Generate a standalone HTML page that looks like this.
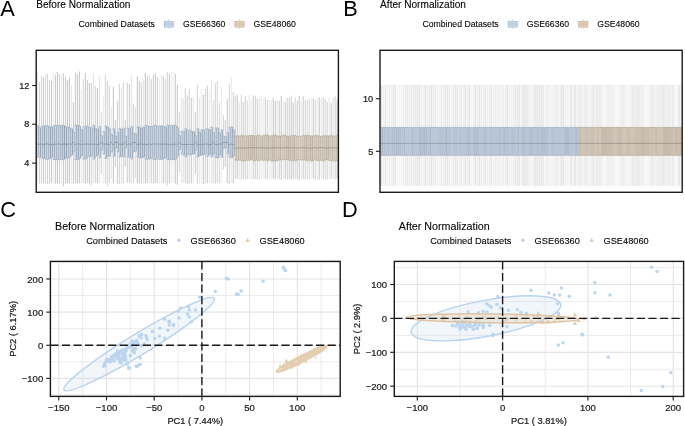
<!DOCTYPE html>
<html><head><meta charset="utf-8"><style>
html,body{margin:0;padding:0;background:#fff;}
svg{display:block;}
text{font-family:"Liberation Sans", sans-serif;}
</style></head><body>
<svg width="685" height="426" viewBox="0 0 685 426">
<rect width="685" height="426" fill="#fff"/>
<g opacity="0.999">
<text x="0.30" y="16.00" font-size="21.8" text-anchor="start" fill="#000" >A</text>
<text x="343.20" y="16.00" font-size="21.8" text-anchor="start" fill="#000" >B</text>
<text x="0.20" y="216.70" font-size="21.8" text-anchor="start" fill="#000" >C</text>
<text x="341.90" y="216.70" font-size="21.8" text-anchor="start" fill="#000" >D</text>
<text x="36.20" y="7.90" font-size="10.1" text-anchor="start" fill="#000" stroke="#000" stroke-width="0.1" >Before Normalization</text>
<text x="78.60" y="26.90" font-size="8.7" text-anchor="start" fill="#000" stroke="#000" stroke-width="0.1" >Combined Datasets</text>
<line x1="168.9" y1="18.8" x2="168.9" y2="29" stroke="#cfcfcf" stroke-width="0.8"/>
<rect x="164.3" y="21.2" width="9.3" height="5.9" fill="#c6d8ec" stroke="#9aa6b4" stroke-width="0.5"/>
<line x1="164.3" y1="24.15" x2="173.6" y2="24.15" stroke="#9aa6b4" stroke-width="0.4"/>
<line x1="239.4" y1="18.8" x2="239.4" y2="29" stroke="#cfcfcf" stroke-width="0.8"/>
<rect x="234.8" y="21.2" width="9.3" height="5.9" fill="#e2cfb3" stroke="#b0a592" stroke-width="0.5"/>
<line x1="234.8" y1="24.15" x2="244.1" y2="24.15" stroke="#b0a592" stroke-width="0.4"/>
<text x="182.90" y="26.90" font-size="8.7" text-anchor="start" fill="#000" stroke="#000" stroke-width="0.1" >GSE66360</text>
<text x="253.40" y="26.90" font-size="8.7" text-anchor="start" fill="#000" stroke="#000" stroke-width="0.1" >GSE48060</text>
<line x1="37.40" y1="71.20" x2="37.40" y2="183.58" stroke="rgb(234,234,234)" stroke-width="0.9"/>
<line x1="39.40" y1="82.10" x2="39.40" y2="183.51" stroke="rgb(204,204,204)" stroke-width="0.9"/>
<line x1="41.40" y1="76.20" x2="41.40" y2="183.52" stroke="rgb(206,206,206)" stroke-width="0.9"/>
<line x1="43.40" y1="77.30" x2="43.40" y2="182.93" stroke="rgb(195,195,195)" stroke-width="0.9"/>
<line x1="45.39" y1="75.10" x2="45.39" y2="183.93" stroke="rgb(208,208,208)" stroke-width="0.9"/>
<line x1="47.39" y1="74.00" x2="47.39" y2="184.18" stroke="rgb(200,200,200)" stroke-width="0.9"/>
<line x1="49.39" y1="80.10" x2="49.39" y2="183.71" stroke="rgb(205,205,205)" stroke-width="0.9"/>
<line x1="51.39" y1="81.00" x2="51.39" y2="182.89" stroke="rgb(187,187,187)" stroke-width="0.9"/>
<line x1="53.39" y1="73.20" x2="53.39" y2="183.64" stroke="rgb(232,232,232)" stroke-width="0.9"/>
<line x1="55.39" y1="75.10" x2="55.39" y2="183.63" stroke="rgb(192,192,192)" stroke-width="0.9"/>
<line x1="57.39" y1="71.90" x2="57.39" y2="183.21" stroke="rgb(186,186,186)" stroke-width="0.9"/>
<line x1="59.38" y1="74.00" x2="59.38" y2="183.72" stroke="rgb(199,199,199)" stroke-width="0.9"/>
<line x1="61.38" y1="74.40" x2="61.38" y2="183.98" stroke="rgb(231,231,231)" stroke-width="0.9"/>
<line x1="63.38" y1="73.00" x2="63.38" y2="186.30" stroke="rgb(195,195,195)" stroke-width="0.9"/>
<line x1="65.38" y1="76.60" x2="65.38" y2="183.87" stroke="rgb(198,198,198)" stroke-width="0.9"/>
<line x1="67.38" y1="80.20" x2="67.38" y2="183.34" stroke="rgb(186,186,186)" stroke-width="0.9"/>
<line x1="69.38" y1="78.10" x2="69.38" y2="183.09" stroke="rgb(187,187,187)" stroke-width="0.9"/>
<line x1="71.38" y1="84.90" x2="71.38" y2="183.79" stroke="rgb(226,226,226)" stroke-width="0.9"/>
<line x1="73.38" y1="102.10" x2="73.38" y2="183.59" stroke="rgb(192,192,192)" stroke-width="0.9"/>
<line x1="75.37" y1="72.50" x2="75.37" y2="183.27" stroke="rgb(195,195,195)" stroke-width="0.9"/>
<line x1="77.37" y1="74.00" x2="77.37" y2="183.37" stroke="rgb(189,189,189)" stroke-width="0.9"/>
<line x1="79.37" y1="71.50" x2="79.37" y2="182.94" stroke="rgb(187,187,187)" stroke-width="0.9"/>
<line x1="81.37" y1="89.00" x2="81.37" y2="183.05" stroke="rgb(228,228,228)" stroke-width="0.9"/>
<line x1="83.37" y1="79.10" x2="83.37" y2="183.07" stroke="rgb(209,209,209)" stroke-width="0.9"/>
<line x1="85.37" y1="73.00" x2="85.37" y2="183.70" stroke="rgb(189,189,189)" stroke-width="0.9"/>
<line x1="87.37" y1="80.20" x2="87.37" y2="183.10" stroke="rgb(194,194,194)" stroke-width="0.9"/>
<line x1="89.36" y1="82.90" x2="89.36" y2="184.20" stroke="rgb(186,186,186)" stroke-width="0.9"/>
<line x1="91.36" y1="83.20" x2="91.36" y2="185.50" stroke="rgb(205,205,205)" stroke-width="0.9"/>
<line x1="93.36" y1="73.20" x2="93.36" y2="182.86" stroke="rgb(222,222,222)" stroke-width="0.9"/>
<line x1="95.36" y1="85.80" x2="95.36" y2="182.81" stroke="rgb(205,205,205)" stroke-width="0.9"/>
<line x1="97.36" y1="88.00" x2="97.36" y2="183.34" stroke="rgb(188,188,188)" stroke-width="0.9"/>
<line x1="99.36" y1="76.60" x2="99.36" y2="183.69" stroke="rgb(220,220,220)" stroke-width="0.9"/>
<line x1="101.36" y1="112.40" x2="101.36" y2="173.90" stroke="rgb(205,205,205)" stroke-width="0.9"/>
<line x1="103.36" y1="96.30" x2="103.36" y2="183.62" stroke="rgb(233,233,233)" stroke-width="0.9"/>
<line x1="105.35" y1="75.10" x2="105.35" y2="183.34" stroke="rgb(206,206,206)" stroke-width="0.9"/>
<line x1="107.35" y1="81.00" x2="107.35" y2="186.30" stroke="rgb(205,205,205)" stroke-width="0.9"/>
<line x1="109.35" y1="85.80" x2="109.35" y2="183.02" stroke="rgb(206,206,206)" stroke-width="0.9"/>
<line x1="111.35" y1="107.00" x2="111.35" y2="179.00" stroke="rgb(226,226,226)" stroke-width="0.9"/>
<line x1="113.35" y1="86.80" x2="113.35" y2="183.39" stroke="rgb(189,189,189)" stroke-width="0.9"/>
<line x1="115.35" y1="120.00" x2="115.35" y2="166.60" stroke="rgb(194,194,194)" stroke-width="0.9"/>
<line x1="117.35" y1="100.70" x2="117.35" y2="183.84" stroke="rgb(198,198,198)" stroke-width="0.9"/>
<line x1="119.34" y1="83.90" x2="119.34" y2="184.07" stroke="rgb(201,201,201)" stroke-width="0.9"/>
<line x1="121.34" y1="88.30" x2="121.34" y2="184.10" stroke="rgb(221,221,221)" stroke-width="0.9"/>
<line x1="123.34" y1="82.90" x2="123.34" y2="183.58" stroke="rgb(205,205,205)" stroke-width="0.9"/>
<line x1="125.34" y1="120.00" x2="125.34" y2="166.60" stroke="rgb(192,192,192)" stroke-width="0.9"/>
<line x1="127.34" y1="82.90" x2="127.34" y2="182.90" stroke="rgb(199,199,199)" stroke-width="0.9"/>
<line x1="129.34" y1="83.90" x2="129.34" y2="182.87" stroke="rgb(195,195,195)" stroke-width="0.9"/>
<line x1="131.34" y1="75.60" x2="131.34" y2="184.80" stroke="rgb(221,221,221)" stroke-width="0.9"/>
<line x1="133.34" y1="103.60" x2="133.34" y2="182.99" stroke="rgb(200,200,200)" stroke-width="0.9"/>
<line x1="135.33" y1="107.40" x2="135.33" y2="178.20" stroke="rgb(208,208,208)" stroke-width="0.9"/>
<line x1="137.33" y1="77.00" x2="137.33" y2="183.00" stroke="rgb(187,187,187)" stroke-width="0.9"/>
<line x1="139.33" y1="80.70" x2="139.33" y2="183.30" stroke="rgb(195,195,195)" stroke-width="0.9"/>
<line x1="141.33" y1="82.40" x2="141.33" y2="183.69" stroke="rgb(201,201,201)" stroke-width="0.9"/>
<line x1="143.33" y1="78.80" x2="143.33" y2="183.25" stroke="rgb(221,221,221)" stroke-width="0.9"/>
<line x1="145.33" y1="72.90" x2="145.33" y2="183.31" stroke="rgb(187,187,187)" stroke-width="0.9"/>
<line x1="147.33" y1="76.20" x2="147.33" y2="182.98" stroke="rgb(196,196,196)" stroke-width="0.9"/>
<line x1="149.33" y1="74.80" x2="149.33" y2="183.46" stroke="rgb(221,221,221)" stroke-width="0.9"/>
<line x1="151.32" y1="79.10" x2="151.32" y2="182.84" stroke="rgb(201,201,201)" stroke-width="0.9"/>
<line x1="153.32" y1="75.10" x2="153.32" y2="183.73" stroke="rgb(198,198,198)" stroke-width="0.9"/>
<line x1="155.32" y1="73.40" x2="155.32" y2="182.90" stroke="rgb(188,188,188)" stroke-width="0.9"/>
<line x1="157.32" y1="76.90" x2="157.32" y2="183.16" stroke="rgb(199,199,199)" stroke-width="0.9"/>
<line x1="159.32" y1="79.10" x2="159.32" y2="184.11" stroke="rgb(231,231,231)" stroke-width="0.9"/>
<line x1="161.32" y1="74.80" x2="161.32" y2="183.45" stroke="rgb(228,228,228)" stroke-width="0.9"/>
<line x1="163.32" y1="76.20" x2="163.32" y2="183.52" stroke="rgb(195,195,195)" stroke-width="0.9"/>
<line x1="165.31" y1="78.80" x2="165.31" y2="182.83" stroke="rgb(208,208,208)" stroke-width="0.9"/>
<line x1="167.31" y1="71.90" x2="167.31" y2="185.50" stroke="rgb(201,201,201)" stroke-width="0.9"/>
<line x1="169.31" y1="74.00" x2="169.31" y2="183.32" stroke="rgb(190,190,190)" stroke-width="0.9"/>
<line x1="171.31" y1="71.90" x2="171.31" y2="183.53" stroke="rgb(232,232,232)" stroke-width="0.9"/>
<line x1="173.31" y1="71.90" x2="173.31" y2="183.42" stroke="rgb(234,234,234)" stroke-width="0.9"/>
<line x1="175.31" y1="73.70" x2="175.31" y2="183.73" stroke="rgb(192,192,192)" stroke-width="0.9"/>
<line x1="177.31" y1="84.60" x2="177.31" y2="184.80" stroke="rgb(192,192,192)" stroke-width="0.9"/>
<line x1="179.31" y1="112.40" x2="179.31" y2="172.40" stroke="rgb(204,204,204)" stroke-width="0.9"/>
<line x1="181.30" y1="97.00" x2="181.30" y2="182.99" stroke="rgb(225,225,225)" stroke-width="0.9"/>
<line x1="183.30" y1="98.20" x2="183.30" y2="182.86" stroke="rgb(221,221,221)" stroke-width="0.9"/>
<line x1="185.30" y1="88.60" x2="185.30" y2="182.96" stroke="rgb(201,201,201)" stroke-width="0.9"/>
<line x1="187.30" y1="95.30" x2="187.30" y2="183.96" stroke="rgb(198,198,198)" stroke-width="0.9"/>
<line x1="189.30" y1="89.00" x2="189.30" y2="183.74" stroke="rgb(208,208,208)" stroke-width="0.9"/>
<line x1="191.30" y1="97.80" x2="191.30" y2="183.67" stroke="rgb(196,196,196)" stroke-width="0.9"/>
<line x1="193.30" y1="97.00" x2="193.30" y2="183.19" stroke="rgb(229,229,229)" stroke-width="0.9"/>
<line x1="195.29" y1="111.90" x2="195.29" y2="173.90" stroke="rgb(194,194,194)" stroke-width="0.9"/>
<line x1="197.29" y1="84.90" x2="197.29" y2="183.71" stroke="rgb(204,204,204)" stroke-width="0.9"/>
<line x1="199.29" y1="98.50" x2="199.29" y2="183.37" stroke="rgb(223,223,223)" stroke-width="0.9"/>
<line x1="201.29" y1="89.00" x2="201.29" y2="183.17" stroke="rgb(232,232,232)" stroke-width="0.9"/>
<line x1="203.29" y1="94.80" x2="203.29" y2="184.18" stroke="rgb(189,189,189)" stroke-width="0.9"/>
<line x1="205.29" y1="89.00" x2="205.29" y2="183.55" stroke="rgb(206,206,206)" stroke-width="0.9"/>
<line x1="207.29" y1="85.80" x2="207.29" y2="182.91" stroke="rgb(192,192,192)" stroke-width="0.9"/>
<line x1="209.29" y1="91.90" x2="209.29" y2="183.16" stroke="rgb(231,231,231)" stroke-width="0.9"/>
<line x1="211.28" y1="80.20" x2="211.28" y2="183.55" stroke="rgb(220,220,220)" stroke-width="0.9"/>
<line x1="213.28" y1="100.00" x2="213.28" y2="183.12" stroke="rgb(210,210,210)" stroke-width="0.9"/>
<line x1="215.28" y1="83.20" x2="215.28" y2="184.13" stroke="rgb(202,202,202)" stroke-width="0.9"/>
<line x1="217.28" y1="81.00" x2="217.28" y2="183.02" stroke="rgb(208,208,208)" stroke-width="0.9"/>
<line x1="219.28" y1="103.20" x2="219.28" y2="184.11" stroke="rgb(209,209,209)" stroke-width="0.9"/>
<line x1="221.28" y1="87.50" x2="221.28" y2="183.43" stroke="rgb(230,230,230)" stroke-width="0.9"/>
<line x1="223.28" y1="115.30" x2="223.28" y2="169.50" stroke="rgb(204,204,204)" stroke-width="0.9"/>
<line x1="225.27" y1="120.00" x2="225.27" y2="166.60" stroke="rgb(196,196,196)" stroke-width="0.9"/>
<line x1="227.27" y1="99.20" x2="227.27" y2="183.26" stroke="rgb(192,192,192)" stroke-width="0.9"/>
<line x1="229.27" y1="83.90" x2="229.27" y2="183.95" stroke="rgb(206,206,206)" stroke-width="0.9"/>
<line x1="231.27" y1="76.90" x2="231.27" y2="183.14" stroke="rgb(226,226,226)" stroke-width="0.9"/>
<line x1="233.27" y1="91.90" x2="233.27" y2="183.55" stroke="rgb(196,196,196)" stroke-width="0.9"/>
<line x1="235.27" y1="96.00" x2="235.27" y2="178.61" stroke="rgb(200,200,200)" stroke-width="0.9"/>
<line x1="237.27" y1="94.70" x2="237.27" y2="178.54" stroke="rgb(188,188,188)" stroke-width="0.9"/>
<line x1="239.27" y1="102.80" x2="239.27" y2="179.52" stroke="rgb(222,222,222)" stroke-width="0.9"/>
<line x1="241.26" y1="95.00" x2="241.26" y2="179.59" stroke="rgb(208,208,208)" stroke-width="0.9"/>
<line x1="243.26" y1="101.90" x2="243.26" y2="178.61" stroke="rgb(193,193,193)" stroke-width="0.9"/>
<line x1="245.26" y1="96.00" x2="245.26" y2="179.33" stroke="rgb(202,202,202)" stroke-width="0.9"/>
<line x1="247.26" y1="100.70" x2="247.26" y2="179.00" stroke="rgb(205,205,205)" stroke-width="0.9"/>
<line x1="249.26" y1="94.30" x2="249.26" y2="178.85" stroke="rgb(227,227,227)" stroke-width="0.9"/>
<line x1="251.26" y1="99.80" x2="251.26" y2="178.99" stroke="rgb(228,228,228)" stroke-width="0.9"/>
<line x1="253.26" y1="95.60" x2="253.26" y2="179.23" stroke="rgb(201,201,201)" stroke-width="0.9"/>
<line x1="255.26" y1="95.80" x2="255.26" y2="179.04" stroke="rgb(198,198,198)" stroke-width="0.9"/>
<line x1="257.25" y1="99.00" x2="257.25" y2="179.67" stroke="rgb(201,201,201)" stroke-width="0.9"/>
<line x1="259.25" y1="98.10" x2="259.25" y2="179.70" stroke="rgb(222,222,222)" stroke-width="0.9"/>
<line x1="261.25" y1="95.60" x2="261.25" y2="178.80" stroke="rgb(230,230,230)" stroke-width="0.9"/>
<line x1="263.25" y1="99.00" x2="263.25" y2="178.64" stroke="rgb(231,231,231)" stroke-width="0.9"/>
<line x1="265.25" y1="97.10" x2="265.25" y2="178.76" stroke="rgb(202,202,202)" stroke-width="0.9"/>
<line x1="267.25" y1="99.80" x2="267.25" y2="179.30" stroke="rgb(203,203,203)" stroke-width="0.9"/>
<line x1="269.25" y1="99.80" x2="269.25" y2="178.78" stroke="rgb(228,228,228)" stroke-width="0.9"/>
<line x1="271.24" y1="99.80" x2="271.24" y2="179.32" stroke="rgb(225,225,225)" stroke-width="0.9"/>
<line x1="273.24" y1="97.90" x2="273.24" y2="178.78" stroke="rgb(192,192,192)" stroke-width="0.9"/>
<line x1="275.24" y1="100.80" x2="275.24" y2="178.84" stroke="rgb(189,189,189)" stroke-width="0.9"/>
<line x1="277.24" y1="99.80" x2="277.24" y2="178.66" stroke="rgb(226,226,226)" stroke-width="0.9"/>
<line x1="279.24" y1="100.80" x2="279.24" y2="179.39" stroke="rgb(197,197,197)" stroke-width="0.9"/>
<line x1="281.24" y1="96.00" x2="281.24" y2="179.80" stroke="rgb(192,192,192)" stroke-width="0.9"/>
<line x1="283.24" y1="100.20" x2="283.24" y2="179.22" stroke="rgb(228,228,228)" stroke-width="0.9"/>
<line x1="285.24" y1="101.90" x2="285.24" y2="178.72" stroke="rgb(191,191,191)" stroke-width="0.9"/>
<line x1="287.23" y1="98.10" x2="287.23" y2="179.74" stroke="rgb(200,200,200)" stroke-width="0.9"/>
<line x1="289.23" y1="98.10" x2="289.23" y2="179.17" stroke="rgb(199,199,199)" stroke-width="0.9"/>
<line x1="291.23" y1="95.60" x2="291.23" y2="179.60" stroke="rgb(191,191,191)" stroke-width="0.9"/>
<line x1="293.23" y1="102.80" x2="293.23" y2="178.75" stroke="rgb(191,191,191)" stroke-width="0.9"/>
<line x1="295.23" y1="97.50" x2="295.23" y2="179.54" stroke="rgb(208,208,208)" stroke-width="0.9"/>
<line x1="297.23" y1="100.70" x2="297.23" y2="179.26" stroke="rgb(196,196,196)" stroke-width="0.9"/>
<line x1="299.23" y1="96.00" x2="299.23" y2="179.47" stroke="rgb(191,191,191)" stroke-width="0.9"/>
<line x1="301.22" y1="101.10" x2="301.22" y2="179.20" stroke="rgb(225,225,225)" stroke-width="0.9"/>
<line x1="303.22" y1="96.30" x2="303.22" y2="178.74" stroke="rgb(196,196,196)" stroke-width="0.9"/>
<line x1="305.22" y1="99.80" x2="305.22" y2="179.33" stroke="rgb(205,205,205)" stroke-width="0.9"/>
<line x1="307.22" y1="100.20" x2="307.22" y2="178.94" stroke="rgb(207,207,207)" stroke-width="0.9"/>
<line x1="309.22" y1="99.00" x2="309.22" y2="179.80" stroke="rgb(206,206,206)" stroke-width="0.9"/>
<line x1="311.22" y1="98.10" x2="311.22" y2="178.53" stroke="rgb(229,229,229)" stroke-width="0.9"/>
<line x1="313.22" y1="98.10" x2="313.22" y2="178.57" stroke="rgb(192,192,192)" stroke-width="0.9"/>
<line x1="315.22" y1="99.80" x2="315.22" y2="179.68" stroke="rgb(203,203,203)" stroke-width="0.9"/>
<line x1="317.21" y1="99.00" x2="317.21" y2="179.79" stroke="rgb(230,230,230)" stroke-width="0.9"/>
<line x1="319.21" y1="97.10" x2="319.21" y2="179.49" stroke="rgb(187,187,187)" stroke-width="0.9"/>
<line x1="321.21" y1="98.50" x2="321.21" y2="178.72" stroke="rgb(227,227,227)" stroke-width="0.9"/>
<line x1="323.21" y1="96.90" x2="323.21" y2="179.05" stroke="rgb(202,202,202)" stroke-width="0.9"/>
<line x1="325.21" y1="99.00" x2="325.21" y2="179.35" stroke="rgb(203,203,203)" stroke-width="0.9"/>
<line x1="327.21" y1="101.90" x2="327.21" y2="179.50" stroke="rgb(204,204,204)" stroke-width="0.9"/>
<line x1="329.21" y1="98.10" x2="329.21" y2="178.57" stroke="rgb(225,225,225)" stroke-width="0.9"/>
<line x1="331.20" y1="103.00" x2="331.20" y2="178.92" stroke="rgb(193,193,193)" stroke-width="0.9"/>
<line x1="333.20" y1="97.30" x2="333.20" y2="178.56" stroke="rgb(221,221,221)" stroke-width="0.9"/>
<line x1="335.20" y1="96.40" x2="335.20" y2="179.56" stroke="rgb(205,205,205)" stroke-width="0.9"/>
<line x1="337.20" y1="99.40" x2="337.20" y2="178.76" stroke="rgb(187,187,187)" stroke-width="0.9"/>
<rect x="36.50" y="125.30" width="1.80" height="31.60" fill="rgb(203,219,236)"/>
<rect x="38.50" y="127.60" width="1.80" height="29.80" fill="rgb(203,219,236)"/>
<rect x="40.50" y="126.50" width="1.80" height="31.50" fill="rgb(203,219,236)"/>
<rect x="42.50" y="125.90" width="1.80" height="32.70" fill="rgb(203,219,236)"/>
<rect x="44.49" y="125.70" width="1.80" height="33.40" fill="rgb(203,219,236)"/>
<rect x="46.49" y="125.70" width="1.80" height="33.80" fill="rgb(203,219,236)"/>
<rect x="48.49" y="126.80" width="1.80" height="31.80" fill="rgb(203,219,236)"/>
<rect x="50.49" y="127.00" width="1.80" height="30.40" fill="rgb(203,219,236)"/>
<rect x="52.49" y="125.70" width="1.80" height="33.80" fill="rgb(203,219,236)"/>
<rect x="54.49" y="125.30" width="1.80" height="34.20" fill="rgb(203,219,236)"/>
<rect x="56.49" y="125.30" width="1.80" height="34.40" fill="rgb(203,219,236)"/>
<rect x="58.49" y="125.70" width="1.80" height="34.00" fill="rgb(203,219,236)"/>
<rect x="60.48" y="125.30" width="1.80" height="34.20" fill="rgb(203,219,236)"/>
<rect x="62.48" y="125.30" width="1.80" height="34.20" fill="rgb(203,219,236)"/>
<rect x="64.48" y="126.80" width="1.80" height="31.20" fill="rgb(203,219,236)"/>
<rect x="66.48" y="127.00" width="1.80" height="31.30" fill="rgb(203,219,236)"/>
<rect x="68.48" y="127.60" width="1.80" height="29.80" fill="rgb(203,219,236)"/>
<rect x="70.48" y="128.70" width="1.80" height="26.50" fill="rgb(203,219,236)"/>
<rect x="72.48" y="132.10" width="1.80" height="19.70" fill="rgb(203,219,236)"/>
<rect x="74.47" y="125.30" width="1.80" height="34.20" fill="rgb(203,219,236)"/>
<rect x="76.47" y="125.30" width="1.80" height="34.20" fill="rgb(203,219,236)"/>
<rect x="78.47" y="125.90" width="1.80" height="32.70" fill="rgb(203,219,236)"/>
<rect x="80.47" y="129.30" width="1.80" height="26.40" fill="rgb(203,219,236)"/>
<rect x="82.47" y="127.00" width="1.80" height="32.10" fill="rgb(203,219,236)"/>
<rect x="84.47" y="125.90" width="1.80" height="33.20" fill="rgb(203,219,236)"/>
<rect x="86.47" y="126.50" width="1.80" height="29.80" fill="rgb(203,219,236)"/>
<rect x="88.47" y="127.60" width="1.80" height="29.30" fill="rgb(203,219,236)"/>
<rect x="90.46" y="127.60" width="1.80" height="28.70" fill="rgb(203,219,236)"/>
<rect x="92.46" y="125.30" width="1.80" height="33.80" fill="rgb(203,219,236)"/>
<rect x="94.46" y="128.70" width="1.80" height="27.60" fill="rgb(203,219,236)"/>
<rect x="96.46" y="128.70" width="1.80" height="26.50" fill="rgb(203,219,236)"/>
<rect x="98.46" y="126.50" width="1.80" height="31.50" fill="rgb(203,219,236)"/>
<rect x="100.46" y="135.50" width="1.80" height="14.60" fill="rgb(203,219,236)"/>
<rect x="102.46" y="131.50" width="1.80" height="22.60" fill="rgb(203,219,236)"/>
<rect x="104.45" y="125.90" width="1.80" height="32.70" fill="rgb(203,219,236)"/>
<rect x="106.45" y="127.00" width="1.80" height="29.30" fill="rgb(203,219,236)"/>
<rect x="108.45" y="128.70" width="1.80" height="27.60" fill="rgb(203,219,236)"/>
<rect x="110.45" y="134.30" width="1.80" height="17.50" fill="rgb(203,219,236)"/>
<rect x="112.45" y="128.70" width="1.80" height="27.60" fill="rgb(203,219,236)"/>
<rect x="114.45" y="136.00" width="1.80" height="12.20" fill="rgb(203,219,236)"/>
<rect x="116.45" y="132.10" width="1.80" height="19.70" fill="rgb(203,219,236)"/>
<rect x="118.45" y="128.70" width="1.80" height="28.20" fill="rgb(203,219,236)"/>
<rect x="120.44" y="129.30" width="1.80" height="27.00" fill="rgb(203,219,236)"/>
<rect x="122.44" y="128.10" width="1.80" height="28.80" fill="rgb(203,219,236)"/>
<rect x="124.44" y="136.00" width="1.80" height="12.20" fill="rgb(203,219,236)"/>
<rect x="126.44" y="128.10" width="1.80" height="28.80" fill="rgb(203,219,236)"/>
<rect x="128.44" y="128.10" width="1.80" height="29.30" fill="rgb(203,219,236)"/>
<rect x="130.44" y="126.50" width="1.80" height="32.60" fill="rgb(203,219,236)"/>
<rect x="132.44" y="133.20" width="1.80" height="18.60" fill="rgb(203,219,236)"/>
<rect x="134.43" y="133.80" width="1.80" height="17.40" fill="rgb(203,219,236)"/>
<rect x="136.43" y="126.80" width="1.80" height="30.10" fill="rgb(203,219,236)"/>
<rect x="138.43" y="127.60" width="1.80" height="30.40" fill="rgb(203,219,236)"/>
<rect x="140.43" y="128.10" width="1.80" height="29.90" fill="rgb(203,219,236)"/>
<rect x="142.43" y="127.00" width="1.80" height="29.90" fill="rgb(203,219,236)"/>
<rect x="144.43" y="125.30" width="1.80" height="33.80" fill="rgb(203,219,236)"/>
<rect x="146.43" y="126.10" width="1.80" height="33.00" fill="rgb(203,219,236)"/>
<rect x="148.43" y="126.10" width="1.80" height="33.00" fill="rgb(203,219,236)"/>
<rect x="150.42" y="126.80" width="1.80" height="31.20" fill="rgb(203,219,236)"/>
<rect x="152.42" y="125.70" width="1.80" height="33.80" fill="rgb(203,219,236)"/>
<rect x="154.42" y="125.30" width="1.80" height="34.20" fill="rgb(203,219,236)"/>
<rect x="156.42" y="126.50" width="1.80" height="32.10" fill="rgb(203,219,236)"/>
<rect x="158.42" y="125.90" width="1.80" height="33.60" fill="rgb(203,219,236)"/>
<rect x="160.42" y="125.70" width="1.80" height="33.80" fill="rgb(203,219,236)"/>
<rect x="162.42" y="126.50" width="1.80" height="32.10" fill="rgb(203,219,236)"/>
<rect x="164.42" y="127.00" width="1.80" height="31.00" fill="rgb(203,219,236)"/>
<rect x="166.41" y="125.30" width="1.80" height="34.20" fill="rgb(203,219,236)"/>
<rect x="168.41" y="125.90" width="1.80" height="33.60" fill="rgb(203,219,236)"/>
<rect x="170.41" y="125.30" width="1.80" height="34.40" fill="rgb(203,219,236)"/>
<rect x="172.41" y="125.30" width="1.80" height="34.40" fill="rgb(203,219,236)"/>
<rect x="174.41" y="125.30" width="1.80" height="33.80" fill="rgb(203,219,236)"/>
<rect x="176.41" y="127.60" width="1.80" height="28.70" fill="rgb(203,219,236)"/>
<rect x="178.41" y="135.50" width="1.80" height="14.00" fill="rgb(203,219,236)"/>
<rect x="180.40" y="131.50" width="1.80" height="22.60" fill="rgb(203,219,236)"/>
<rect x="182.40" y="131.00" width="1.80" height="24.20" fill="rgb(203,219,236)"/>
<rect x="184.40" y="128.70" width="1.80" height="28.20" fill="rgb(203,219,236)"/>
<rect x="186.40" y="131.00" width="1.80" height="23.10" fill="rgb(203,219,236)"/>
<rect x="188.40" y="129.80" width="1.80" height="25.40" fill="rgb(203,219,236)"/>
<rect x="190.40" y="131.50" width="1.80" height="22.60" fill="rgb(203,219,236)"/>
<rect x="192.40" y="131.50" width="1.80" height="22.60" fill="rgb(203,219,236)"/>
<rect x="194.40" y="135.50" width="1.80" height="14.60" fill="rgb(203,219,236)"/>
<rect x="196.39" y="128.70" width="1.80" height="28.20" fill="rgb(203,219,236)"/>
<rect x="198.39" y="132.10" width="1.80" height="23.60" fill="rgb(203,219,236)"/>
<rect x="200.39" y="129.80" width="1.80" height="25.40" fill="rgb(203,219,236)"/>
<rect x="202.39" y="130.40" width="1.80" height="23.70" fill="rgb(203,219,236)"/>
<rect x="204.39" y="129.30" width="1.80" height="25.30" fill="rgb(203,219,236)"/>
<rect x="206.39" y="128.70" width="1.80" height="27.60" fill="rgb(203,219,236)"/>
<rect x="208.39" y="129.80" width="1.80" height="24.80" fill="rgb(203,219,236)"/>
<rect x="210.38" y="127.00" width="1.80" height="29.90" fill="rgb(203,219,236)"/>
<rect x="212.38" y="132.60" width="1.80" height="21.50" fill="rgb(203,219,236)"/>
<rect x="214.38" y="127.90" width="1.80" height="29.50" fill="rgb(203,219,236)"/>
<rect x="216.38" y="127.90" width="1.80" height="30.10" fill="rgb(203,219,236)"/>
<rect x="218.38" y="132.60" width="1.80" height="22.60" fill="rgb(203,219,236)"/>
<rect x="220.38" y="129.80" width="1.80" height="27.60" fill="rgb(203,219,236)"/>
<rect x="222.38" y="136.00" width="1.80" height="12.40" fill="rgb(203,219,236)"/>
<rect x="224.38" y="136.60" width="1.80" height="11.30" fill="rgb(203,219,236)"/>
<rect x="226.37" y="132.60" width="1.80" height="20.90" fill="rgb(203,219,236)"/>
<rect x="228.37" y="127.60" width="1.80" height="29.30" fill="rgb(203,219,236)"/>
<rect x="230.37" y="126.80" width="1.80" height="31.20" fill="rgb(203,219,236)"/>
<rect x="232.37" y="129.80" width="1.80" height="25.90" fill="rgb(203,219,236)"/>
<rect x="234.37" y="136.26" width="1.80" height="23.81" fill="rgb(228,212,188)"/>
<rect x="236.37" y="135.68" width="1.80" height="24.65" fill="rgb(228,212,188)"/>
<rect x="238.37" y="136.08" width="1.80" height="23.96" fill="rgb(228,212,188)"/>
<rect x="240.36" y="135.04" width="1.80" height="25.74" fill="rgb(228,212,188)"/>
<rect x="242.36" y="136.31" width="1.80" height="24.89" fill="rgb(228,212,188)"/>
<rect x="244.36" y="135.64" width="1.80" height="25.14" fill="rgb(228,212,188)"/>
<rect x="246.36" y="136.15" width="1.80" height="23.84" fill="rgb(228,212,188)"/>
<rect x="248.36" y="135.29" width="1.80" height="25.15" fill="rgb(228,212,188)"/>
<rect x="250.36" y="135.46" width="1.80" height="23.95" fill="rgb(228,212,188)"/>
<rect x="252.36" y="135.63" width="1.80" height="25.30" fill="rgb(228,212,188)"/>
<rect x="254.36" y="135.91" width="1.80" height="24.52" fill="rgb(228,212,188)"/>
<rect x="256.35" y="135.19" width="1.80" height="24.85" fill="rgb(228,212,188)"/>
<rect x="258.35" y="135.31" width="1.80" height="25.27" fill="rgb(228,212,188)"/>
<rect x="260.35" y="136.05" width="1.80" height="23.72" fill="rgb(228,212,188)"/>
<rect x="262.35" y="135.32" width="1.80" height="25.26" fill="rgb(228,212,188)"/>
<rect x="264.35" y="135.00" width="1.80" height="24.88" fill="rgb(228,212,188)"/>
<rect x="266.35" y="134.84" width="1.80" height="26.13" fill="rgb(228,212,188)"/>
<rect x="268.35" y="136.18" width="1.80" height="23.63" fill="rgb(228,212,188)"/>
<rect x="270.35" y="135.74" width="1.80" height="25.40" fill="rgb(228,212,188)"/>
<rect x="272.34" y="135.31" width="1.80" height="25.85" fill="rgb(228,212,188)"/>
<rect x="274.34" y="135.01" width="1.80" height="25.77" fill="rgb(228,212,188)"/>
<rect x="276.34" y="136.13" width="1.80" height="24.77" fill="rgb(228,212,188)"/>
<rect x="278.34" y="135.90" width="1.80" height="23.89" fill="rgb(228,212,188)"/>
<rect x="280.34" y="135.93" width="1.80" height="24.13" fill="rgb(228,212,188)"/>
<rect x="282.34" y="134.91" width="1.80" height="24.56" fill="rgb(228,212,188)"/>
<rect x="284.34" y="135.57" width="1.80" height="24.05" fill="rgb(228,212,188)"/>
<rect x="286.33" y="136.28" width="1.80" height="23.23" fill="rgb(228,212,188)"/>
<rect x="288.33" y="136.02" width="1.80" height="24.26" fill="rgb(228,212,188)"/>
<rect x="290.33" y="135.76" width="1.80" height="24.97" fill="rgb(228,212,188)"/>
<rect x="292.33" y="135.53" width="1.80" height="24.64" fill="rgb(228,212,188)"/>
<rect x="294.33" y="135.62" width="1.80" height="25.48" fill="rgb(228,212,188)"/>
<rect x="296.33" y="136.30" width="1.80" height="23.46" fill="rgb(228,212,188)"/>
<rect x="298.33" y="136.02" width="1.80" height="23.60" fill="rgb(228,212,188)"/>
<rect x="300.33" y="136.29" width="1.80" height="23.73" fill="rgb(228,212,188)"/>
<rect x="302.32" y="135.49" width="1.80" height="24.30" fill="rgb(228,212,188)"/>
<rect x="304.32" y="135.55" width="1.80" height="24.53" fill="rgb(228,212,188)"/>
<rect x="306.32" y="135.17" width="1.80" height="25.49" fill="rgb(228,212,188)"/>
<rect x="308.32" y="135.71" width="1.80" height="24.43" fill="rgb(228,212,188)"/>
<rect x="310.32" y="135.92" width="1.80" height="25.34" fill="rgb(228,212,188)"/>
<rect x="312.32" y="135.98" width="1.80" height="24.18" fill="rgb(228,212,188)"/>
<rect x="314.32" y="135.40" width="1.80" height="24.48" fill="rgb(228,212,188)"/>
<rect x="316.31" y="135.61" width="1.80" height="24.87" fill="rgb(228,212,188)"/>
<rect x="318.31" y="136.10" width="1.80" height="24.44" fill="rgb(228,212,188)"/>
<rect x="320.31" y="136.29" width="1.80" height="24.01" fill="rgb(228,212,188)"/>
<rect x="322.31" y="135.78" width="1.80" height="25.42" fill="rgb(228,212,188)"/>
<rect x="324.31" y="135.76" width="1.80" height="24.19" fill="rgb(228,212,188)"/>
<rect x="326.31" y="135.86" width="1.80" height="23.59" fill="rgb(228,212,188)"/>
<rect x="328.31" y="135.81" width="1.80" height="24.89" fill="rgb(228,212,188)"/>
<rect x="330.31" y="135.44" width="1.80" height="25.34" fill="rgb(228,212,188)"/>
<rect x="332.30" y="135.95" width="1.80" height="24.88" fill="rgb(228,212,188)"/>
<rect x="334.30" y="135.96" width="1.80" height="25.30" fill="rgb(228,212,188)"/>
<rect x="336.30" y="134.98" width="1.80" height="25.28" fill="rgb(228,212,188)"/>
<path d="M36.50 125.30H38.30M36.50 156.90H38.30" stroke="rgb(150,164,180)" stroke-width="0.6" fill="none"/>
<path d="M36.50 144.22H38.30" stroke="rgb(120,132,146)" stroke-width="0.75" fill="none"/>
<line x1="38.40" y1="125.30" x2="38.40" y2="156.90" stroke="rgb(170,183,198)" stroke-width="1.0"/>
<path d="M38.50 127.60H40.30M38.50 157.40H40.30" stroke="rgb(150,164,180)" stroke-width="0.6" fill="none"/>
<path d="M38.50 144.23H40.30" stroke="rgb(120,132,146)" stroke-width="0.75" fill="none"/>
<line x1="40.40" y1="127.60" x2="40.40" y2="157.40" stroke="rgb(152,165,180)" stroke-width="1.0"/>
<path d="M40.50 126.50H42.30M40.50 158.00H42.30" stroke="rgb(150,164,180)" stroke-width="0.6" fill="none"/>
<path d="M40.50 144.03H42.30" stroke="rgb(120,132,146)" stroke-width="0.75" fill="none"/>
<line x1="42.40" y1="126.50" x2="42.40" y2="158.00" stroke="rgb(165,178,193)" stroke-width="1.0"/>
<path d="M42.50 125.90H44.29M42.50 158.60H44.29" stroke="rgb(150,164,180)" stroke-width="0.6" fill="none"/>
<path d="M42.50 144.46H44.29" stroke="rgb(120,132,146)" stroke-width="0.75" fill="none"/>
<line x1="44.40" y1="125.90" x2="44.40" y2="158.60" stroke="rgb(150,163,178)" stroke-width="1.0"/>
<path d="M44.49 125.70H46.29M44.49 159.10H46.29" stroke="rgb(150,164,180)" stroke-width="0.6" fill="none"/>
<path d="M44.49 143.96H46.29" stroke="rgb(120,132,146)" stroke-width="0.75" fill="none"/>
<line x1="46.39" y1="125.70" x2="46.39" y2="159.10" stroke="rgb(166,179,194)" stroke-width="1.0"/>
<path d="M46.49 125.70H48.29M46.49 159.50H48.29" stroke="rgb(150,164,180)" stroke-width="0.6" fill="none"/>
<path d="M46.49 143.93H48.29" stroke="rgb(120,132,146)" stroke-width="0.75" fill="none"/>
<line x1="48.39" y1="125.70" x2="48.39" y2="159.50" stroke="rgb(166,179,194)" stroke-width="1.0"/>
<path d="M48.49 126.80H50.29M48.49 158.60H50.29" stroke="rgb(150,164,180)" stroke-width="0.6" fill="none"/>
<path d="M48.49 144.42H50.29" stroke="rgb(120,132,146)" stroke-width="0.75" fill="none"/>
<line x1="50.39" y1="126.80" x2="50.39" y2="158.60" stroke="rgb(146,159,174)" stroke-width="1.0"/>
<path d="M50.49 127.00H52.29M50.49 157.40H52.29" stroke="rgb(150,164,180)" stroke-width="0.6" fill="none"/>
<path d="M50.49 144.48H52.29" stroke="rgb(120,132,146)" stroke-width="0.75" fill="none"/>
<line x1="52.39" y1="127.00" x2="52.39" y2="157.40" stroke="rgb(152,165,180)" stroke-width="1.0"/>
<path d="M52.49 125.70H54.29M52.49 159.50H54.29" stroke="rgb(150,164,180)" stroke-width="0.6" fill="none"/>
<path d="M52.49 144.52H54.29" stroke="rgb(120,132,146)" stroke-width="0.75" fill="none"/>
<line x1="54.39" y1="125.70" x2="54.39" y2="159.50" stroke="rgb(160,173,188)" stroke-width="1.0"/>
<path d="M54.49 125.30H56.29M54.49 159.50H56.29" stroke="rgb(150,164,180)" stroke-width="0.6" fill="none"/>
<path d="M54.49 144.13H56.29" stroke="rgb(120,132,146)" stroke-width="0.75" fill="none"/>
<line x1="56.39" y1="125.30" x2="56.39" y2="159.50" stroke="rgb(162,175,190)" stroke-width="1.0"/>
<path d="M56.49 125.30H58.29M56.49 159.70H58.29" stroke="rgb(150,164,180)" stroke-width="0.6" fill="none"/>
<path d="M56.49 144.06H58.29" stroke="rgb(120,132,146)" stroke-width="0.75" fill="none"/>
<line x1="58.39" y1="125.30" x2="58.39" y2="159.70" stroke="rgb(167,180,195)" stroke-width="1.0"/>
<path d="M58.49 125.70H60.28M58.49 159.70H60.28" stroke="rgb(150,164,180)" stroke-width="0.6" fill="none"/>
<path d="M58.49 143.96H60.28" stroke="rgb(120,132,146)" stroke-width="0.75" fill="none"/>
<line x1="60.38" y1="125.70" x2="60.38" y2="159.70" stroke="rgb(163,176,191)" stroke-width="1.0"/>
<path d="M60.48 125.30H62.28M60.48 159.50H62.28" stroke="rgb(150,164,180)" stroke-width="0.6" fill="none"/>
<path d="M60.48 144.60H62.28" stroke="rgb(120,132,146)" stroke-width="0.75" fill="none"/>
<line x1="62.38" y1="125.30" x2="62.38" y2="159.50" stroke="rgb(154,167,182)" stroke-width="1.0"/>
<path d="M62.48 125.30H64.28M62.48 159.50H64.28" stroke="rgb(150,164,180)" stroke-width="0.6" fill="none"/>
<path d="M62.48 144.12H64.28" stroke="rgb(120,132,146)" stroke-width="0.75" fill="none"/>
<line x1="64.38" y1="125.30" x2="64.38" y2="159.50" stroke="rgb(146,159,174)" stroke-width="1.0"/>
<path d="M64.48 126.80H66.28M64.48 158.00H66.28" stroke="rgb(150,164,180)" stroke-width="0.6" fill="none"/>
<path d="M64.48 143.95H66.28" stroke="rgb(120,132,146)" stroke-width="0.75" fill="none"/>
<line x1="66.38" y1="126.80" x2="66.38" y2="158.00" stroke="rgb(149,162,177)" stroke-width="1.0"/>
<path d="M66.48 127.00H68.28M66.48 158.30H68.28" stroke="rgb(150,164,180)" stroke-width="0.6" fill="none"/>
<path d="M66.48 144.49H68.28" stroke="rgb(120,132,146)" stroke-width="0.75" fill="none"/>
<line x1="68.38" y1="127.00" x2="68.38" y2="158.30" stroke="rgb(167,180,195)" stroke-width="1.0"/>
<path d="M68.48 127.60H70.28M68.48 157.40H70.28" stroke="rgb(150,164,180)" stroke-width="0.6" fill="none"/>
<path d="M68.48 143.90H70.28" stroke="rgb(120,132,146)" stroke-width="0.75" fill="none"/>
<line x1="70.38" y1="127.60" x2="70.38" y2="157.40" stroke="rgb(161,174,189)" stroke-width="1.0"/>
<path d="M70.48 128.70H72.28M70.48 155.20H72.28" stroke="rgb(150,164,180)" stroke-width="0.6" fill="none"/>
<path d="M70.48 144.16H72.28" stroke="rgb(120,132,146)" stroke-width="0.75" fill="none"/>
<line x1="72.38" y1="128.70" x2="72.38" y2="155.20" stroke="rgb(148,161,176)" stroke-width="1.0"/>
<path d="M72.48 132.10H74.27M72.48 151.80H74.27" stroke="rgb(150,164,180)" stroke-width="0.6" fill="none"/>
<path d="M72.48 142.60H74.27" stroke="rgb(120,132,146)" stroke-width="0.75" fill="none"/>
<line x1="74.38" y1="132.10" x2="74.38" y2="151.80" stroke="rgb(170,183,198)" stroke-width="1.0"/>
<path d="M74.47 125.30H76.27M74.47 159.50H76.27" stroke="rgb(150,164,180)" stroke-width="0.6" fill="none"/>
<path d="M74.47 144.37H76.27" stroke="rgb(120,132,146)" stroke-width="0.75" fill="none"/>
<line x1="76.37" y1="125.30" x2="76.37" y2="159.50" stroke="rgb(156,169,184)" stroke-width="1.0"/>
<path d="M76.47 125.30H78.27M76.47 159.50H78.27" stroke="rgb(150,164,180)" stroke-width="0.6" fill="none"/>
<path d="M76.47 143.91H78.27" stroke="rgb(120,132,146)" stroke-width="0.75" fill="none"/>
<line x1="78.37" y1="125.30" x2="78.37" y2="159.50" stroke="rgb(150,163,178)" stroke-width="1.0"/>
<path d="M78.47 125.90H80.27M78.47 158.60H80.27" stroke="rgb(150,164,180)" stroke-width="0.6" fill="none"/>
<path d="M78.47 144.07H80.27" stroke="rgb(120,132,146)" stroke-width="0.75" fill="none"/>
<line x1="80.37" y1="125.90" x2="80.37" y2="158.60" stroke="rgb(160,173,188)" stroke-width="1.0"/>
<path d="M80.47 129.30H82.27M80.47 155.70H82.27" stroke="rgb(150,164,180)" stroke-width="0.6" fill="none"/>
<path d="M80.47 144.46H82.27" stroke="rgb(120,132,146)" stroke-width="0.75" fill="none"/>
<line x1="82.37" y1="129.30" x2="82.37" y2="155.70" stroke="rgb(152,165,180)" stroke-width="1.0"/>
<path d="M82.47 127.00H84.27M82.47 159.10H84.27" stroke="rgb(150,164,180)" stroke-width="0.6" fill="none"/>
<path d="M82.47 144.21H84.27" stroke="rgb(120,132,146)" stroke-width="0.75" fill="none"/>
<line x1="84.37" y1="127.00" x2="84.37" y2="159.10" stroke="rgb(170,183,198)" stroke-width="1.0"/>
<path d="M84.47 125.90H86.27M84.47 159.10H86.27" stroke="rgb(150,164,180)" stroke-width="0.6" fill="none"/>
<path d="M84.47 143.99H86.27" stroke="rgb(120,132,146)" stroke-width="0.75" fill="none"/>
<line x1="86.37" y1="125.90" x2="86.37" y2="159.10" stroke="rgb(158,171,186)" stroke-width="1.0"/>
<path d="M86.47 126.50H88.27M86.47 156.30H88.27" stroke="rgb(150,164,180)" stroke-width="0.6" fill="none"/>
<path d="M86.47 144.19H88.27" stroke="rgb(120,132,146)" stroke-width="0.75" fill="none"/>
<line x1="88.37" y1="126.50" x2="88.37" y2="156.30" stroke="rgb(171,184,199)" stroke-width="1.0"/>
<path d="M88.47 127.60H90.26M88.47 156.90H90.26" stroke="rgb(150,164,180)" stroke-width="0.6" fill="none"/>
<path d="M88.47 144.31H90.26" stroke="rgb(120,132,146)" stroke-width="0.75" fill="none"/>
<line x1="90.36" y1="127.60" x2="90.36" y2="156.90" stroke="rgb(152,165,180)" stroke-width="1.0"/>
<path d="M90.46 127.60H92.26M90.46 156.30H92.26" stroke="rgb(150,164,180)" stroke-width="0.6" fill="none"/>
<path d="M90.46 144.03H92.26" stroke="rgb(120,132,146)" stroke-width="0.75" fill="none"/>
<line x1="92.36" y1="127.60" x2="92.36" y2="156.30" stroke="rgb(166,179,194)" stroke-width="1.0"/>
<path d="M92.46 125.30H94.26M92.46 159.10H94.26" stroke="rgb(150,164,180)" stroke-width="0.6" fill="none"/>
<path d="M92.46 144.30H94.26" stroke="rgb(120,132,146)" stroke-width="0.75" fill="none"/>
<line x1="94.36" y1="125.30" x2="94.36" y2="159.10" stroke="rgb(152,165,180)" stroke-width="1.0"/>
<path d="M94.46 128.70H96.26M94.46 156.30H96.26" stroke="rgb(150,164,180)" stroke-width="0.6" fill="none"/>
<path d="M94.46 144.21H96.26" stroke="rgb(120,132,146)" stroke-width="0.75" fill="none"/>
<line x1="96.36" y1="128.70" x2="96.36" y2="156.30" stroke="rgb(156,169,184)" stroke-width="1.0"/>
<path d="M96.46 128.70H98.26M96.46 155.20H98.26" stroke="rgb(150,164,180)" stroke-width="0.6" fill="none"/>
<path d="M96.46 144.48H98.26" stroke="rgb(120,132,146)" stroke-width="0.75" fill="none"/>
<line x1="98.36" y1="128.70" x2="98.36" y2="155.20" stroke="rgb(148,161,176)" stroke-width="1.0"/>
<path d="M98.46 126.50H100.26M98.46 158.00H100.26" stroke="rgb(150,164,180)" stroke-width="0.6" fill="none"/>
<path d="M98.46 144.05H100.26" stroke="rgb(120,132,146)" stroke-width="0.75" fill="none"/>
<line x1="100.36" y1="126.50" x2="100.36" y2="158.00" stroke="rgb(165,178,193)" stroke-width="1.0"/>
<path d="M100.46 135.50H102.26M100.46 150.10H102.26" stroke="rgb(150,164,180)" stroke-width="0.6" fill="none"/>
<path d="M100.46 142.60H102.26" stroke="rgb(120,132,146)" stroke-width="0.75" fill="none"/>
<line x1="102.36" y1="135.50" x2="102.36" y2="150.10" stroke="rgb(160,173,188)" stroke-width="1.0"/>
<path d="M102.46 131.50H104.25M102.46 154.10H104.25" stroke="rgb(150,164,180)" stroke-width="0.6" fill="none"/>
<path d="M102.46 143.99H104.25" stroke="rgb(120,132,146)" stroke-width="0.75" fill="none"/>
<line x1="104.36" y1="131.50" x2="104.36" y2="154.10" stroke="rgb(164,177,192)" stroke-width="1.0"/>
<path d="M104.45 125.90H106.25M104.45 158.60H106.25" stroke="rgb(150,164,180)" stroke-width="0.6" fill="none"/>
<path d="M104.45 144.00H106.25" stroke="rgb(120,132,146)" stroke-width="0.75" fill="none"/>
<line x1="106.35" y1="125.90" x2="106.35" y2="158.60" stroke="rgb(150,163,178)" stroke-width="1.0"/>
<path d="M106.45 127.00H108.25M106.45 156.30H108.25" stroke="rgb(150,164,180)" stroke-width="0.6" fill="none"/>
<path d="M106.45 144.12H108.25" stroke="rgb(120,132,146)" stroke-width="0.75" fill="none"/>
<line x1="108.35" y1="127.00" x2="108.35" y2="156.30" stroke="rgb(153,166,181)" stroke-width="1.0"/>
<path d="M108.45 128.70H110.25M108.45 156.30H110.25" stroke="rgb(150,164,180)" stroke-width="0.6" fill="none"/>
<path d="M108.45 144.41H110.25" stroke="rgb(120,132,146)" stroke-width="0.75" fill="none"/>
<line x1="110.35" y1="128.70" x2="110.35" y2="156.30" stroke="rgb(163,176,191)" stroke-width="1.0"/>
<path d="M110.45 134.30H112.25M110.45 151.80H112.25" stroke="rgb(150,164,180)" stroke-width="0.6" fill="none"/>
<path d="M110.45 142.60H112.25" stroke="rgb(120,132,146)" stroke-width="0.75" fill="none"/>
<line x1="112.35" y1="134.30" x2="112.35" y2="151.80" stroke="rgb(161,174,189)" stroke-width="1.0"/>
<path d="M112.45 128.70H114.25M112.45 156.30H114.25" stroke="rgb(150,164,180)" stroke-width="0.6" fill="none"/>
<path d="M112.45 144.32H114.25" stroke="rgb(120,132,146)" stroke-width="0.75" fill="none"/>
<line x1="114.35" y1="128.70" x2="114.35" y2="156.30" stroke="rgb(149,162,177)" stroke-width="1.0"/>
<path d="M114.45 136.00H116.25M114.45 148.20H116.25" stroke="rgb(150,164,180)" stroke-width="0.6" fill="none"/>
<path d="M114.45 142.60H116.25" stroke="rgb(120,132,146)" stroke-width="0.75" fill="none"/>
<line x1="116.35" y1="136.00" x2="116.35" y2="148.20" stroke="rgb(153,166,181)" stroke-width="1.0"/>
<path d="M116.45 132.10H118.25M116.45 151.80H118.25" stroke="rgb(150,164,180)" stroke-width="0.6" fill="none"/>
<path d="M116.45 142.60H118.25" stroke="rgb(120,132,146)" stroke-width="0.75" fill="none"/>
<line x1="118.35" y1="132.10" x2="118.35" y2="151.80" stroke="rgb(154,167,182)" stroke-width="1.0"/>
<path d="M118.45 128.70H120.24M118.45 156.90H120.24" stroke="rgb(150,164,180)" stroke-width="0.6" fill="none"/>
<path d="M118.45 144.19H120.24" stroke="rgb(120,132,146)" stroke-width="0.75" fill="none"/>
<line x1="120.34" y1="128.70" x2="120.34" y2="156.90" stroke="rgb(155,168,183)" stroke-width="1.0"/>
<path d="M120.44 129.30H122.24M120.44 156.30H122.24" stroke="rgb(150,164,180)" stroke-width="0.6" fill="none"/>
<path d="M120.44 144.26H122.24" stroke="rgb(120,132,146)" stroke-width="0.75" fill="none"/>
<line x1="122.34" y1="129.30" x2="122.34" y2="156.30" stroke="rgb(150,163,178)" stroke-width="1.0"/>
<path d="M122.44 128.10H124.24M122.44 156.90H124.24" stroke="rgb(150,164,180)" stroke-width="0.6" fill="none"/>
<path d="M122.44 144.06H124.24" stroke="rgb(120,132,146)" stroke-width="0.75" fill="none"/>
<line x1="124.34" y1="128.10" x2="124.34" y2="156.90" stroke="rgb(165,178,193)" stroke-width="1.0"/>
<path d="M124.44 136.00H126.24M124.44 148.20H126.24" stroke="rgb(150,164,180)" stroke-width="0.6" fill="none"/>
<path d="M124.44 142.60H126.24" stroke="rgb(120,132,146)" stroke-width="0.75" fill="none"/>
<line x1="126.34" y1="136.00" x2="126.34" y2="148.20" stroke="rgb(152,165,180)" stroke-width="1.0"/>
<path d="M126.44 128.10H128.24M126.44 156.90H128.24" stroke="rgb(150,164,180)" stroke-width="0.6" fill="none"/>
<path d="M126.44 144.42H128.24" stroke="rgb(120,132,146)" stroke-width="0.75" fill="none"/>
<line x1="128.34" y1="128.10" x2="128.34" y2="156.90" stroke="rgb(160,173,188)" stroke-width="1.0"/>
<path d="M128.44 128.10H130.24M128.44 157.40H130.24" stroke="rgb(150,164,180)" stroke-width="0.6" fill="none"/>
<path d="M128.44 144.07H130.24" stroke="rgb(120,132,146)" stroke-width="0.75" fill="none"/>
<line x1="130.34" y1="128.10" x2="130.34" y2="157.40" stroke="rgb(157,170,185)" stroke-width="1.0"/>
<path d="M130.44 126.50H132.24M130.44 159.10H132.24" stroke="rgb(150,164,180)" stroke-width="0.6" fill="none"/>
<path d="M130.44 144.27H132.24" stroke="rgb(120,132,146)" stroke-width="0.75" fill="none"/>
<line x1="132.34" y1="126.50" x2="132.34" y2="159.10" stroke="rgb(157,170,185)" stroke-width="1.0"/>
<path d="M132.44 133.20H134.24M132.44 151.80H134.24" stroke="rgb(150,164,180)" stroke-width="0.6" fill="none"/>
<path d="M132.44 142.60H134.24" stroke="rgb(120,132,146)" stroke-width="0.75" fill="none"/>
<line x1="134.34" y1="133.20" x2="134.34" y2="151.80" stroke="rgb(156,169,184)" stroke-width="1.0"/>
<path d="M134.43 133.80H136.23M134.43 151.20H136.23" stroke="rgb(150,164,180)" stroke-width="0.6" fill="none"/>
<path d="M134.43 142.60H136.23" stroke="rgb(120,132,146)" stroke-width="0.75" fill="none"/>
<line x1="136.33" y1="133.80" x2="136.33" y2="151.20" stroke="rgb(162,175,190)" stroke-width="1.0"/>
<path d="M136.43 126.80H138.23M136.43 156.90H138.23" stroke="rgb(150,164,180)" stroke-width="0.6" fill="none"/>
<path d="M136.43 144.31H138.23" stroke="rgb(120,132,146)" stroke-width="0.75" fill="none"/>
<line x1="138.33" y1="126.80" x2="138.33" y2="156.90" stroke="rgb(146,159,174)" stroke-width="1.0"/>
<path d="M138.43 127.60H140.23M138.43 158.00H140.23" stroke="rgb(150,164,180)" stroke-width="0.6" fill="none"/>
<path d="M138.43 144.23H140.23" stroke="rgb(120,132,146)" stroke-width="0.75" fill="none"/>
<line x1="140.33" y1="127.60" x2="140.33" y2="158.00" stroke="rgb(147,160,175)" stroke-width="1.0"/>
<path d="M140.43 128.10H142.23M140.43 158.00H142.23" stroke="rgb(150,164,180)" stroke-width="0.6" fill="none"/>
<path d="M140.43 143.91H142.23" stroke="rgb(120,132,146)" stroke-width="0.75" fill="none"/>
<line x1="142.33" y1="128.10" x2="142.33" y2="158.00" stroke="rgb(148,161,176)" stroke-width="1.0"/>
<path d="M142.43 127.00H144.23M142.43 156.90H144.23" stroke="rgb(150,164,180)" stroke-width="0.6" fill="none"/>
<path d="M142.43 144.41H144.23" stroke="rgb(120,132,146)" stroke-width="0.75" fill="none"/>
<line x1="144.33" y1="127.00" x2="144.33" y2="156.90" stroke="rgb(148,161,176)" stroke-width="1.0"/>
<path d="M144.43 125.30H146.23M144.43 159.10H146.23" stroke="rgb(150,164,180)" stroke-width="0.6" fill="none"/>
<path d="M144.43 144.22H146.23" stroke="rgb(120,132,146)" stroke-width="0.75" fill="none"/>
<line x1="146.33" y1="125.30" x2="146.33" y2="159.10" stroke="rgb(169,182,197)" stroke-width="1.0"/>
<path d="M146.43 126.10H148.23M146.43 159.10H148.23" stroke="rgb(150,164,180)" stroke-width="0.6" fill="none"/>
<path d="M146.43 144.42H148.23" stroke="rgb(120,132,146)" stroke-width="0.75" fill="none"/>
<line x1="148.33" y1="126.10" x2="148.33" y2="159.10" stroke="rgb(157,170,185)" stroke-width="1.0"/>
<path d="M148.43 126.10H150.22M148.43 159.10H150.22" stroke="rgb(150,164,180)" stroke-width="0.6" fill="none"/>
<path d="M148.43 143.96H150.22" stroke="rgb(120,132,146)" stroke-width="0.75" fill="none"/>
<line x1="150.33" y1="126.10" x2="150.33" y2="159.10" stroke="rgb(159,172,187)" stroke-width="1.0"/>
<path d="M150.42 126.80H152.22M150.42 158.00H152.22" stroke="rgb(150,164,180)" stroke-width="0.6" fill="none"/>
<path d="M150.42 144.56H152.22" stroke="rgb(120,132,146)" stroke-width="0.75" fill="none"/>
<line x1="152.32" y1="126.80" x2="152.32" y2="158.00" stroke="rgb(164,177,192)" stroke-width="1.0"/>
<path d="M152.42 125.70H154.22M152.42 159.50H154.22" stroke="rgb(150,164,180)" stroke-width="0.6" fill="none"/>
<path d="M152.42 143.91H154.22" stroke="rgb(120,132,146)" stroke-width="0.75" fill="none"/>
<line x1="154.32" y1="125.70" x2="154.32" y2="159.50" stroke="rgb(164,177,192)" stroke-width="1.0"/>
<path d="M154.42 125.30H156.22M154.42 159.50H156.22" stroke="rgb(150,164,180)" stroke-width="0.6" fill="none"/>
<path d="M154.42 143.91H156.22" stroke="rgb(120,132,146)" stroke-width="0.75" fill="none"/>
<line x1="156.32" y1="125.30" x2="156.32" y2="159.50" stroke="rgb(166,179,194)" stroke-width="1.0"/>
<path d="M156.42 126.50H158.22M156.42 158.60H158.22" stroke="rgb(150,164,180)" stroke-width="0.6" fill="none"/>
<path d="M156.42 143.98H158.22" stroke="rgb(120,132,146)" stroke-width="0.75" fill="none"/>
<line x1="158.32" y1="126.50" x2="158.32" y2="158.60" stroke="rgb(169,182,197)" stroke-width="1.0"/>
<path d="M158.42 125.90H160.22M158.42 159.50H160.22" stroke="rgb(150,164,180)" stroke-width="0.6" fill="none"/>
<path d="M158.42 144.13H160.22" stroke="rgb(120,132,146)" stroke-width="0.75" fill="none"/>
<line x1="160.32" y1="125.90" x2="160.32" y2="159.50" stroke="rgb(164,177,192)" stroke-width="1.0"/>
<path d="M160.42 125.70H162.22M160.42 159.50H162.22" stroke="rgb(150,164,180)" stroke-width="0.6" fill="none"/>
<path d="M160.42 144.22H162.22" stroke="rgb(120,132,146)" stroke-width="0.75" fill="none"/>
<line x1="162.32" y1="125.70" x2="162.32" y2="159.50" stroke="rgb(148,161,176)" stroke-width="1.0"/>
<path d="M162.42 126.50H164.22M162.42 158.60H164.22" stroke="rgb(150,164,180)" stroke-width="0.6" fill="none"/>
<path d="M162.42 144.26H164.22" stroke="rgb(120,132,146)" stroke-width="0.75" fill="none"/>
<line x1="164.32" y1="126.50" x2="164.32" y2="158.60" stroke="rgb(165,178,193)" stroke-width="1.0"/>
<path d="M164.42 127.00H166.21M164.42 158.00H166.21" stroke="rgb(150,164,180)" stroke-width="0.6" fill="none"/>
<path d="M164.42 143.96H166.21" stroke="rgb(120,132,146)" stroke-width="0.75" fill="none"/>
<line x1="166.31" y1="127.00" x2="166.31" y2="158.00" stroke="rgb(149,162,177)" stroke-width="1.0"/>
<path d="M166.41 125.30H168.21M166.41 159.50H168.21" stroke="rgb(150,164,180)" stroke-width="0.6" fill="none"/>
<path d="M166.41 144.25H168.21" stroke="rgb(120,132,146)" stroke-width="0.75" fill="none"/>
<line x1="168.31" y1="125.30" x2="168.31" y2="159.50" stroke="rgb(154,167,182)" stroke-width="1.0"/>
<path d="M168.41 125.90H170.21M168.41 159.50H170.21" stroke="rgb(150,164,180)" stroke-width="0.6" fill="none"/>
<path d="M168.41 144.53H170.21" stroke="rgb(120,132,146)" stroke-width="0.75" fill="none"/>
<line x1="170.31" y1="125.90" x2="170.31" y2="159.50" stroke="rgb(167,180,195)" stroke-width="1.0"/>
<path d="M170.41 125.30H172.21M170.41 159.70H172.21" stroke="rgb(150,164,180)" stroke-width="0.6" fill="none"/>
<path d="M170.41 144.33H172.21" stroke="rgb(120,132,146)" stroke-width="0.75" fill="none"/>
<line x1="172.31" y1="125.30" x2="172.31" y2="159.70" stroke="rgb(156,169,184)" stroke-width="1.0"/>
<path d="M172.41 125.30H174.21M172.41 159.70H174.21" stroke="rgb(150,164,180)" stroke-width="0.6" fill="none"/>
<path d="M172.41 144.36H174.21" stroke="rgb(120,132,146)" stroke-width="0.75" fill="none"/>
<line x1="174.31" y1="125.30" x2="174.31" y2="159.70" stroke="rgb(153,166,181)" stroke-width="1.0"/>
<path d="M174.41 125.30H176.21M174.41 159.10H176.21" stroke="rgb(150,164,180)" stroke-width="0.6" fill="none"/>
<path d="M174.41 144.13H176.21" stroke="rgb(120,132,146)" stroke-width="0.75" fill="none"/>
<line x1="176.31" y1="125.30" x2="176.31" y2="159.10" stroke="rgb(166,179,194)" stroke-width="1.0"/>
<path d="M176.41 127.60H178.21M176.41 156.30H178.21" stroke="rgb(150,164,180)" stroke-width="0.6" fill="none"/>
<path d="M176.41 144.20H178.21" stroke="rgb(120,132,146)" stroke-width="0.75" fill="none"/>
<line x1="178.31" y1="127.60" x2="178.31" y2="156.30" stroke="rgb(152,165,180)" stroke-width="1.0"/>
<path d="M178.41 135.50H180.20M178.41 149.50H180.20" stroke="rgb(150,164,180)" stroke-width="0.6" fill="none"/>
<path d="M178.41 142.60H180.20" stroke="rgb(120,132,146)" stroke-width="0.75" fill="none"/>
<line x1="180.31" y1="135.50" x2="180.31" y2="149.50" stroke="rgb(156,169,184)" stroke-width="1.0"/>
<path d="M180.40 131.50H182.20M180.40 154.10H182.20" stroke="rgb(150,164,180)" stroke-width="0.6" fill="none"/>
<path d="M180.40 144.05H182.20" stroke="rgb(120,132,146)" stroke-width="0.75" fill="none"/>
<line x1="182.30" y1="131.50" x2="182.30" y2="154.10" stroke="rgb(172,185,200)" stroke-width="1.0"/>
<path d="M182.40 131.00H184.20M182.40 155.20H184.20" stroke="rgb(150,164,180)" stroke-width="0.6" fill="none"/>
<path d="M182.40 144.53H184.20" stroke="rgb(120,132,146)" stroke-width="0.75" fill="none"/>
<line x1="184.30" y1="131.00" x2="184.30" y2="155.20" stroke="rgb(154,167,182)" stroke-width="1.0"/>
<path d="M184.40 128.70H186.20M184.40 156.90H186.20" stroke="rgb(150,164,180)" stroke-width="0.6" fill="none"/>
<path d="M184.40 144.48H186.20" stroke="rgb(120,132,146)" stroke-width="0.75" fill="none"/>
<line x1="186.30" y1="128.70" x2="186.30" y2="156.90" stroke="rgb(154,167,182)" stroke-width="1.0"/>
<path d="M186.40 131.00H188.20M186.40 154.10H188.20" stroke="rgb(150,164,180)" stroke-width="0.6" fill="none"/>
<path d="M186.40 144.55H188.20" stroke="rgb(120,132,146)" stroke-width="0.75" fill="none"/>
<line x1="188.30" y1="131.00" x2="188.30" y2="154.10" stroke="rgb(166,179,194)" stroke-width="1.0"/>
<path d="M188.40 129.80H190.20M188.40 155.20H190.20" stroke="rgb(150,164,180)" stroke-width="0.6" fill="none"/>
<path d="M188.40 144.26H190.20" stroke="rgb(120,132,146)" stroke-width="0.75" fill="none"/>
<line x1="190.30" y1="129.80" x2="190.30" y2="155.20" stroke="rgb(172,185,200)" stroke-width="1.0"/>
<path d="M190.40 131.50H192.20M190.40 154.10H192.20" stroke="rgb(150,164,180)" stroke-width="0.6" fill="none"/>
<path d="M190.40 144.49H192.20" stroke="rgb(120,132,146)" stroke-width="0.75" fill="none"/>
<line x1="192.30" y1="131.50" x2="192.30" y2="154.10" stroke="rgb(148,161,176)" stroke-width="1.0"/>
<path d="M192.40 131.50H194.20M192.40 154.10H194.20" stroke="rgb(150,164,180)" stroke-width="0.6" fill="none"/>
<path d="M192.40 144.48H194.20" stroke="rgb(120,132,146)" stroke-width="0.75" fill="none"/>
<line x1="194.30" y1="131.50" x2="194.30" y2="154.10" stroke="rgb(147,160,175)" stroke-width="1.0"/>
<path d="M194.40 135.50H196.19M194.40 150.10H196.19" stroke="rgb(150,164,180)" stroke-width="0.6" fill="none"/>
<path d="M194.40 142.60H196.19" stroke="rgb(120,132,146)" stroke-width="0.75" fill="none"/>
<line x1="196.29" y1="135.50" x2="196.29" y2="150.10" stroke="rgb(164,177,192)" stroke-width="1.0"/>
<path d="M196.39 128.70H198.19M196.39 156.90H198.19" stroke="rgb(150,164,180)" stroke-width="0.6" fill="none"/>
<path d="M196.39 144.15H198.19" stroke="rgb(120,132,146)" stroke-width="0.75" fill="none"/>
<line x1="198.29" y1="128.70" x2="198.29" y2="156.90" stroke="rgb(146,159,174)" stroke-width="1.0"/>
<path d="M198.39 132.10H200.19M198.39 155.70H200.19" stroke="rgb(150,164,180)" stroke-width="0.6" fill="none"/>
<path d="M198.39 144.35H200.19" stroke="rgb(120,132,146)" stroke-width="0.75" fill="none"/>
<line x1="200.29" y1="132.10" x2="200.29" y2="155.70" stroke="rgb(146,159,174)" stroke-width="1.0"/>
<path d="M200.39 129.80H202.19M200.39 155.20H202.19" stroke="rgb(150,164,180)" stroke-width="0.6" fill="none"/>
<path d="M200.39 144.44H202.19" stroke="rgb(120,132,146)" stroke-width="0.75" fill="none"/>
<line x1="202.29" y1="129.80" x2="202.29" y2="155.20" stroke="rgb(150,163,178)" stroke-width="1.0"/>
<path d="M202.39 130.40H204.19M202.39 154.10H204.19" stroke="rgb(150,164,180)" stroke-width="0.6" fill="none"/>
<path d="M202.39 144.46H204.19" stroke="rgb(120,132,146)" stroke-width="0.75" fill="none"/>
<line x1="204.29" y1="130.40" x2="204.29" y2="154.10" stroke="rgb(160,173,188)" stroke-width="1.0"/>
<path d="M204.39 129.30H206.19M204.39 154.60H206.19" stroke="rgb(150,164,180)" stroke-width="0.6" fill="none"/>
<path d="M204.39 143.98H206.19" stroke="rgb(120,132,146)" stroke-width="0.75" fill="none"/>
<line x1="206.29" y1="129.30" x2="206.29" y2="154.60" stroke="rgb(171,184,199)" stroke-width="1.0"/>
<path d="M206.39 128.70H208.19M206.39 156.30H208.19" stroke="rgb(150,164,180)" stroke-width="0.6" fill="none"/>
<path d="M206.39 144.16H208.19" stroke="rgb(120,132,146)" stroke-width="0.75" fill="none"/>
<line x1="208.29" y1="128.70" x2="208.29" y2="156.30" stroke="rgb(152,165,180)" stroke-width="1.0"/>
<path d="M208.39 129.80H210.18M208.39 154.60H210.18" stroke="rgb(150,164,180)" stroke-width="0.6" fill="none"/>
<path d="M208.39 144.48H210.18" stroke="rgb(120,132,146)" stroke-width="0.75" fill="none"/>
<line x1="210.29" y1="129.80" x2="210.29" y2="154.60" stroke="rgb(146,159,174)" stroke-width="1.0"/>
<path d="M210.38 127.00H212.18M210.38 156.90H212.18" stroke="rgb(150,164,180)" stroke-width="0.6" fill="none"/>
<path d="M210.38 144.43H212.18" stroke="rgb(120,132,146)" stroke-width="0.75" fill="none"/>
<line x1="212.28" y1="127.00" x2="212.28" y2="156.90" stroke="rgb(151,164,179)" stroke-width="1.0"/>
<path d="M212.38 132.60H214.18M212.38 154.10H214.18" stroke="rgb(150,164,180)" stroke-width="0.6" fill="none"/>
<path d="M212.38 142.60H214.18" stroke="rgb(120,132,146)" stroke-width="0.75" fill="none"/>
<line x1="214.28" y1="132.60" x2="214.28" y2="154.10" stroke="rgb(157,170,185)" stroke-width="1.0"/>
<path d="M214.38 127.90H216.18M214.38 157.40H216.18" stroke="rgb(150,164,180)" stroke-width="0.6" fill="none"/>
<path d="M214.38 144.28H216.18" stroke="rgb(120,132,146)" stroke-width="0.75" fill="none"/>
<line x1="216.28" y1="127.90" x2="216.28" y2="157.40" stroke="rgb(165,178,193)" stroke-width="1.0"/>
<path d="M216.38 127.90H218.18M216.38 158.00H218.18" stroke="rgb(150,164,180)" stroke-width="0.6" fill="none"/>
<path d="M216.38 144.60H218.18" stroke="rgb(120,132,146)" stroke-width="0.75" fill="none"/>
<line x1="218.28" y1="127.90" x2="218.28" y2="158.00" stroke="rgb(153,166,181)" stroke-width="1.0"/>
<path d="M218.38 132.60H220.18M218.38 155.20H220.18" stroke="rgb(150,164,180)" stroke-width="0.6" fill="none"/>
<path d="M218.38 143.96H220.18" stroke="rgb(120,132,146)" stroke-width="0.75" fill="none"/>
<line x1="220.28" y1="132.60" x2="220.28" y2="155.20" stroke="rgb(158,171,186)" stroke-width="1.0"/>
<path d="M220.38 129.80H222.18M220.38 157.40H222.18" stroke="rgb(150,164,180)" stroke-width="0.6" fill="none"/>
<path d="M220.38 143.99H222.18" stroke="rgb(120,132,146)" stroke-width="0.75" fill="none"/>
<line x1="222.28" y1="129.80" x2="222.28" y2="157.40" stroke="rgb(146,159,174)" stroke-width="1.0"/>
<path d="M222.38 136.00H224.18M222.38 148.40H224.18" stroke="rgb(150,164,180)" stroke-width="0.6" fill="none"/>
<path d="M222.38 142.60H224.18" stroke="rgb(120,132,146)" stroke-width="0.75" fill="none"/>
<line x1="224.28" y1="136.00" x2="224.28" y2="148.40" stroke="rgb(166,179,194)" stroke-width="1.0"/>
<path d="M224.38 136.60H226.17M224.38 147.90H226.17" stroke="rgb(150,164,180)" stroke-width="0.6" fill="none"/>
<path d="M224.38 142.60H226.17" stroke="rgb(120,132,146)" stroke-width="0.75" fill="none"/>
<line x1="226.27" y1="136.60" x2="226.27" y2="147.90" stroke="rgb(160,173,188)" stroke-width="1.0"/>
<path d="M226.37 132.60H228.17M226.37 153.50H228.17" stroke="rgb(150,164,180)" stroke-width="0.6" fill="none"/>
<path d="M226.37 142.60H228.17" stroke="rgb(120,132,146)" stroke-width="0.75" fill="none"/>
<line x1="228.27" y1="132.60" x2="228.27" y2="153.50" stroke="rgb(149,162,177)" stroke-width="1.0"/>
<path d="M228.37 127.60H230.17M228.37 156.90H230.17" stroke="rgb(150,164,180)" stroke-width="0.6" fill="none"/>
<path d="M228.37 144.41H230.17" stroke="rgb(120,132,146)" stroke-width="0.75" fill="none"/>
<line x1="230.27" y1="127.60" x2="230.27" y2="156.90" stroke="rgb(168,181,196)" stroke-width="1.0"/>
<path d="M230.37 126.80H232.17M230.37 158.00H232.17" stroke="rgb(150,164,180)" stroke-width="0.6" fill="none"/>
<path d="M230.37 143.99H232.17" stroke="rgb(120,132,146)" stroke-width="0.75" fill="none"/>
<line x1="232.27" y1="126.80" x2="232.27" y2="158.00" stroke="rgb(148,161,176)" stroke-width="1.0"/>
<path d="M232.37 129.80H234.17M232.37 155.70H234.17" stroke="rgb(150,164,180)" stroke-width="0.6" fill="none"/>
<path d="M232.37 144.58H234.17" stroke="rgb(120,132,146)" stroke-width="0.75" fill="none"/>
<line x1="234.27" y1="129.80" x2="234.27" y2="155.70" stroke="rgb(154,167,182)" stroke-width="1.0"/>
<path d="M234.37 136.26H236.17M234.37 160.06H236.17" stroke="rgb(170,158,142)" stroke-width="0.6" fill="none"/>
<path d="M234.37 148.20H236.17" stroke="rgb(140,130,118)" stroke-width="0.75" fill="none"/>
<line x1="236.27" y1="136.26" x2="236.27" y2="160.06" stroke="rgb(183,175,163)" stroke-width="1.0"/>
<path d="M236.37 135.68H238.17M236.37 160.33H238.17" stroke="rgb(170,158,142)" stroke-width="0.6" fill="none"/>
<path d="M236.37 148.14H238.17" stroke="rgb(140,130,118)" stroke-width="0.75" fill="none"/>
<line x1="238.27" y1="135.68" x2="238.27" y2="160.33" stroke="rgb(186,178,166)" stroke-width="1.0"/>
<path d="M238.37 136.08H240.17M238.37 160.04H240.17" stroke="rgb(170,158,142)" stroke-width="0.6" fill="none"/>
<path d="M238.37 147.72H240.17" stroke="rgb(140,130,118)" stroke-width="0.75" fill="none"/>
<line x1="240.27" y1="136.08" x2="240.27" y2="160.04" stroke="rgb(188,180,168)" stroke-width="1.0"/>
<path d="M240.36 135.04H242.16M240.36 160.77H242.16" stroke="rgb(170,158,142)" stroke-width="0.6" fill="none"/>
<path d="M240.36 147.96H242.16" stroke="rgb(140,130,118)" stroke-width="0.75" fill="none"/>
<line x1="242.26" y1="135.04" x2="242.26" y2="160.77" stroke="rgb(187,179,167)" stroke-width="1.0"/>
<path d="M242.36 136.31H244.16M242.36 161.20H244.16" stroke="rgb(170,158,142)" stroke-width="0.6" fill="none"/>
<path d="M242.36 147.94H244.16" stroke="rgb(140,130,118)" stroke-width="0.75" fill="none"/>
<line x1="244.26" y1="136.31" x2="244.26" y2="161.20" stroke="rgb(187,179,167)" stroke-width="1.0"/>
<path d="M244.36 135.64H246.16M244.36 160.78H246.16" stroke="rgb(170,158,142)" stroke-width="0.6" fill="none"/>
<path d="M244.36 147.80H246.16" stroke="rgb(140,130,118)" stroke-width="0.75" fill="none"/>
<line x1="246.26" y1="135.64" x2="246.26" y2="160.78" stroke="rgb(189,181,169)" stroke-width="1.0"/>
<path d="M246.36 136.15H248.16M246.36 159.99H248.16" stroke="rgb(170,158,142)" stroke-width="0.6" fill="none"/>
<path d="M246.36 147.99H248.16" stroke="rgb(140,130,118)" stroke-width="0.75" fill="none"/>
<line x1="248.26" y1="136.15" x2="248.26" y2="159.99" stroke="rgb(179,171,159)" stroke-width="1.0"/>
<path d="M248.36 135.29H250.16M248.36 160.43H250.16" stroke="rgb(170,158,142)" stroke-width="0.6" fill="none"/>
<path d="M248.36 147.70H250.16" stroke="rgb(140,130,118)" stroke-width="0.75" fill="none"/>
<line x1="250.26" y1="135.29" x2="250.26" y2="160.43" stroke="rgb(179,171,159)" stroke-width="1.0"/>
<path d="M250.36 135.46H252.16M250.36 159.41H252.16" stroke="rgb(170,158,142)" stroke-width="0.6" fill="none"/>
<path d="M250.36 147.68H252.16" stroke="rgb(140,130,118)" stroke-width="0.75" fill="none"/>
<line x1="252.26" y1="135.46" x2="252.26" y2="159.41" stroke="rgb(174,166,154)" stroke-width="1.0"/>
<path d="M252.36 135.63H254.16M252.36 160.92H254.16" stroke="rgb(170,158,142)" stroke-width="0.6" fill="none"/>
<path d="M252.36 147.88H254.16" stroke="rgb(140,130,118)" stroke-width="0.75" fill="none"/>
<line x1="254.26" y1="135.63" x2="254.26" y2="160.92" stroke="rgb(175,167,155)" stroke-width="1.0"/>
<path d="M254.36 135.91H256.15M254.36 160.42H256.15" stroke="rgb(170,158,142)" stroke-width="0.6" fill="none"/>
<path d="M254.36 147.65H256.15" stroke="rgb(140,130,118)" stroke-width="0.75" fill="none"/>
<line x1="256.26" y1="135.91" x2="256.26" y2="160.42" stroke="rgb(181,173,161)" stroke-width="1.0"/>
<path d="M256.35 135.19H258.15M256.35 160.05H258.15" stroke="rgb(170,158,142)" stroke-width="0.6" fill="none"/>
<path d="M256.35 147.95H258.15" stroke="rgb(140,130,118)" stroke-width="0.75" fill="none"/>
<line x1="258.25" y1="135.19" x2="258.25" y2="160.05" stroke="rgb(189,181,169)" stroke-width="1.0"/>
<path d="M258.35 135.31H260.15M258.35 160.57H260.15" stroke="rgb(170,158,142)" stroke-width="0.6" fill="none"/>
<path d="M258.35 147.73H260.15" stroke="rgb(140,130,118)" stroke-width="0.75" fill="none"/>
<line x1="260.25" y1="135.31" x2="260.25" y2="160.57" stroke="rgb(195,187,175)" stroke-width="1.0"/>
<path d="M260.35 136.05H262.15M260.35 159.77H262.15" stroke="rgb(170,158,142)" stroke-width="0.6" fill="none"/>
<path d="M260.35 147.62H262.15" stroke="rgb(140,130,118)" stroke-width="0.75" fill="none"/>
<line x1="262.25" y1="136.05" x2="262.25" y2="159.77" stroke="rgb(182,174,162)" stroke-width="1.0"/>
<path d="M262.35 135.32H264.15M262.35 160.58H264.15" stroke="rgb(170,158,142)" stroke-width="0.6" fill="none"/>
<path d="M262.35 147.85H264.15" stroke="rgb(140,130,118)" stroke-width="0.75" fill="none"/>
<line x1="264.25" y1="135.32" x2="264.25" y2="160.58" stroke="rgb(191,183,171)" stroke-width="1.0"/>
<path d="M264.35 135.00H266.15M264.35 159.88H266.15" stroke="rgb(170,158,142)" stroke-width="0.6" fill="none"/>
<path d="M264.35 147.96H266.15" stroke="rgb(140,130,118)" stroke-width="0.75" fill="none"/>
<line x1="266.25" y1="135.00" x2="266.25" y2="159.88" stroke="rgb(186,178,166)" stroke-width="1.0"/>
<path d="M266.35 134.84H268.15M266.35 160.97H268.15" stroke="rgb(170,158,142)" stroke-width="0.6" fill="none"/>
<path d="M266.35 148.04H268.15" stroke="rgb(140,130,118)" stroke-width="0.75" fill="none"/>
<line x1="268.25" y1="134.84" x2="268.25" y2="160.97" stroke="rgb(179,171,159)" stroke-width="1.0"/>
<path d="M268.35 136.18H270.15M268.35 159.81H270.15" stroke="rgb(170,158,142)" stroke-width="0.6" fill="none"/>
<path d="M268.35 147.97H270.15" stroke="rgb(140,130,118)" stroke-width="0.75" fill="none"/>
<line x1="270.25" y1="136.18" x2="270.25" y2="159.81" stroke="rgb(192,184,172)" stroke-width="1.0"/>
<path d="M270.35 135.74H272.14M270.35 161.14H272.14" stroke="rgb(170,158,142)" stroke-width="0.6" fill="none"/>
<path d="M270.35 147.70H272.14" stroke="rgb(140,130,118)" stroke-width="0.75" fill="none"/>
<line x1="272.24" y1="135.74" x2="272.24" y2="161.14" stroke="rgb(178,170,158)" stroke-width="1.0"/>
<path d="M272.34 135.31H274.14M272.34 161.15H274.14" stroke="rgb(170,158,142)" stroke-width="0.6" fill="none"/>
<path d="M272.34 147.82H274.14" stroke="rgb(140,130,118)" stroke-width="0.75" fill="none"/>
<line x1="274.24" y1="135.31" x2="274.24" y2="161.15" stroke="rgb(176,168,156)" stroke-width="1.0"/>
<path d="M274.34 135.01H276.14M274.34 160.78H276.14" stroke="rgb(170,158,142)" stroke-width="0.6" fill="none"/>
<path d="M274.34 147.77H276.14" stroke="rgb(140,130,118)" stroke-width="0.75" fill="none"/>
<line x1="276.24" y1="135.01" x2="276.24" y2="160.78" stroke="rgb(186,178,166)" stroke-width="1.0"/>
<path d="M276.34 136.13H278.14M276.34 160.90H278.14" stroke="rgb(170,158,142)" stroke-width="0.6" fill="none"/>
<path d="M276.34 147.90H278.14" stroke="rgb(140,130,118)" stroke-width="0.75" fill="none"/>
<line x1="278.24" y1="136.13" x2="278.24" y2="160.90" stroke="rgb(193,185,173)" stroke-width="1.0"/>
<path d="M278.34 135.90H280.14M278.34 159.78H280.14" stroke="rgb(170,158,142)" stroke-width="0.6" fill="none"/>
<path d="M278.34 147.61H280.14" stroke="rgb(140,130,118)" stroke-width="0.75" fill="none"/>
<line x1="280.24" y1="135.90" x2="280.24" y2="159.78" stroke="rgb(176,168,156)" stroke-width="1.0"/>
<path d="M280.34 135.93H282.14M280.34 160.05H282.14" stroke="rgb(170,158,142)" stroke-width="0.6" fill="none"/>
<path d="M280.34 148.04H282.14" stroke="rgb(140,130,118)" stroke-width="0.75" fill="none"/>
<line x1="282.24" y1="135.93" x2="282.24" y2="160.05" stroke="rgb(198,190,178)" stroke-width="1.0"/>
<path d="M282.34 134.91H284.14M282.34 159.47H284.14" stroke="rgb(170,158,142)" stroke-width="0.6" fill="none"/>
<path d="M282.34 147.67H284.14" stroke="rgb(140,130,118)" stroke-width="0.75" fill="none"/>
<line x1="284.24" y1="134.91" x2="284.24" y2="159.47" stroke="rgb(191,183,171)" stroke-width="1.0"/>
<path d="M284.34 135.57H286.13M284.34 159.62H286.13" stroke="rgb(170,158,142)" stroke-width="0.6" fill="none"/>
<path d="M284.34 147.73H286.13" stroke="rgb(140,130,118)" stroke-width="0.75" fill="none"/>
<line x1="286.24" y1="135.57" x2="286.24" y2="159.62" stroke="rgb(182,174,162)" stroke-width="1.0"/>
<path d="M286.33 136.28H288.13M286.33 159.52H288.13" stroke="rgb(170,158,142)" stroke-width="0.6" fill="none"/>
<path d="M286.33 147.67H288.13" stroke="rgb(140,130,118)" stroke-width="0.75" fill="none"/>
<line x1="288.23" y1="136.28" x2="288.23" y2="159.52" stroke="rgb(175,167,155)" stroke-width="1.0"/>
<path d="M288.33 136.02H290.13M288.33 160.29H290.13" stroke="rgb(170,158,142)" stroke-width="0.6" fill="none"/>
<path d="M288.33 147.83H290.13" stroke="rgb(140,130,118)" stroke-width="0.75" fill="none"/>
<line x1="290.23" y1="136.02" x2="290.23" y2="160.29" stroke="rgb(179,171,159)" stroke-width="1.0"/>
<path d="M290.33 135.76H292.13M290.33 160.73H292.13" stroke="rgb(170,158,142)" stroke-width="0.6" fill="none"/>
<path d="M290.33 147.61H292.13" stroke="rgb(140,130,118)" stroke-width="0.75" fill="none"/>
<line x1="292.23" y1="135.76" x2="292.23" y2="160.73" stroke="rgb(186,178,166)" stroke-width="1.0"/>
<path d="M292.33 135.53H294.13M292.33 160.17H294.13" stroke="rgb(170,158,142)" stroke-width="0.6" fill="none"/>
<path d="M292.33 148.12H294.13" stroke="rgb(140,130,118)" stroke-width="0.75" fill="none"/>
<line x1="294.23" y1="135.53" x2="294.23" y2="160.17" stroke="rgb(176,168,156)" stroke-width="1.0"/>
<path d="M294.33 135.62H296.13M294.33 161.10H296.13" stroke="rgb(170,158,142)" stroke-width="0.6" fill="none"/>
<path d="M294.33 147.61H296.13" stroke="rgb(140,130,118)" stroke-width="0.75" fill="none"/>
<line x1="296.23" y1="135.62" x2="296.23" y2="161.10" stroke="rgb(193,185,173)" stroke-width="1.0"/>
<path d="M296.33 136.30H298.13M296.33 159.76H298.13" stroke="rgb(170,158,142)" stroke-width="0.6" fill="none"/>
<path d="M296.33 148.00H298.13" stroke="rgb(140,130,118)" stroke-width="0.75" fill="none"/>
<line x1="298.23" y1="136.30" x2="298.23" y2="159.76" stroke="rgb(198,190,178)" stroke-width="1.0"/>
<path d="M298.33 136.02H300.13M298.33 159.62H300.13" stroke="rgb(170,158,142)" stroke-width="0.6" fill="none"/>
<path d="M298.33 147.80H300.13" stroke="rgb(140,130,118)" stroke-width="0.75" fill="none"/>
<line x1="300.23" y1="136.02" x2="300.23" y2="159.62" stroke="rgb(199,191,179)" stroke-width="1.0"/>
<path d="M300.33 136.29H302.12M300.33 160.03H302.12" stroke="rgb(170,158,142)" stroke-width="0.6" fill="none"/>
<path d="M300.33 147.69H302.12" stroke="rgb(140,130,118)" stroke-width="0.75" fill="none"/>
<line x1="302.22" y1="136.29" x2="302.22" y2="160.03" stroke="rgb(197,189,177)" stroke-width="1.0"/>
<path d="M302.32 135.49H304.12M302.32 159.79H304.12" stroke="rgb(170,158,142)" stroke-width="0.6" fill="none"/>
<path d="M302.32 147.73H304.12" stroke="rgb(140,130,118)" stroke-width="0.75" fill="none"/>
<line x1="304.22" y1="135.49" x2="304.22" y2="159.79" stroke="rgb(182,174,162)" stroke-width="1.0"/>
<path d="M304.32 135.55H306.12M304.32 160.08H306.12" stroke="rgb(170,158,142)" stroke-width="0.6" fill="none"/>
<path d="M304.32 147.61H306.12" stroke="rgb(140,130,118)" stroke-width="0.75" fill="none"/>
<line x1="306.22" y1="135.55" x2="306.22" y2="160.08" stroke="rgb(174,166,154)" stroke-width="1.0"/>
<path d="M306.32 135.17H308.12M306.32 160.67H308.12" stroke="rgb(170,158,142)" stroke-width="0.6" fill="none"/>
<path d="M306.32 148.26H308.12" stroke="rgb(140,130,118)" stroke-width="0.75" fill="none"/>
<line x1="308.22" y1="135.17" x2="308.22" y2="160.67" stroke="rgb(185,177,165)" stroke-width="1.0"/>
<path d="M308.32 135.71H310.12M308.32 160.14H310.12" stroke="rgb(170,158,142)" stroke-width="0.6" fill="none"/>
<path d="M308.32 147.97H310.12" stroke="rgb(140,130,118)" stroke-width="0.75" fill="none"/>
<line x1="310.22" y1="135.71" x2="310.22" y2="160.14" stroke="rgb(179,171,159)" stroke-width="1.0"/>
<path d="M310.32 135.92H312.12M310.32 161.26H312.12" stroke="rgb(170,158,142)" stroke-width="0.6" fill="none"/>
<path d="M310.32 148.13H312.12" stroke="rgb(140,130,118)" stroke-width="0.75" fill="none"/>
<line x1="312.22" y1="135.92" x2="312.22" y2="161.26" stroke="rgb(176,168,156)" stroke-width="1.0"/>
<path d="M312.32 135.98H314.12M312.32 160.16H314.12" stroke="rgb(170,158,142)" stroke-width="0.6" fill="none"/>
<path d="M312.32 147.78H314.12" stroke="rgb(140,130,118)" stroke-width="0.75" fill="none"/>
<line x1="314.22" y1="135.98" x2="314.22" y2="160.16" stroke="rgb(193,185,173)" stroke-width="1.0"/>
<path d="M314.32 135.40H316.11M314.32 159.88H316.11" stroke="rgb(170,158,142)" stroke-width="0.6" fill="none"/>
<path d="M314.32 147.67H316.11" stroke="rgb(140,130,118)" stroke-width="0.75" fill="none"/>
<line x1="316.22" y1="135.40" x2="316.22" y2="159.88" stroke="rgb(190,182,170)" stroke-width="1.0"/>
<path d="M316.31 135.61H318.11M316.31 160.48H318.11" stroke="rgb(170,158,142)" stroke-width="0.6" fill="none"/>
<path d="M316.31 148.28H318.11" stroke="rgb(140,130,118)" stroke-width="0.75" fill="none"/>
<line x1="318.21" y1="135.61" x2="318.21" y2="160.48" stroke="rgb(187,179,167)" stroke-width="1.0"/>
<path d="M318.31 136.10H320.11M318.31 160.54H320.11" stroke="rgb(170,158,142)" stroke-width="0.6" fill="none"/>
<path d="M318.31 147.65H320.11" stroke="rgb(140,130,118)" stroke-width="0.75" fill="none"/>
<line x1="320.21" y1="136.10" x2="320.21" y2="160.54" stroke="rgb(185,177,165)" stroke-width="1.0"/>
<path d="M320.31 136.29H322.11M320.31 160.30H322.11" stroke="rgb(170,158,142)" stroke-width="0.6" fill="none"/>
<path d="M320.31 147.71H322.11" stroke="rgb(140,130,118)" stroke-width="0.75" fill="none"/>
<line x1="322.21" y1="136.29" x2="322.21" y2="160.30" stroke="rgb(190,182,170)" stroke-width="1.0"/>
<path d="M322.31 135.78H324.11M322.31 161.20H324.11" stroke="rgb(170,158,142)" stroke-width="0.6" fill="none"/>
<path d="M322.31 147.64H324.11" stroke="rgb(140,130,118)" stroke-width="0.75" fill="none"/>
<line x1="324.21" y1="135.78" x2="324.21" y2="161.20" stroke="rgb(185,177,165)" stroke-width="1.0"/>
<path d="M324.31 135.76H326.11M324.31 159.94H326.11" stroke="rgb(170,158,142)" stroke-width="0.6" fill="none"/>
<path d="M324.31 147.86H326.11" stroke="rgb(140,130,118)" stroke-width="0.75" fill="none"/>
<line x1="326.21" y1="135.76" x2="326.21" y2="159.94" stroke="rgb(182,174,162)" stroke-width="1.0"/>
<path d="M326.31 135.86H328.11M326.31 159.45H328.11" stroke="rgb(170,158,142)" stroke-width="0.6" fill="none"/>
<path d="M326.31 148.12H328.11" stroke="rgb(140,130,118)" stroke-width="0.75" fill="none"/>
<line x1="328.21" y1="135.86" x2="328.21" y2="159.45" stroke="rgb(174,166,154)" stroke-width="1.0"/>
<path d="M328.31 135.81H330.11M328.31 160.70H330.11" stroke="rgb(170,158,142)" stroke-width="0.6" fill="none"/>
<path d="M328.31 147.89H330.11" stroke="rgb(140,130,118)" stroke-width="0.75" fill="none"/>
<line x1="330.21" y1="135.81" x2="330.21" y2="160.70" stroke="rgb(196,188,176)" stroke-width="1.0"/>
<path d="M330.31 135.44H332.10M330.31 160.77H332.10" stroke="rgb(170,158,142)" stroke-width="0.6" fill="none"/>
<path d="M330.31 148.01H332.10" stroke="rgb(140,130,118)" stroke-width="0.75" fill="none"/>
<line x1="332.20" y1="135.44" x2="332.20" y2="160.77" stroke="rgb(186,178,166)" stroke-width="1.0"/>
<path d="M332.30 135.95H334.10M332.30 160.84H334.10" stroke="rgb(170,158,142)" stroke-width="0.6" fill="none"/>
<path d="M332.30 147.78H334.10" stroke="rgb(140,130,118)" stroke-width="0.75" fill="none"/>
<line x1="334.20" y1="135.95" x2="334.20" y2="160.84" stroke="rgb(198,190,178)" stroke-width="1.0"/>
<path d="M334.30 135.96H336.10M334.30 161.26H336.10" stroke="rgb(170,158,142)" stroke-width="0.6" fill="none"/>
<path d="M334.30 147.93H336.10" stroke="rgb(140,130,118)" stroke-width="0.75" fill="none"/>
<line x1="336.20" y1="135.96" x2="336.20" y2="161.26" stroke="rgb(195,187,175)" stroke-width="1.0"/>
<path d="M336.30 134.98H338.10M336.30 160.27H338.10" stroke="rgb(170,158,142)" stroke-width="0.6" fill="none"/>
<path d="M336.30 148.04H338.10" stroke="rgb(140,130,118)" stroke-width="0.75" fill="none"/>
<line x1="338.20" y1="134.98" x2="338.20" y2="160.27" stroke="rgb(184,176,164)" stroke-width="1.0"/>
<rect x="36.20" y="50.30" width="302.20" height="142.00" fill="none" stroke="#1a1a1a" stroke-width="1.4"/>
<line x1="32.10" y1="85.50" x2="36.20" y2="85.50" stroke="#1a1a1a" stroke-width="1.1"/>
<text x="29.40" y="88.70" font-size="9.1" text-anchor="end" fill="#1a1a1a" stroke="#1a1a1a" stroke-width="0.22" >12</text>
<line x1="32.10" y1="124.20" x2="36.20" y2="124.20" stroke="#1a1a1a" stroke-width="1.1"/>
<text x="29.40" y="127.40" font-size="9.1" text-anchor="end" fill="#1a1a1a" stroke="#1a1a1a" stroke-width="0.22" >8</text>
<line x1="32.10" y1="163.10" x2="36.20" y2="163.10" stroke="#1a1a1a" stroke-width="1.1"/>
<text x="29.40" y="166.30" font-size="9.1" text-anchor="end" fill="#1a1a1a" stroke="#1a1a1a" stroke-width="0.22" >4</text>
<text x="380.10" y="7.90" font-size="10.1" text-anchor="start" fill="#000" stroke="#000" stroke-width="0.1" >After Normalization</text>
<text x="422.40" y="26.90" font-size="8.7" text-anchor="start" fill="#000" stroke="#000" stroke-width="0.1" >Combined Datasets</text>
<line x1="512.7" y1="18.8" x2="512.7" y2="29" stroke="#cfcfcf" stroke-width="0.8"/>
<rect x="508.1" y="21.2" width="9.3" height="5.9" fill="#c6d8ec" stroke="#9aa6b4" stroke-width="0.5"/>
<line x1="508.1" y1="24.15" x2="517.4" y2="24.15" stroke="#9aa6b4" stroke-width="0.4"/>
<line x1="583.2" y1="18.8" x2="583.2" y2="29" stroke="#cfcfcf" stroke-width="0.8"/>
<rect x="578.6" y="21.2" width="9.3" height="5.9" fill="#e2cfb3" stroke="#b0a592" stroke-width="0.5"/>
<line x1="578.6" y1="24.15" x2="587.9" y2="24.15" stroke="#b0a592" stroke-width="0.4"/>
<text x="526.70" y="26.90" font-size="8.7" text-anchor="start" fill="#000" stroke="#000" stroke-width="0.1" >GSE66360</text>
<text x="597.20" y="26.90" font-size="8.7" text-anchor="start" fill="#000" stroke="#000" stroke-width="0.1" >GSE48060</text>
<line x1="381.20" y1="84.80" x2="381.20" y2="185.80" stroke="rgb(215,215,215)" stroke-width="0.9"/>
<line x1="383.20" y1="84.80" x2="383.20" y2="185.80" stroke="rgb(229,229,229)" stroke-width="0.9"/>
<line x1="385.20" y1="84.80" x2="385.20" y2="185.80" stroke="rgb(214,214,214)" stroke-width="0.9"/>
<line x1="387.20" y1="84.80" x2="387.20" y2="185.80" stroke="rgb(232,232,232)" stroke-width="0.9"/>
<line x1="389.19" y1="84.80" x2="389.19" y2="185.80" stroke="rgb(222,222,222)" stroke-width="0.9"/>
<line x1="391.19" y1="84.80" x2="391.19" y2="185.80" stroke="rgb(232,232,232)" stroke-width="0.9"/>
<line x1="393.19" y1="84.80" x2="393.19" y2="185.80" stroke="rgb(214,214,214)" stroke-width="0.9"/>
<line x1="395.19" y1="84.80" x2="395.19" y2="185.80" stroke="rgb(214,214,214)" stroke-width="0.9"/>
<line x1="397.19" y1="84.80" x2="397.19" y2="185.80" stroke="rgb(236,236,236)" stroke-width="0.9"/>
<line x1="399.19" y1="84.80" x2="399.19" y2="185.80" stroke="rgb(238,238,238)" stroke-width="0.9"/>
<line x1="401.19" y1="84.80" x2="401.19" y2="185.80" stroke="rgb(238,238,238)" stroke-width="0.9"/>
<line x1="403.18" y1="84.80" x2="403.18" y2="185.80" stroke="rgb(228,228,228)" stroke-width="0.9"/>
<line x1="405.18" y1="84.80" x2="405.18" y2="185.80" stroke="rgb(223,223,223)" stroke-width="0.9"/>
<line x1="407.18" y1="84.80" x2="407.18" y2="185.80" stroke="rgb(218,218,218)" stroke-width="0.9"/>
<line x1="409.18" y1="84.80" x2="409.18" y2="185.80" stroke="rgb(223,223,223)" stroke-width="0.9"/>
<line x1="411.18" y1="84.80" x2="411.18" y2="185.80" stroke="rgb(221,221,221)" stroke-width="0.9"/>
<line x1="413.18" y1="84.80" x2="413.18" y2="185.80" stroke="rgb(221,221,221)" stroke-width="0.9"/>
<line x1="415.18" y1="84.80" x2="415.18" y2="185.80" stroke="rgb(218,218,218)" stroke-width="0.9"/>
<line x1="417.18" y1="84.80" x2="417.18" y2="185.80" stroke="rgb(208,208,208)" stroke-width="0.9"/>
<line x1="419.17" y1="84.80" x2="419.17" y2="185.80" stroke="rgb(209,209,209)" stroke-width="0.9"/>
<line x1="421.17" y1="84.80" x2="421.17" y2="185.80" stroke="rgb(223,223,223)" stroke-width="0.9"/>
<line x1="423.17" y1="84.80" x2="423.17" y2="185.80" stroke="rgb(233,233,233)" stroke-width="0.9"/>
<line x1="425.17" y1="84.80" x2="425.17" y2="185.80" stroke="rgb(208,208,208)" stroke-width="0.9"/>
<line x1="427.17" y1="84.80" x2="427.17" y2="185.80" stroke="rgb(220,220,220)" stroke-width="0.9"/>
<line x1="429.17" y1="84.80" x2="429.17" y2="185.80" stroke="rgb(223,223,223)" stroke-width="0.9"/>
<line x1="431.17" y1="84.80" x2="431.17" y2="185.80" stroke="rgb(211,211,211)" stroke-width="0.9"/>
<line x1="433.16" y1="84.80" x2="433.16" y2="185.80" stroke="rgb(216,216,216)" stroke-width="0.9"/>
<line x1="435.16" y1="84.80" x2="435.16" y2="185.80" stroke="rgb(221,221,221)" stroke-width="0.9"/>
<line x1="437.16" y1="84.80" x2="437.16" y2="185.80" stroke="rgb(229,229,229)" stroke-width="0.9"/>
<line x1="439.16" y1="84.80" x2="439.16" y2="185.80" stroke="rgb(236,236,236)" stroke-width="0.9"/>
<line x1="441.16" y1="84.80" x2="441.16" y2="185.80" stroke="rgb(219,219,219)" stroke-width="0.9"/>
<line x1="443.16" y1="84.80" x2="443.16" y2="185.80" stroke="rgb(227,227,227)" stroke-width="0.9"/>
<line x1="445.16" y1="84.80" x2="445.16" y2="185.80" stroke="rgb(214,214,214)" stroke-width="0.9"/>
<line x1="447.16" y1="84.80" x2="447.16" y2="185.80" stroke="rgb(213,213,213)" stroke-width="0.9"/>
<line x1="449.15" y1="84.80" x2="449.15" y2="185.80" stroke="rgb(219,219,219)" stroke-width="0.9"/>
<line x1="451.15" y1="84.80" x2="451.15" y2="185.80" stroke="rgb(233,233,233)" stroke-width="0.9"/>
<line x1="453.15" y1="84.80" x2="453.15" y2="185.80" stroke="rgb(222,222,222)" stroke-width="0.9"/>
<line x1="455.15" y1="84.80" x2="455.15" y2="185.80" stroke="rgb(215,215,215)" stroke-width="0.9"/>
<line x1="457.15" y1="84.80" x2="457.15" y2="185.80" stroke="rgb(215,215,215)" stroke-width="0.9"/>
<line x1="459.15" y1="84.80" x2="459.15" y2="185.80" stroke="rgb(226,226,226)" stroke-width="0.9"/>
<line x1="461.15" y1="84.80" x2="461.15" y2="185.80" stroke="rgb(217,217,217)" stroke-width="0.9"/>
<line x1="463.14" y1="84.80" x2="463.14" y2="185.80" stroke="rgb(229,229,229)" stroke-width="0.9"/>
<line x1="465.14" y1="84.80" x2="465.14" y2="185.80" stroke="rgb(212,212,212)" stroke-width="0.9"/>
<line x1="467.14" y1="84.80" x2="467.14" y2="185.80" stroke="rgb(226,226,226)" stroke-width="0.9"/>
<line x1="469.14" y1="84.80" x2="469.14" y2="185.80" stroke="rgb(211,211,211)" stroke-width="0.9"/>
<line x1="471.14" y1="84.80" x2="471.14" y2="185.80" stroke="rgb(237,237,237)" stroke-width="0.9"/>
<line x1="473.14" y1="84.80" x2="473.14" y2="185.80" stroke="rgb(235,235,235)" stroke-width="0.9"/>
<line x1="475.14" y1="84.80" x2="475.14" y2="185.80" stroke="rgb(206,206,206)" stroke-width="0.9"/>
<line x1="477.14" y1="84.80" x2="477.14" y2="185.80" stroke="rgb(225,225,225)" stroke-width="0.9"/>
<line x1="479.13" y1="84.80" x2="479.13" y2="185.80" stroke="rgb(211,211,211)" stroke-width="0.9"/>
<line x1="481.13" y1="84.80" x2="481.13" y2="185.80" stroke="rgb(225,225,225)" stroke-width="0.9"/>
<line x1="483.13" y1="84.80" x2="483.13" y2="185.80" stroke="rgb(226,226,226)" stroke-width="0.9"/>
<line x1="485.13" y1="84.80" x2="485.13" y2="185.80" stroke="rgb(215,215,215)" stroke-width="0.9"/>
<line x1="487.13" y1="84.80" x2="487.13" y2="185.80" stroke="rgb(228,228,228)" stroke-width="0.9"/>
<line x1="489.13" y1="84.80" x2="489.13" y2="185.80" stroke="rgb(226,226,226)" stroke-width="0.9"/>
<line x1="491.13" y1="84.80" x2="491.13" y2="185.80" stroke="rgb(213,213,213)" stroke-width="0.9"/>
<line x1="493.13" y1="84.80" x2="493.13" y2="185.80" stroke="rgb(234,234,234)" stroke-width="0.9"/>
<line x1="495.12" y1="84.80" x2="495.12" y2="185.80" stroke="rgb(223,223,223)" stroke-width="0.9"/>
<line x1="497.12" y1="84.80" x2="497.12" y2="185.80" stroke="rgb(225,225,225)" stroke-width="0.9"/>
<line x1="499.12" y1="84.80" x2="499.12" y2="185.80" stroke="rgb(226,226,226)" stroke-width="0.9"/>
<line x1="501.12" y1="84.80" x2="501.12" y2="185.80" stroke="rgb(231,231,231)" stroke-width="0.9"/>
<line x1="503.12" y1="84.80" x2="503.12" y2="185.80" stroke="rgb(221,221,221)" stroke-width="0.9"/>
<line x1="505.12" y1="84.80" x2="505.12" y2="185.80" stroke="rgb(229,229,229)" stroke-width="0.9"/>
<line x1="507.12" y1="84.80" x2="507.12" y2="185.80" stroke="rgb(207,207,207)" stroke-width="0.9"/>
<line x1="509.11" y1="84.80" x2="509.11" y2="185.80" stroke="rgb(231,231,231)" stroke-width="0.9"/>
<line x1="511.11" y1="84.80" x2="511.11" y2="185.80" stroke="rgb(230,230,230)" stroke-width="0.9"/>
<line x1="513.11" y1="84.80" x2="513.11" y2="185.80" stroke="rgb(229,229,229)" stroke-width="0.9"/>
<line x1="515.11" y1="84.80" x2="515.11" y2="185.80" stroke="rgb(215,215,215)" stroke-width="0.9"/>
<line x1="517.11" y1="84.80" x2="517.11" y2="185.80" stroke="rgb(217,217,217)" stroke-width="0.9"/>
<line x1="519.11" y1="84.80" x2="519.11" y2="185.80" stroke="rgb(211,211,211)" stroke-width="0.9"/>
<line x1="521.11" y1="84.80" x2="521.11" y2="185.80" stroke="rgb(235,235,235)" stroke-width="0.9"/>
<line x1="523.11" y1="84.80" x2="523.11" y2="185.80" stroke="rgb(207,207,207)" stroke-width="0.9"/>
<line x1="525.10" y1="84.80" x2="525.10" y2="185.80" stroke="rgb(209,209,209)" stroke-width="0.9"/>
<line x1="527.10" y1="84.80" x2="527.10" y2="185.80" stroke="rgb(216,216,216)" stroke-width="0.9"/>
<line x1="529.10" y1="84.80" x2="529.10" y2="185.80" stroke="rgb(224,224,224)" stroke-width="0.9"/>
<line x1="531.10" y1="84.80" x2="531.10" y2="185.80" stroke="rgb(233,233,233)" stroke-width="0.9"/>
<line x1="533.10" y1="84.80" x2="533.10" y2="185.80" stroke="rgb(225,225,225)" stroke-width="0.9"/>
<line x1="535.10" y1="84.80" x2="535.10" y2="185.80" stroke="rgb(211,211,211)" stroke-width="0.9"/>
<line x1="537.10" y1="84.80" x2="537.10" y2="185.80" stroke="rgb(211,211,211)" stroke-width="0.9"/>
<line x1="539.09" y1="84.80" x2="539.09" y2="185.80" stroke="rgb(212,212,212)" stroke-width="0.9"/>
<line x1="541.09" y1="84.80" x2="541.09" y2="185.80" stroke="rgb(211,211,211)" stroke-width="0.9"/>
<line x1="543.09" y1="84.80" x2="543.09" y2="185.80" stroke="rgb(215,215,215)" stroke-width="0.9"/>
<line x1="545.09" y1="84.80" x2="545.09" y2="185.80" stroke="rgb(233,233,233)" stroke-width="0.9"/>
<line x1="547.09" y1="84.80" x2="547.09" y2="185.80" stroke="rgb(220,220,220)" stroke-width="0.9"/>
<line x1="549.09" y1="84.80" x2="549.09" y2="185.80" stroke="rgb(227,227,227)" stroke-width="0.9"/>
<line x1="551.09" y1="84.80" x2="551.09" y2="185.80" stroke="rgb(235,235,235)" stroke-width="0.9"/>
<line x1="553.09" y1="84.80" x2="553.09" y2="185.80" stroke="rgb(228,228,228)" stroke-width="0.9"/>
<line x1="555.08" y1="84.80" x2="555.08" y2="185.80" stroke="rgb(227,227,227)" stroke-width="0.9"/>
<line x1="557.08" y1="84.80" x2="557.08" y2="185.80" stroke="rgb(214,214,214)" stroke-width="0.9"/>
<line x1="559.08" y1="84.80" x2="559.08" y2="185.80" stroke="rgb(237,237,237)" stroke-width="0.9"/>
<line x1="561.08" y1="84.80" x2="561.08" y2="185.80" stroke="rgb(210,210,210)" stroke-width="0.9"/>
<line x1="563.08" y1="84.80" x2="563.08" y2="185.80" stroke="rgb(208,208,208)" stroke-width="0.9"/>
<line x1="565.08" y1="84.80" x2="565.08" y2="185.80" stroke="rgb(228,228,228)" stroke-width="0.9"/>
<line x1="567.08" y1="84.80" x2="567.08" y2="185.80" stroke="rgb(230,230,230)" stroke-width="0.9"/>
<line x1="569.07" y1="84.80" x2="569.07" y2="185.80" stroke="rgb(235,235,235)" stroke-width="0.9"/>
<line x1="571.07" y1="84.80" x2="571.07" y2="185.80" stroke="rgb(207,207,207)" stroke-width="0.9"/>
<line x1="573.07" y1="84.80" x2="573.07" y2="185.80" stroke="rgb(229,229,229)" stroke-width="0.9"/>
<line x1="575.07" y1="84.80" x2="575.07" y2="185.80" stroke="rgb(206,206,206)" stroke-width="0.9"/>
<line x1="577.07" y1="84.80" x2="577.07" y2="185.80" stroke="rgb(232,232,232)" stroke-width="0.9"/>
<line x1="579.07" y1="84.80" x2="579.07" y2="185.80" stroke="rgb(215,215,215)" stroke-width="0.9"/>
<line x1="581.07" y1="84.80" x2="581.07" y2="185.80" stroke="rgb(216,216,216)" stroke-width="0.9"/>
<line x1="583.07" y1="84.80" x2="583.07" y2="185.80" stroke="rgb(230,230,230)" stroke-width="0.9"/>
<line x1="585.06" y1="84.80" x2="585.06" y2="185.80" stroke="rgb(216,216,216)" stroke-width="0.9"/>
<line x1="587.06" y1="84.80" x2="587.06" y2="185.80" stroke="rgb(219,219,219)" stroke-width="0.9"/>
<line x1="589.06" y1="84.80" x2="589.06" y2="185.80" stroke="rgb(233,233,233)" stroke-width="0.9"/>
<line x1="591.06" y1="84.80" x2="591.06" y2="185.80" stroke="rgb(224,224,224)" stroke-width="0.9"/>
<line x1="593.06" y1="84.80" x2="593.06" y2="185.80" stroke="rgb(209,209,209)" stroke-width="0.9"/>
<line x1="595.06" y1="84.80" x2="595.06" y2="185.80" stroke="rgb(225,225,225)" stroke-width="0.9"/>
<line x1="597.06" y1="84.80" x2="597.06" y2="185.80" stroke="rgb(213,213,213)" stroke-width="0.9"/>
<line x1="599.06" y1="84.80" x2="599.06" y2="185.80" stroke="rgb(215,215,215)" stroke-width="0.9"/>
<line x1="601.05" y1="84.80" x2="601.05" y2="185.80" stroke="rgb(217,217,217)" stroke-width="0.9"/>
<line x1="603.05" y1="84.80" x2="603.05" y2="185.80" stroke="rgb(235,235,235)" stroke-width="0.9"/>
<line x1="605.05" y1="84.80" x2="605.05" y2="185.80" stroke="rgb(236,236,236)" stroke-width="0.9"/>
<line x1="607.05" y1="84.80" x2="607.05" y2="185.80" stroke="rgb(226,226,226)" stroke-width="0.9"/>
<line x1="609.05" y1="84.80" x2="609.05" y2="185.80" stroke="rgb(218,218,218)" stroke-width="0.9"/>
<line x1="611.05" y1="84.80" x2="611.05" y2="185.80" stroke="rgb(228,228,228)" stroke-width="0.9"/>
<line x1="613.05" y1="84.80" x2="613.05" y2="185.80" stroke="rgb(221,221,221)" stroke-width="0.9"/>
<line x1="615.04" y1="84.80" x2="615.04" y2="185.80" stroke="rgb(236,236,236)" stroke-width="0.9"/>
<line x1="617.04" y1="84.80" x2="617.04" y2="185.80" stroke="rgb(238,238,238)" stroke-width="0.9"/>
<line x1="619.04" y1="84.80" x2="619.04" y2="185.80" stroke="rgb(234,234,234)" stroke-width="0.9"/>
<line x1="621.04" y1="84.80" x2="621.04" y2="185.80" stroke="rgb(223,223,223)" stroke-width="0.9"/>
<line x1="623.04" y1="84.80" x2="623.04" y2="185.80" stroke="rgb(217,217,217)" stroke-width="0.9"/>
<line x1="625.04" y1="84.80" x2="625.04" y2="185.80" stroke="rgb(225,225,225)" stroke-width="0.9"/>
<line x1="627.04" y1="84.80" x2="627.04" y2="185.80" stroke="rgb(236,236,236)" stroke-width="0.9"/>
<line x1="629.04" y1="84.80" x2="629.04" y2="185.80" stroke="rgb(237,237,237)" stroke-width="0.9"/>
<line x1="631.03" y1="84.80" x2="631.03" y2="185.80" stroke="rgb(227,227,227)" stroke-width="0.9"/>
<line x1="633.03" y1="84.80" x2="633.03" y2="185.80" stroke="rgb(211,211,211)" stroke-width="0.9"/>
<line x1="635.03" y1="84.80" x2="635.03" y2="185.80" stroke="rgb(220,220,220)" stroke-width="0.9"/>
<line x1="637.03" y1="84.80" x2="637.03" y2="185.80" stroke="rgb(209,209,209)" stroke-width="0.9"/>
<line x1="639.03" y1="84.80" x2="639.03" y2="185.80" stroke="rgb(214,214,214)" stroke-width="0.9"/>
<line x1="641.03" y1="84.80" x2="641.03" y2="185.80" stroke="rgb(223,223,223)" stroke-width="0.9"/>
<line x1="643.03" y1="84.80" x2="643.03" y2="185.80" stroke="rgb(221,221,221)" stroke-width="0.9"/>
<line x1="645.02" y1="84.80" x2="645.02" y2="185.80" stroke="rgb(236,236,236)" stroke-width="0.9"/>
<line x1="647.02" y1="84.80" x2="647.02" y2="185.80" stroke="rgb(234,234,234)" stroke-width="0.9"/>
<line x1="649.02" y1="84.80" x2="649.02" y2="185.80" stroke="rgb(232,232,232)" stroke-width="0.9"/>
<line x1="651.02" y1="84.80" x2="651.02" y2="185.80" stroke="rgb(216,216,216)" stroke-width="0.9"/>
<line x1="653.02" y1="84.80" x2="653.02" y2="185.80" stroke="rgb(216,216,216)" stroke-width="0.9"/>
<line x1="655.02" y1="84.80" x2="655.02" y2="185.80" stroke="rgb(226,226,226)" stroke-width="0.9"/>
<line x1="657.02" y1="84.80" x2="657.02" y2="185.80" stroke="rgb(222,222,222)" stroke-width="0.9"/>
<line x1="659.02" y1="84.80" x2="659.02" y2="185.80" stroke="rgb(214,214,214)" stroke-width="0.9"/>
<line x1="661.01" y1="84.80" x2="661.01" y2="185.80" stroke="rgb(223,223,223)" stroke-width="0.9"/>
<line x1="663.01" y1="84.80" x2="663.01" y2="185.80" stroke="rgb(209,209,209)" stroke-width="0.9"/>
<line x1="665.01" y1="84.80" x2="665.01" y2="185.80" stroke="rgb(217,217,217)" stroke-width="0.9"/>
<line x1="667.01" y1="84.80" x2="667.01" y2="185.80" stroke="rgb(219,219,219)" stroke-width="0.9"/>
<line x1="669.01" y1="84.80" x2="669.01" y2="185.80" stroke="rgb(214,214,214)" stroke-width="0.9"/>
<line x1="671.01" y1="84.80" x2="671.01" y2="185.80" stroke="rgb(228,228,228)" stroke-width="0.9"/>
<line x1="673.01" y1="84.80" x2="673.01" y2="185.80" stroke="rgb(212,212,212)" stroke-width="0.9"/>
<line x1="675.00" y1="84.80" x2="675.00" y2="185.80" stroke="rgb(235,235,235)" stroke-width="0.9"/>
<line x1="677.00" y1="84.80" x2="677.00" y2="185.80" stroke="rgb(238,238,238)" stroke-width="0.9"/>
<line x1="679.00" y1="84.80" x2="679.00" y2="185.80" stroke="rgb(207,207,207)" stroke-width="0.9"/>
<line x1="681.00" y1="84.80" x2="681.00" y2="185.80" stroke="rgb(232,232,232)" stroke-width="0.9"/>
<rect x="380.30" y="127.40" width="1.80" height="27.90" fill="rgb(193,209,228)"/>
<rect x="382.30" y="127.40" width="1.80" height="27.90" fill="rgb(193,209,228)"/>
<rect x="384.30" y="127.40" width="1.80" height="27.90" fill="rgb(193,209,228)"/>
<rect x="386.30" y="127.40" width="1.80" height="27.90" fill="rgb(193,209,228)"/>
<rect x="388.29" y="127.40" width="1.80" height="27.90" fill="rgb(193,209,228)"/>
<rect x="390.29" y="127.40" width="1.80" height="27.90" fill="rgb(193,209,228)"/>
<rect x="392.29" y="127.40" width="1.80" height="27.90" fill="rgb(193,209,228)"/>
<rect x="394.29" y="127.40" width="1.80" height="27.90" fill="rgb(193,209,228)"/>
<rect x="396.29" y="127.40" width="1.80" height="27.90" fill="rgb(193,209,228)"/>
<rect x="398.29" y="127.40" width="1.80" height="27.90" fill="rgb(193,209,228)"/>
<rect x="400.29" y="127.40" width="1.80" height="27.90" fill="rgb(193,209,228)"/>
<rect x="402.29" y="127.40" width="1.80" height="27.90" fill="rgb(193,209,228)"/>
<rect x="404.28" y="127.40" width="1.80" height="27.90" fill="rgb(193,209,228)"/>
<rect x="406.28" y="127.40" width="1.80" height="27.90" fill="rgb(193,209,228)"/>
<rect x="408.28" y="127.40" width="1.80" height="27.90" fill="rgb(193,209,228)"/>
<rect x="410.28" y="127.40" width="1.80" height="27.90" fill="rgb(193,209,228)"/>
<rect x="412.28" y="127.40" width="1.80" height="27.90" fill="rgb(193,209,228)"/>
<rect x="414.28" y="127.40" width="1.80" height="27.90" fill="rgb(193,209,228)"/>
<rect x="416.28" y="127.40" width="1.80" height="27.90" fill="rgb(193,209,228)"/>
<rect x="418.27" y="127.40" width="1.80" height="27.90" fill="rgb(193,209,228)"/>
<rect x="420.27" y="127.40" width="1.80" height="27.90" fill="rgb(193,209,228)"/>
<rect x="422.27" y="127.40" width="1.80" height="27.90" fill="rgb(193,209,228)"/>
<rect x="424.27" y="127.40" width="1.80" height="27.90" fill="rgb(193,209,228)"/>
<rect x="426.27" y="127.40" width="1.80" height="27.90" fill="rgb(193,209,228)"/>
<rect x="428.27" y="127.40" width="1.80" height="27.90" fill="rgb(193,209,228)"/>
<rect x="430.27" y="127.40" width="1.80" height="27.90" fill="rgb(193,209,228)"/>
<rect x="432.27" y="127.40" width="1.80" height="27.90" fill="rgb(193,209,228)"/>
<rect x="434.26" y="127.40" width="1.80" height="27.90" fill="rgb(193,209,228)"/>
<rect x="436.26" y="127.40" width="1.80" height="27.90" fill="rgb(193,209,228)"/>
<rect x="438.26" y="127.40" width="1.80" height="27.90" fill="rgb(193,209,228)"/>
<rect x="440.26" y="127.40" width="1.80" height="27.90" fill="rgb(193,209,228)"/>
<rect x="442.26" y="127.40" width="1.80" height="27.90" fill="rgb(193,209,228)"/>
<rect x="444.26" y="127.40" width="1.80" height="27.90" fill="rgb(193,209,228)"/>
<rect x="446.26" y="127.40" width="1.80" height="27.90" fill="rgb(193,209,228)"/>
<rect x="448.25" y="127.40" width="1.80" height="27.90" fill="rgb(193,209,228)"/>
<rect x="450.25" y="127.40" width="1.80" height="27.90" fill="rgb(193,209,228)"/>
<rect x="452.25" y="127.40" width="1.80" height="27.90" fill="rgb(193,209,228)"/>
<rect x="454.25" y="127.40" width="1.80" height="27.90" fill="rgb(193,209,228)"/>
<rect x="456.25" y="127.40" width="1.80" height="27.90" fill="rgb(193,209,228)"/>
<rect x="458.25" y="127.40" width="1.80" height="27.90" fill="rgb(193,209,228)"/>
<rect x="460.25" y="127.40" width="1.80" height="27.90" fill="rgb(193,209,228)"/>
<rect x="462.25" y="127.40" width="1.80" height="27.90" fill="rgb(193,209,228)"/>
<rect x="464.24" y="127.40" width="1.80" height="27.90" fill="rgb(193,209,228)"/>
<rect x="466.24" y="127.40" width="1.80" height="27.90" fill="rgb(193,209,228)"/>
<rect x="468.24" y="127.40" width="1.80" height="27.90" fill="rgb(193,209,228)"/>
<rect x="470.24" y="127.40" width="1.80" height="27.90" fill="rgb(193,209,228)"/>
<rect x="472.24" y="127.40" width="1.80" height="27.90" fill="rgb(193,209,228)"/>
<rect x="474.24" y="127.40" width="1.80" height="27.90" fill="rgb(193,209,228)"/>
<rect x="476.24" y="127.40" width="1.80" height="27.90" fill="rgb(193,209,228)"/>
<rect x="478.23" y="127.40" width="1.80" height="27.90" fill="rgb(193,209,228)"/>
<rect x="480.23" y="127.40" width="1.80" height="27.90" fill="rgb(193,209,228)"/>
<rect x="482.23" y="127.40" width="1.80" height="27.90" fill="rgb(193,209,228)"/>
<rect x="484.23" y="127.40" width="1.80" height="27.90" fill="rgb(193,209,228)"/>
<rect x="486.23" y="127.40" width="1.80" height="27.90" fill="rgb(193,209,228)"/>
<rect x="488.23" y="127.40" width="1.80" height="27.90" fill="rgb(193,209,228)"/>
<rect x="490.23" y="127.40" width="1.80" height="27.90" fill="rgb(193,209,228)"/>
<rect x="492.23" y="127.40" width="1.80" height="27.90" fill="rgb(193,209,228)"/>
<rect x="494.22" y="127.40" width="1.80" height="27.90" fill="rgb(193,209,228)"/>
<rect x="496.22" y="127.40" width="1.80" height="27.90" fill="rgb(193,209,228)"/>
<rect x="498.22" y="127.40" width="1.80" height="27.90" fill="rgb(193,209,228)"/>
<rect x="500.22" y="127.40" width="1.80" height="27.90" fill="rgb(193,209,228)"/>
<rect x="502.22" y="127.40" width="1.80" height="27.90" fill="rgb(193,209,228)"/>
<rect x="504.22" y="127.40" width="1.80" height="27.90" fill="rgb(193,209,228)"/>
<rect x="506.22" y="127.40" width="1.80" height="27.90" fill="rgb(193,209,228)"/>
<rect x="508.22" y="127.40" width="1.80" height="27.90" fill="rgb(193,209,228)"/>
<rect x="510.21" y="127.40" width="1.80" height="27.90" fill="rgb(193,209,228)"/>
<rect x="512.21" y="127.40" width="1.80" height="27.90" fill="rgb(193,209,228)"/>
<rect x="514.21" y="127.40" width="1.80" height="27.90" fill="rgb(193,209,228)"/>
<rect x="516.21" y="127.40" width="1.80" height="27.90" fill="rgb(193,209,228)"/>
<rect x="518.21" y="127.40" width="1.80" height="27.90" fill="rgb(193,209,228)"/>
<rect x="520.21" y="127.40" width="1.80" height="27.90" fill="rgb(193,209,228)"/>
<rect x="522.21" y="127.40" width="1.80" height="27.90" fill="rgb(193,209,228)"/>
<rect x="524.20" y="127.40" width="1.80" height="27.90" fill="rgb(193,209,228)"/>
<rect x="526.20" y="127.40" width="1.80" height="27.90" fill="rgb(193,209,228)"/>
<rect x="528.20" y="127.40" width="1.80" height="27.90" fill="rgb(193,209,228)"/>
<rect x="530.20" y="127.40" width="1.80" height="27.90" fill="rgb(193,209,228)"/>
<rect x="532.20" y="127.40" width="1.80" height="27.90" fill="rgb(193,209,228)"/>
<rect x="534.20" y="127.40" width="1.80" height="27.90" fill="rgb(193,209,228)"/>
<rect x="536.20" y="127.40" width="1.80" height="27.90" fill="rgb(193,209,228)"/>
<rect x="538.20" y="127.40" width="1.80" height="27.90" fill="rgb(193,209,228)"/>
<rect x="540.19" y="127.40" width="1.80" height="27.90" fill="rgb(193,209,228)"/>
<rect x="542.19" y="127.40" width="1.80" height="27.90" fill="rgb(193,209,228)"/>
<rect x="544.19" y="127.40" width="1.80" height="27.90" fill="rgb(193,209,228)"/>
<rect x="546.19" y="127.40" width="1.80" height="27.90" fill="rgb(193,209,228)"/>
<rect x="548.19" y="127.40" width="1.80" height="27.90" fill="rgb(193,209,228)"/>
<rect x="550.19" y="127.40" width="1.80" height="27.90" fill="rgb(193,209,228)"/>
<rect x="552.19" y="127.40" width="1.80" height="27.90" fill="rgb(193,209,228)"/>
<rect x="554.18" y="127.40" width="1.80" height="27.90" fill="rgb(193,209,228)"/>
<rect x="556.18" y="127.40" width="1.80" height="27.90" fill="rgb(193,209,228)"/>
<rect x="558.18" y="127.40" width="1.80" height="27.90" fill="rgb(193,209,228)"/>
<rect x="560.18" y="127.40" width="1.80" height="27.90" fill="rgb(193,209,228)"/>
<rect x="562.18" y="127.40" width="1.80" height="27.90" fill="rgb(193,209,228)"/>
<rect x="564.18" y="127.40" width="1.80" height="27.90" fill="rgb(193,209,228)"/>
<rect x="566.18" y="127.40" width="1.80" height="27.90" fill="rgb(193,209,228)"/>
<rect x="568.18" y="127.40" width="1.80" height="27.90" fill="rgb(193,209,228)"/>
<rect x="570.17" y="127.40" width="1.80" height="27.90" fill="rgb(193,209,228)"/>
<rect x="572.17" y="127.40" width="1.80" height="27.90" fill="rgb(193,209,228)"/>
<rect x="574.17" y="127.40" width="1.80" height="27.90" fill="rgb(193,209,228)"/>
<rect x="576.17" y="127.40" width="1.80" height="27.90" fill="rgb(193,209,228)"/>
<rect x="578.17" y="127.40" width="1.80" height="27.90" fill="rgb(220,205,185)"/>
<rect x="580.17" y="127.40" width="1.80" height="27.90" fill="rgb(220,205,185)"/>
<rect x="582.17" y="127.40" width="1.80" height="27.90" fill="rgb(220,205,185)"/>
<rect x="584.16" y="127.40" width="1.80" height="27.90" fill="rgb(220,205,185)"/>
<rect x="586.16" y="127.40" width="1.80" height="27.90" fill="rgb(220,205,185)"/>
<rect x="588.16" y="127.40" width="1.80" height="27.90" fill="rgb(220,205,185)"/>
<rect x="590.16" y="127.40" width="1.80" height="27.90" fill="rgb(220,205,185)"/>
<rect x="592.16" y="127.40" width="1.80" height="27.90" fill="rgb(220,205,185)"/>
<rect x="594.16" y="127.40" width="1.80" height="27.90" fill="rgb(220,205,185)"/>
<rect x="596.16" y="127.40" width="1.80" height="27.90" fill="rgb(220,205,185)"/>
<rect x="598.16" y="127.40" width="1.80" height="27.90" fill="rgb(220,205,185)"/>
<rect x="600.15" y="127.40" width="1.80" height="27.90" fill="rgb(220,205,185)"/>
<rect x="602.15" y="127.40" width="1.80" height="27.90" fill="rgb(220,205,185)"/>
<rect x="604.15" y="127.40" width="1.80" height="27.90" fill="rgb(220,205,185)"/>
<rect x="606.15" y="127.40" width="1.80" height="27.90" fill="rgb(220,205,185)"/>
<rect x="608.15" y="127.40" width="1.80" height="27.90" fill="rgb(220,205,185)"/>
<rect x="610.15" y="127.40" width="1.80" height="27.90" fill="rgb(220,205,185)"/>
<rect x="612.15" y="127.40" width="1.80" height="27.90" fill="rgb(220,205,185)"/>
<rect x="614.15" y="127.40" width="1.80" height="27.90" fill="rgb(220,205,185)"/>
<rect x="616.14" y="127.40" width="1.80" height="27.90" fill="rgb(220,205,185)"/>
<rect x="618.14" y="127.40" width="1.80" height="27.90" fill="rgb(220,205,185)"/>
<rect x="620.14" y="127.40" width="1.80" height="27.90" fill="rgb(220,205,185)"/>
<rect x="622.14" y="127.40" width="1.80" height="27.90" fill="rgb(220,205,185)"/>
<rect x="624.14" y="127.40" width="1.80" height="27.90" fill="rgb(220,205,185)"/>
<rect x="626.14" y="127.40" width="1.80" height="27.90" fill="rgb(220,205,185)"/>
<rect x="628.14" y="127.40" width="1.80" height="27.90" fill="rgb(220,205,185)"/>
<rect x="630.13" y="127.40" width="1.80" height="27.90" fill="rgb(220,205,185)"/>
<rect x="632.13" y="127.40" width="1.80" height="27.90" fill="rgb(220,205,185)"/>
<rect x="634.13" y="127.40" width="1.80" height="27.90" fill="rgb(220,205,185)"/>
<rect x="636.13" y="127.40" width="1.80" height="27.90" fill="rgb(220,205,185)"/>
<rect x="638.13" y="127.40" width="1.80" height="27.90" fill="rgb(220,205,185)"/>
<rect x="640.13" y="127.40" width="1.80" height="27.90" fill="rgb(220,205,185)"/>
<rect x="642.13" y="127.40" width="1.80" height="27.90" fill="rgb(220,205,185)"/>
<rect x="644.13" y="127.40" width="1.80" height="27.90" fill="rgb(220,205,185)"/>
<rect x="646.12" y="127.40" width="1.80" height="27.90" fill="rgb(220,205,185)"/>
<rect x="648.12" y="127.40" width="1.80" height="27.90" fill="rgb(220,205,185)"/>
<rect x="650.12" y="127.40" width="1.80" height="27.90" fill="rgb(220,205,185)"/>
<rect x="652.12" y="127.40" width="1.80" height="27.90" fill="rgb(220,205,185)"/>
<rect x="654.12" y="127.40" width="1.80" height="27.90" fill="rgb(220,205,185)"/>
<rect x="656.12" y="127.40" width="1.80" height="27.90" fill="rgb(220,205,185)"/>
<rect x="658.12" y="127.40" width="1.80" height="27.90" fill="rgb(220,205,185)"/>
<rect x="660.11" y="127.40" width="1.80" height="27.90" fill="rgb(220,205,185)"/>
<rect x="662.11" y="127.40" width="1.80" height="27.90" fill="rgb(220,205,185)"/>
<rect x="664.11" y="127.40" width="1.80" height="27.90" fill="rgb(220,205,185)"/>
<rect x="666.11" y="127.40" width="1.80" height="27.90" fill="rgb(220,205,185)"/>
<rect x="668.11" y="127.40" width="1.80" height="27.90" fill="rgb(220,205,185)"/>
<rect x="670.11" y="127.40" width="1.80" height="27.90" fill="rgb(220,205,185)"/>
<rect x="672.11" y="127.40" width="1.80" height="27.90" fill="rgb(220,205,185)"/>
<rect x="674.11" y="127.40" width="1.80" height="27.90" fill="rgb(220,205,185)"/>
<rect x="676.10" y="127.40" width="1.80" height="27.90" fill="rgb(220,205,185)"/>
<rect x="678.10" y="127.40" width="1.80" height="27.90" fill="rgb(220,205,185)"/>
<rect x="680.10" y="127.40" width="1.80" height="27.90" fill="rgb(220,205,185)"/>
<path d="M380.30 127.40H382.10M380.30 155.30H382.10" stroke="rgb(150,164,180)" stroke-width="0.6" fill="none"/>
<path d="M380.30 143.40H382.10" stroke="rgb(140,152,168)" stroke-width="1.0" fill="none"/>
<line x1="382.20" y1="127.40" x2="382.20" y2="155.30" stroke="rgb(157,172,190)" stroke-width="1.0"/>
<path d="M382.30 127.40H384.10M382.30 155.30H384.10" stroke="rgb(150,164,180)" stroke-width="0.6" fill="none"/>
<path d="M382.30 143.40H384.10" stroke="rgb(140,152,168)" stroke-width="1.0" fill="none"/>
<line x1="384.20" y1="127.40" x2="384.20" y2="155.30" stroke="rgb(168,183,201)" stroke-width="1.0"/>
<path d="M384.30 127.40H386.10M384.30 155.30H386.10" stroke="rgb(150,164,180)" stroke-width="0.6" fill="none"/>
<path d="M384.30 143.40H386.10" stroke="rgb(140,152,168)" stroke-width="1.0" fill="none"/>
<line x1="386.20" y1="127.40" x2="386.20" y2="155.30" stroke="rgb(175,190,208)" stroke-width="1.0"/>
<path d="M386.30 127.40H388.09M386.30 155.30H388.09" stroke="rgb(150,164,180)" stroke-width="0.6" fill="none"/>
<path d="M386.30 143.40H388.09" stroke="rgb(140,152,168)" stroke-width="1.0" fill="none"/>
<line x1="388.20" y1="127.40" x2="388.20" y2="155.30" stroke="rgb(168,183,201)" stroke-width="1.0"/>
<path d="M388.29 127.40H390.09M388.29 155.30H390.09" stroke="rgb(150,164,180)" stroke-width="0.6" fill="none"/>
<path d="M388.29 143.40H390.09" stroke="rgb(140,152,168)" stroke-width="1.0" fill="none"/>
<line x1="390.19" y1="127.40" x2="390.19" y2="155.30" stroke="rgb(174,189,207)" stroke-width="1.0"/>
<path d="M390.29 127.40H392.09M390.29 155.30H392.09" stroke="rgb(150,164,180)" stroke-width="0.6" fill="none"/>
<path d="M390.29 143.40H392.09" stroke="rgb(140,152,168)" stroke-width="1.0" fill="none"/>
<line x1="392.19" y1="127.40" x2="392.19" y2="155.30" stroke="rgb(165,180,198)" stroke-width="1.0"/>
<path d="M392.29 127.40H394.09M392.29 155.30H394.09" stroke="rgb(150,164,180)" stroke-width="0.6" fill="none"/>
<path d="M392.29 143.40H394.09" stroke="rgb(140,152,168)" stroke-width="1.0" fill="none"/>
<line x1="394.19" y1="127.40" x2="394.19" y2="155.30" stroke="rgb(163,178,196)" stroke-width="1.0"/>
<path d="M394.29 127.40H396.09M394.29 155.30H396.09" stroke="rgb(150,164,180)" stroke-width="0.6" fill="none"/>
<path d="M394.29 143.40H396.09" stroke="rgb(140,152,168)" stroke-width="1.0" fill="none"/>
<line x1="396.19" y1="127.40" x2="396.19" y2="155.30" stroke="rgb(161,176,194)" stroke-width="1.0"/>
<path d="M396.29 127.40H398.09M396.29 155.30H398.09" stroke="rgb(150,164,180)" stroke-width="0.6" fill="none"/>
<path d="M396.29 143.40H398.09" stroke="rgb(140,152,168)" stroke-width="1.0" fill="none"/>
<line x1="398.19" y1="127.40" x2="398.19" y2="155.30" stroke="rgb(157,172,190)" stroke-width="1.0"/>
<path d="M398.29 127.40H400.09M398.29 155.30H400.09" stroke="rgb(150,164,180)" stroke-width="0.6" fill="none"/>
<path d="M398.29 143.40H400.09" stroke="rgb(140,152,168)" stroke-width="1.0" fill="none"/>
<line x1="400.19" y1="127.40" x2="400.19" y2="155.30" stroke="rgb(163,178,196)" stroke-width="1.0"/>
<path d="M400.29 127.40H402.09M400.29 155.30H402.09" stroke="rgb(150,164,180)" stroke-width="0.6" fill="none"/>
<path d="M400.29 143.40H402.09" stroke="rgb(140,152,168)" stroke-width="1.0" fill="none"/>
<line x1="402.19" y1="127.40" x2="402.19" y2="155.30" stroke="rgb(173,188,206)" stroke-width="1.0"/>
<path d="M402.29 127.40H404.08M402.29 155.30H404.08" stroke="rgb(150,164,180)" stroke-width="0.6" fill="none"/>
<path d="M402.29 143.40H404.08" stroke="rgb(140,152,168)" stroke-width="1.0" fill="none"/>
<line x1="404.18" y1="127.40" x2="404.18" y2="155.30" stroke="rgb(162,177,195)" stroke-width="1.0"/>
<path d="M404.28 127.40H406.08M404.28 155.30H406.08" stroke="rgb(150,164,180)" stroke-width="0.6" fill="none"/>
<path d="M404.28 143.40H406.08" stroke="rgb(140,152,168)" stroke-width="1.0" fill="none"/>
<line x1="406.18" y1="127.40" x2="406.18" y2="155.30" stroke="rgb(173,188,206)" stroke-width="1.0"/>
<path d="M406.28 127.40H408.08M406.28 155.30H408.08" stroke="rgb(150,164,180)" stroke-width="0.6" fill="none"/>
<path d="M406.28 143.40H408.08" stroke="rgb(140,152,168)" stroke-width="1.0" fill="none"/>
<line x1="408.18" y1="127.40" x2="408.18" y2="155.30" stroke="rgb(174,189,207)" stroke-width="1.0"/>
<path d="M408.28 127.40H410.08M408.28 155.30H410.08" stroke="rgb(150,164,180)" stroke-width="0.6" fill="none"/>
<path d="M408.28 143.40H410.08" stroke="rgb(140,152,168)" stroke-width="1.0" fill="none"/>
<line x1="410.18" y1="127.40" x2="410.18" y2="155.30" stroke="rgb(178,193,211)" stroke-width="1.0"/>
<path d="M410.28 127.40H412.08M410.28 155.30H412.08" stroke="rgb(150,164,180)" stroke-width="0.6" fill="none"/>
<path d="M410.28 143.40H412.08" stroke="rgb(140,152,168)" stroke-width="1.0" fill="none"/>
<line x1="412.18" y1="127.40" x2="412.18" y2="155.30" stroke="rgb(160,175,193)" stroke-width="1.0"/>
<path d="M412.28 127.40H414.08M412.28 155.30H414.08" stroke="rgb(150,164,180)" stroke-width="0.6" fill="none"/>
<path d="M412.28 143.40H414.08" stroke="rgb(140,152,168)" stroke-width="1.0" fill="none"/>
<line x1="414.18" y1="127.40" x2="414.18" y2="155.30" stroke="rgb(170,185,203)" stroke-width="1.0"/>
<path d="M414.28 127.40H416.08M414.28 155.30H416.08" stroke="rgb(150,164,180)" stroke-width="0.6" fill="none"/>
<path d="M414.28 143.40H416.08" stroke="rgb(140,152,168)" stroke-width="1.0" fill="none"/>
<line x1="416.18" y1="127.40" x2="416.18" y2="155.30" stroke="rgb(175,190,208)" stroke-width="1.0"/>
<path d="M416.28 127.40H418.07M416.28 155.30H418.07" stroke="rgb(150,164,180)" stroke-width="0.6" fill="none"/>
<path d="M416.28 143.40H418.07" stroke="rgb(140,152,168)" stroke-width="1.0" fill="none"/>
<line x1="418.18" y1="127.40" x2="418.18" y2="155.30" stroke="rgb(174,189,207)" stroke-width="1.0"/>
<path d="M418.27 127.40H420.07M418.27 155.30H420.07" stroke="rgb(150,164,180)" stroke-width="0.6" fill="none"/>
<path d="M418.27 143.40H420.07" stroke="rgb(140,152,168)" stroke-width="1.0" fill="none"/>
<line x1="420.17" y1="127.40" x2="420.17" y2="155.30" stroke="rgb(154,169,187)" stroke-width="1.0"/>
<path d="M420.27 127.40H422.07M420.27 155.30H422.07" stroke="rgb(150,164,180)" stroke-width="0.6" fill="none"/>
<path d="M420.27 143.40H422.07" stroke="rgb(140,152,168)" stroke-width="1.0" fill="none"/>
<line x1="422.17" y1="127.40" x2="422.17" y2="155.30" stroke="rgb(162,177,195)" stroke-width="1.0"/>
<path d="M422.27 127.40H424.07M422.27 155.30H424.07" stroke="rgb(150,164,180)" stroke-width="0.6" fill="none"/>
<path d="M422.27 143.40H424.07" stroke="rgb(140,152,168)" stroke-width="1.0" fill="none"/>
<line x1="424.17" y1="127.40" x2="424.17" y2="155.30" stroke="rgb(154,169,187)" stroke-width="1.0"/>
<path d="M424.27 127.40H426.07M424.27 155.30H426.07" stroke="rgb(150,164,180)" stroke-width="0.6" fill="none"/>
<path d="M424.27 143.40H426.07" stroke="rgb(140,152,168)" stroke-width="1.0" fill="none"/>
<line x1="426.17" y1="127.40" x2="426.17" y2="155.30" stroke="rgb(157,172,190)" stroke-width="1.0"/>
<path d="M426.27 127.40H428.07M426.27 155.30H428.07" stroke="rgb(150,164,180)" stroke-width="0.6" fill="none"/>
<path d="M426.27 143.40H428.07" stroke="rgb(140,152,168)" stroke-width="1.0" fill="none"/>
<line x1="428.17" y1="127.40" x2="428.17" y2="155.30" stroke="rgb(171,186,204)" stroke-width="1.0"/>
<path d="M428.27 127.40H430.07M428.27 155.30H430.07" stroke="rgb(150,164,180)" stroke-width="0.6" fill="none"/>
<path d="M428.27 143.40H430.07" stroke="rgb(140,152,168)" stroke-width="1.0" fill="none"/>
<line x1="430.17" y1="127.40" x2="430.17" y2="155.30" stroke="rgb(156,171,189)" stroke-width="1.0"/>
<path d="M430.27 127.40H432.07M430.27 155.30H432.07" stroke="rgb(150,164,180)" stroke-width="0.6" fill="none"/>
<path d="M430.27 143.40H432.07" stroke="rgb(140,152,168)" stroke-width="1.0" fill="none"/>
<line x1="432.17" y1="127.40" x2="432.17" y2="155.30" stroke="rgb(175,190,208)" stroke-width="1.0"/>
<path d="M432.27 127.40H434.06M432.27 155.30H434.06" stroke="rgb(150,164,180)" stroke-width="0.6" fill="none"/>
<path d="M432.27 143.40H434.06" stroke="rgb(140,152,168)" stroke-width="1.0" fill="none"/>
<line x1="434.16" y1="127.40" x2="434.16" y2="155.30" stroke="rgb(171,186,204)" stroke-width="1.0"/>
<path d="M434.26 127.40H436.06M434.26 155.30H436.06" stroke="rgb(150,164,180)" stroke-width="0.6" fill="none"/>
<path d="M434.26 143.40H436.06" stroke="rgb(140,152,168)" stroke-width="1.0" fill="none"/>
<line x1="436.16" y1="127.40" x2="436.16" y2="155.30" stroke="rgb(174,189,207)" stroke-width="1.0"/>
<path d="M436.26 127.40H438.06M436.26 155.30H438.06" stroke="rgb(150,164,180)" stroke-width="0.6" fill="none"/>
<path d="M436.26 143.40H438.06" stroke="rgb(140,152,168)" stroke-width="1.0" fill="none"/>
<line x1="438.16" y1="127.40" x2="438.16" y2="155.30" stroke="rgb(169,184,202)" stroke-width="1.0"/>
<path d="M438.26 127.40H440.06M438.26 155.30H440.06" stroke="rgb(150,164,180)" stroke-width="0.6" fill="none"/>
<path d="M438.26 143.40H440.06" stroke="rgb(140,152,168)" stroke-width="1.0" fill="none"/>
<line x1="440.16" y1="127.40" x2="440.16" y2="155.30" stroke="rgb(165,180,198)" stroke-width="1.0"/>
<path d="M440.26 127.40H442.06M440.26 155.30H442.06" stroke="rgb(150,164,180)" stroke-width="0.6" fill="none"/>
<path d="M440.26 143.40H442.06" stroke="rgb(140,152,168)" stroke-width="1.0" fill="none"/>
<line x1="442.16" y1="127.40" x2="442.16" y2="155.30" stroke="rgb(164,179,197)" stroke-width="1.0"/>
<path d="M442.26 127.40H444.06M442.26 155.30H444.06" stroke="rgb(150,164,180)" stroke-width="0.6" fill="none"/>
<path d="M442.26 143.40H444.06" stroke="rgb(140,152,168)" stroke-width="1.0" fill="none"/>
<line x1="444.16" y1="127.40" x2="444.16" y2="155.30" stroke="rgb(169,184,202)" stroke-width="1.0"/>
<path d="M444.26 127.40H446.06M444.26 155.30H446.06" stroke="rgb(150,164,180)" stroke-width="0.6" fill="none"/>
<path d="M444.26 143.40H446.06" stroke="rgb(140,152,168)" stroke-width="1.0" fill="none"/>
<line x1="446.16" y1="127.40" x2="446.16" y2="155.30" stroke="rgb(156,171,189)" stroke-width="1.0"/>
<path d="M446.26 127.40H448.05M446.26 155.30H448.05" stroke="rgb(150,164,180)" stroke-width="0.6" fill="none"/>
<path d="M446.26 143.40H448.05" stroke="rgb(140,152,168)" stroke-width="1.0" fill="none"/>
<line x1="448.16" y1="127.40" x2="448.16" y2="155.30" stroke="rgb(168,183,201)" stroke-width="1.0"/>
<path d="M448.25 127.40H450.05M448.25 155.30H450.05" stroke="rgb(150,164,180)" stroke-width="0.6" fill="none"/>
<path d="M448.25 143.40H450.05" stroke="rgb(140,152,168)" stroke-width="1.0" fill="none"/>
<line x1="450.15" y1="127.40" x2="450.15" y2="155.30" stroke="rgb(168,183,201)" stroke-width="1.0"/>
<path d="M450.25 127.40H452.05M450.25 155.30H452.05" stroke="rgb(150,164,180)" stroke-width="0.6" fill="none"/>
<path d="M450.25 143.40H452.05" stroke="rgb(140,152,168)" stroke-width="1.0" fill="none"/>
<line x1="452.15" y1="127.40" x2="452.15" y2="155.30" stroke="rgb(177,192,210)" stroke-width="1.0"/>
<path d="M452.25 127.40H454.05M452.25 155.30H454.05" stroke="rgb(150,164,180)" stroke-width="0.6" fill="none"/>
<path d="M452.25 143.40H454.05" stroke="rgb(140,152,168)" stroke-width="1.0" fill="none"/>
<line x1="454.15" y1="127.40" x2="454.15" y2="155.30" stroke="rgb(166,181,199)" stroke-width="1.0"/>
<path d="M454.25 127.40H456.05M454.25 155.30H456.05" stroke="rgb(150,164,180)" stroke-width="0.6" fill="none"/>
<path d="M454.25 143.40H456.05" stroke="rgb(140,152,168)" stroke-width="1.0" fill="none"/>
<line x1="456.15" y1="127.40" x2="456.15" y2="155.30" stroke="rgb(165,180,198)" stroke-width="1.0"/>
<path d="M456.25 127.40H458.05M456.25 155.30H458.05" stroke="rgb(150,164,180)" stroke-width="0.6" fill="none"/>
<path d="M456.25 143.40H458.05" stroke="rgb(140,152,168)" stroke-width="1.0" fill="none"/>
<line x1="458.15" y1="127.40" x2="458.15" y2="155.30" stroke="rgb(174,189,207)" stroke-width="1.0"/>
<path d="M458.25 127.40H460.05M458.25 155.30H460.05" stroke="rgb(150,164,180)" stroke-width="0.6" fill="none"/>
<path d="M458.25 143.40H460.05" stroke="rgb(140,152,168)" stroke-width="1.0" fill="none"/>
<line x1="460.15" y1="127.40" x2="460.15" y2="155.30" stroke="rgb(163,178,196)" stroke-width="1.0"/>
<path d="M460.25 127.40H462.05M460.25 155.30H462.05" stroke="rgb(150,164,180)" stroke-width="0.6" fill="none"/>
<path d="M460.25 143.40H462.05" stroke="rgb(140,152,168)" stroke-width="1.0" fill="none"/>
<line x1="462.15" y1="127.40" x2="462.15" y2="155.30" stroke="rgb(167,182,200)" stroke-width="1.0"/>
<path d="M462.25 127.40H464.04M462.25 155.30H464.04" stroke="rgb(150,164,180)" stroke-width="0.6" fill="none"/>
<path d="M462.25 143.40H464.04" stroke="rgb(140,152,168)" stroke-width="1.0" fill="none"/>
<line x1="464.14" y1="127.40" x2="464.14" y2="155.30" stroke="rgb(172,187,205)" stroke-width="1.0"/>
<path d="M464.24 127.40H466.04M464.24 155.30H466.04" stroke="rgb(150,164,180)" stroke-width="0.6" fill="none"/>
<path d="M464.24 143.40H466.04" stroke="rgb(140,152,168)" stroke-width="1.0" fill="none"/>
<line x1="466.14" y1="127.40" x2="466.14" y2="155.30" stroke="rgb(168,183,201)" stroke-width="1.0"/>
<path d="M466.24 127.40H468.04M466.24 155.30H468.04" stroke="rgb(150,164,180)" stroke-width="0.6" fill="none"/>
<path d="M466.24 143.40H468.04" stroke="rgb(140,152,168)" stroke-width="1.0" fill="none"/>
<line x1="468.14" y1="127.40" x2="468.14" y2="155.30" stroke="rgb(156,171,189)" stroke-width="1.0"/>
<path d="M468.24 127.40H470.04M468.24 155.30H470.04" stroke="rgb(150,164,180)" stroke-width="0.6" fill="none"/>
<path d="M468.24 143.40H470.04" stroke="rgb(140,152,168)" stroke-width="1.0" fill="none"/>
<line x1="470.14" y1="127.40" x2="470.14" y2="155.30" stroke="rgb(167,182,200)" stroke-width="1.0"/>
<path d="M470.24 127.40H472.04M470.24 155.30H472.04" stroke="rgb(150,164,180)" stroke-width="0.6" fill="none"/>
<path d="M470.24 143.40H472.04" stroke="rgb(140,152,168)" stroke-width="1.0" fill="none"/>
<line x1="472.14" y1="127.40" x2="472.14" y2="155.30" stroke="rgb(175,190,208)" stroke-width="1.0"/>
<path d="M472.24 127.40H474.04M472.24 155.30H474.04" stroke="rgb(150,164,180)" stroke-width="0.6" fill="none"/>
<path d="M472.24 143.40H474.04" stroke="rgb(140,152,168)" stroke-width="1.0" fill="none"/>
<line x1="474.14" y1="127.40" x2="474.14" y2="155.30" stroke="rgb(163,178,196)" stroke-width="1.0"/>
<path d="M474.24 127.40H476.04M474.24 155.30H476.04" stroke="rgb(150,164,180)" stroke-width="0.6" fill="none"/>
<path d="M474.24 143.40H476.04" stroke="rgb(140,152,168)" stroke-width="1.0" fill="none"/>
<line x1="476.14" y1="127.40" x2="476.14" y2="155.30" stroke="rgb(156,171,189)" stroke-width="1.0"/>
<path d="M476.24 127.40H478.04M476.24 155.30H478.04" stroke="rgb(150,164,180)" stroke-width="0.6" fill="none"/>
<path d="M476.24 143.40H478.04" stroke="rgb(140,152,168)" stroke-width="1.0" fill="none"/>
<line x1="478.14" y1="127.40" x2="478.14" y2="155.30" stroke="rgb(160,175,193)" stroke-width="1.0"/>
<path d="M478.23 127.40H480.03M478.23 155.30H480.03" stroke="rgb(150,164,180)" stroke-width="0.6" fill="none"/>
<path d="M478.23 143.40H480.03" stroke="rgb(140,152,168)" stroke-width="1.0" fill="none"/>
<line x1="480.13" y1="127.40" x2="480.13" y2="155.30" stroke="rgb(176,191,209)" stroke-width="1.0"/>
<path d="M480.23 127.40H482.03M480.23 155.30H482.03" stroke="rgb(150,164,180)" stroke-width="0.6" fill="none"/>
<path d="M480.23 143.40H482.03" stroke="rgb(140,152,168)" stroke-width="1.0" fill="none"/>
<line x1="482.13" y1="127.40" x2="482.13" y2="155.30" stroke="rgb(169,184,202)" stroke-width="1.0"/>
<path d="M482.23 127.40H484.03M482.23 155.30H484.03" stroke="rgb(150,164,180)" stroke-width="0.6" fill="none"/>
<path d="M482.23 143.40H484.03" stroke="rgb(140,152,168)" stroke-width="1.0" fill="none"/>
<line x1="484.13" y1="127.40" x2="484.13" y2="155.30" stroke="rgb(163,178,196)" stroke-width="1.0"/>
<path d="M484.23 127.40H486.03M484.23 155.30H486.03" stroke="rgb(150,164,180)" stroke-width="0.6" fill="none"/>
<path d="M484.23 143.40H486.03" stroke="rgb(140,152,168)" stroke-width="1.0" fill="none"/>
<line x1="486.13" y1="127.40" x2="486.13" y2="155.30" stroke="rgb(161,176,194)" stroke-width="1.0"/>
<path d="M486.23 127.40H488.03M486.23 155.30H488.03" stroke="rgb(150,164,180)" stroke-width="0.6" fill="none"/>
<path d="M486.23 143.40H488.03" stroke="rgb(140,152,168)" stroke-width="1.0" fill="none"/>
<line x1="488.13" y1="127.40" x2="488.13" y2="155.30" stroke="rgb(175,190,208)" stroke-width="1.0"/>
<path d="M488.23 127.40H490.03M488.23 155.30H490.03" stroke="rgb(150,164,180)" stroke-width="0.6" fill="none"/>
<path d="M488.23 143.40H490.03" stroke="rgb(140,152,168)" stroke-width="1.0" fill="none"/>
<line x1="490.13" y1="127.40" x2="490.13" y2="155.30" stroke="rgb(165,180,198)" stroke-width="1.0"/>
<path d="M490.23 127.40H492.03M490.23 155.30H492.03" stroke="rgb(150,164,180)" stroke-width="0.6" fill="none"/>
<path d="M490.23 143.40H492.03" stroke="rgb(140,152,168)" stroke-width="1.0" fill="none"/>
<line x1="492.13" y1="127.40" x2="492.13" y2="155.30" stroke="rgb(164,179,197)" stroke-width="1.0"/>
<path d="M492.23 127.40H494.02M492.23 155.30H494.02" stroke="rgb(150,164,180)" stroke-width="0.6" fill="none"/>
<path d="M492.23 143.40H494.02" stroke="rgb(140,152,168)" stroke-width="1.0" fill="none"/>
<line x1="494.13" y1="127.40" x2="494.13" y2="155.30" stroke="rgb(172,187,205)" stroke-width="1.0"/>
<path d="M494.22 127.40H496.02M494.22 155.30H496.02" stroke="rgb(150,164,180)" stroke-width="0.6" fill="none"/>
<path d="M494.22 143.40H496.02" stroke="rgb(140,152,168)" stroke-width="1.0" fill="none"/>
<line x1="496.12" y1="127.40" x2="496.12" y2="155.30" stroke="rgb(168,183,201)" stroke-width="1.0"/>
<path d="M496.22 127.40H498.02M496.22 155.30H498.02" stroke="rgb(150,164,180)" stroke-width="0.6" fill="none"/>
<path d="M496.22 143.40H498.02" stroke="rgb(140,152,168)" stroke-width="1.0" fill="none"/>
<line x1="498.12" y1="127.40" x2="498.12" y2="155.30" stroke="rgb(168,183,201)" stroke-width="1.0"/>
<path d="M498.22 127.40H500.02M498.22 155.30H500.02" stroke="rgb(150,164,180)" stroke-width="0.6" fill="none"/>
<path d="M498.22 143.40H500.02" stroke="rgb(140,152,168)" stroke-width="1.0" fill="none"/>
<line x1="500.12" y1="127.40" x2="500.12" y2="155.30" stroke="rgb(161,176,194)" stroke-width="1.0"/>
<path d="M500.22 127.40H502.02M500.22 155.30H502.02" stroke="rgb(150,164,180)" stroke-width="0.6" fill="none"/>
<path d="M500.22 143.40H502.02" stroke="rgb(140,152,168)" stroke-width="1.0" fill="none"/>
<line x1="502.12" y1="127.40" x2="502.12" y2="155.30" stroke="rgb(177,192,210)" stroke-width="1.0"/>
<path d="M502.22 127.40H504.02M502.22 155.30H504.02" stroke="rgb(150,164,180)" stroke-width="0.6" fill="none"/>
<path d="M502.22 143.40H504.02" stroke="rgb(140,152,168)" stroke-width="1.0" fill="none"/>
<line x1="504.12" y1="127.40" x2="504.12" y2="155.30" stroke="rgb(156,171,189)" stroke-width="1.0"/>
<path d="M504.22 127.40H506.02M504.22 155.30H506.02" stroke="rgb(150,164,180)" stroke-width="0.6" fill="none"/>
<path d="M504.22 143.40H506.02" stroke="rgb(140,152,168)" stroke-width="1.0" fill="none"/>
<line x1="506.12" y1="127.40" x2="506.12" y2="155.30" stroke="rgb(165,180,198)" stroke-width="1.0"/>
<path d="M506.22 127.40H508.02M506.22 155.30H508.02" stroke="rgb(150,164,180)" stroke-width="0.6" fill="none"/>
<path d="M506.22 143.40H508.02" stroke="rgb(140,152,168)" stroke-width="1.0" fill="none"/>
<line x1="508.12" y1="127.40" x2="508.12" y2="155.30" stroke="rgb(165,180,198)" stroke-width="1.0"/>
<path d="M508.22 127.40H510.01M508.22 155.30H510.01" stroke="rgb(150,164,180)" stroke-width="0.6" fill="none"/>
<path d="M508.22 143.40H510.01" stroke="rgb(140,152,168)" stroke-width="1.0" fill="none"/>
<line x1="510.11" y1="127.40" x2="510.11" y2="155.30" stroke="rgb(172,187,205)" stroke-width="1.0"/>
<path d="M510.21 127.40H512.01M510.21 155.30H512.01" stroke="rgb(150,164,180)" stroke-width="0.6" fill="none"/>
<path d="M510.21 143.40H512.01" stroke="rgb(140,152,168)" stroke-width="1.0" fill="none"/>
<line x1="512.11" y1="127.40" x2="512.11" y2="155.30" stroke="rgb(160,175,193)" stroke-width="1.0"/>
<path d="M512.21 127.40H514.01M512.21 155.30H514.01" stroke="rgb(150,164,180)" stroke-width="0.6" fill="none"/>
<path d="M512.21 143.40H514.01" stroke="rgb(140,152,168)" stroke-width="1.0" fill="none"/>
<line x1="514.11" y1="127.40" x2="514.11" y2="155.30" stroke="rgb(166,181,199)" stroke-width="1.0"/>
<path d="M514.21 127.40H516.01M514.21 155.30H516.01" stroke="rgb(150,164,180)" stroke-width="0.6" fill="none"/>
<path d="M514.21 143.40H516.01" stroke="rgb(140,152,168)" stroke-width="1.0" fill="none"/>
<line x1="516.11" y1="127.40" x2="516.11" y2="155.30" stroke="rgb(172,187,205)" stroke-width="1.0"/>
<path d="M516.21 127.40H518.01M516.21 155.30H518.01" stroke="rgb(150,164,180)" stroke-width="0.6" fill="none"/>
<path d="M516.21 143.40H518.01" stroke="rgb(140,152,168)" stroke-width="1.0" fill="none"/>
<line x1="518.11" y1="127.40" x2="518.11" y2="155.30" stroke="rgb(159,174,192)" stroke-width="1.0"/>
<path d="M518.21 127.40H520.01M518.21 155.30H520.01" stroke="rgb(150,164,180)" stroke-width="0.6" fill="none"/>
<path d="M518.21 143.40H520.01" stroke="rgb(140,152,168)" stroke-width="1.0" fill="none"/>
<line x1="520.11" y1="127.40" x2="520.11" y2="155.30" stroke="rgb(178,193,211)" stroke-width="1.0"/>
<path d="M520.21 127.40H522.01M520.21 155.30H522.01" stroke="rgb(150,164,180)" stroke-width="0.6" fill="none"/>
<path d="M520.21 143.40H522.01" stroke="rgb(140,152,168)" stroke-width="1.0" fill="none"/>
<line x1="522.11" y1="127.40" x2="522.11" y2="155.30" stroke="rgb(163,178,196)" stroke-width="1.0"/>
<path d="M522.21 127.40H524.00M522.21 155.30H524.00" stroke="rgb(150,164,180)" stroke-width="0.6" fill="none"/>
<path d="M522.21 143.40H524.00" stroke="rgb(140,152,168)" stroke-width="1.0" fill="none"/>
<line x1="524.11" y1="127.40" x2="524.11" y2="155.30" stroke="rgb(161,176,194)" stroke-width="1.0"/>
<path d="M524.20 127.40H526.00M524.20 155.30H526.00" stroke="rgb(150,164,180)" stroke-width="0.6" fill="none"/>
<path d="M524.20 143.40H526.00" stroke="rgb(140,152,168)" stroke-width="1.0" fill="none"/>
<line x1="526.10" y1="127.40" x2="526.10" y2="155.30" stroke="rgb(171,186,204)" stroke-width="1.0"/>
<path d="M526.20 127.40H528.00M526.20 155.30H528.00" stroke="rgb(150,164,180)" stroke-width="0.6" fill="none"/>
<path d="M526.20 143.40H528.00" stroke="rgb(140,152,168)" stroke-width="1.0" fill="none"/>
<line x1="528.10" y1="127.40" x2="528.10" y2="155.30" stroke="rgb(172,187,205)" stroke-width="1.0"/>
<path d="M528.20 127.40H530.00M528.20 155.30H530.00" stroke="rgb(150,164,180)" stroke-width="0.6" fill="none"/>
<path d="M528.20 143.40H530.00" stroke="rgb(140,152,168)" stroke-width="1.0" fill="none"/>
<line x1="530.10" y1="127.40" x2="530.10" y2="155.30" stroke="rgb(154,169,187)" stroke-width="1.0"/>
<path d="M530.20 127.40H532.00M530.20 155.30H532.00" stroke="rgb(150,164,180)" stroke-width="0.6" fill="none"/>
<path d="M530.20 143.40H532.00" stroke="rgb(140,152,168)" stroke-width="1.0" fill="none"/>
<line x1="532.10" y1="127.40" x2="532.10" y2="155.30" stroke="rgb(156,171,189)" stroke-width="1.0"/>
<path d="M532.20 127.40H534.00M532.20 155.30H534.00" stroke="rgb(150,164,180)" stroke-width="0.6" fill="none"/>
<path d="M532.20 143.40H534.00" stroke="rgb(140,152,168)" stroke-width="1.0" fill="none"/>
<line x1="534.10" y1="127.40" x2="534.10" y2="155.30" stroke="rgb(171,186,204)" stroke-width="1.0"/>
<path d="M534.20 127.40H536.00M534.20 155.30H536.00" stroke="rgb(150,164,180)" stroke-width="0.6" fill="none"/>
<path d="M534.20 143.40H536.00" stroke="rgb(140,152,168)" stroke-width="1.0" fill="none"/>
<line x1="536.10" y1="127.40" x2="536.10" y2="155.30" stroke="rgb(164,179,197)" stroke-width="1.0"/>
<path d="M536.20 127.40H538.00M536.20 155.30H538.00" stroke="rgb(150,164,180)" stroke-width="0.6" fill="none"/>
<path d="M536.20 143.40H538.00" stroke="rgb(140,152,168)" stroke-width="1.0" fill="none"/>
<line x1="538.10" y1="127.40" x2="538.10" y2="155.30" stroke="rgb(162,177,195)" stroke-width="1.0"/>
<path d="M538.20 127.40H539.99M538.20 155.30H539.99" stroke="rgb(150,164,180)" stroke-width="0.6" fill="none"/>
<path d="M538.20 143.40H539.99" stroke="rgb(140,152,168)" stroke-width="1.0" fill="none"/>
<line x1="540.09" y1="127.40" x2="540.09" y2="155.30" stroke="rgb(164,179,197)" stroke-width="1.0"/>
<path d="M540.19 127.40H541.99M540.19 155.30H541.99" stroke="rgb(150,164,180)" stroke-width="0.6" fill="none"/>
<path d="M540.19 143.40H541.99" stroke="rgb(140,152,168)" stroke-width="1.0" fill="none"/>
<line x1="542.09" y1="127.40" x2="542.09" y2="155.30" stroke="rgb(154,169,187)" stroke-width="1.0"/>
<path d="M542.19 127.40H543.99M542.19 155.30H543.99" stroke="rgb(150,164,180)" stroke-width="0.6" fill="none"/>
<path d="M542.19 143.40H543.99" stroke="rgb(140,152,168)" stroke-width="1.0" fill="none"/>
<line x1="544.09" y1="127.40" x2="544.09" y2="155.30" stroke="rgb(157,172,190)" stroke-width="1.0"/>
<path d="M544.19 127.40H545.99M544.19 155.30H545.99" stroke="rgb(150,164,180)" stroke-width="0.6" fill="none"/>
<path d="M544.19 143.40H545.99" stroke="rgb(140,152,168)" stroke-width="1.0" fill="none"/>
<line x1="546.09" y1="127.40" x2="546.09" y2="155.30" stroke="rgb(161,176,194)" stroke-width="1.0"/>
<path d="M546.19 127.40H547.99M546.19 155.30H547.99" stroke="rgb(150,164,180)" stroke-width="0.6" fill="none"/>
<path d="M546.19 143.40H547.99" stroke="rgb(140,152,168)" stroke-width="1.0" fill="none"/>
<line x1="548.09" y1="127.40" x2="548.09" y2="155.30" stroke="rgb(169,184,202)" stroke-width="1.0"/>
<path d="M548.19 127.40H549.99M548.19 155.30H549.99" stroke="rgb(150,164,180)" stroke-width="0.6" fill="none"/>
<path d="M548.19 143.40H549.99" stroke="rgb(140,152,168)" stroke-width="1.0" fill="none"/>
<line x1="550.09" y1="127.40" x2="550.09" y2="155.30" stroke="rgb(178,193,211)" stroke-width="1.0"/>
<path d="M550.19 127.40H551.99M550.19 155.30H551.99" stroke="rgb(150,164,180)" stroke-width="0.6" fill="none"/>
<path d="M550.19 143.40H551.99" stroke="rgb(140,152,168)" stroke-width="1.0" fill="none"/>
<line x1="552.09" y1="127.40" x2="552.09" y2="155.30" stroke="rgb(166,181,199)" stroke-width="1.0"/>
<path d="M552.19 127.40H553.98M552.19 155.30H553.98" stroke="rgb(150,164,180)" stroke-width="0.6" fill="none"/>
<path d="M552.19 143.40H553.98" stroke="rgb(140,152,168)" stroke-width="1.0" fill="none"/>
<line x1="554.09" y1="127.40" x2="554.09" y2="155.30" stroke="rgb(164,179,197)" stroke-width="1.0"/>
<path d="M554.18 127.40H555.98M554.18 155.30H555.98" stroke="rgb(150,164,180)" stroke-width="0.6" fill="none"/>
<path d="M554.18 143.40H555.98" stroke="rgb(140,152,168)" stroke-width="1.0" fill="none"/>
<line x1="556.08" y1="127.40" x2="556.08" y2="155.30" stroke="rgb(175,190,208)" stroke-width="1.0"/>
<path d="M556.18 127.40H557.98M556.18 155.30H557.98" stroke="rgb(150,164,180)" stroke-width="0.6" fill="none"/>
<path d="M556.18 143.40H557.98" stroke="rgb(140,152,168)" stroke-width="1.0" fill="none"/>
<line x1="558.08" y1="127.40" x2="558.08" y2="155.30" stroke="rgb(169,184,202)" stroke-width="1.0"/>
<path d="M558.18 127.40H559.98M558.18 155.30H559.98" stroke="rgb(150,164,180)" stroke-width="0.6" fill="none"/>
<path d="M558.18 143.40H559.98" stroke="rgb(140,152,168)" stroke-width="1.0" fill="none"/>
<line x1="560.08" y1="127.40" x2="560.08" y2="155.30" stroke="rgb(171,186,204)" stroke-width="1.0"/>
<path d="M560.18 127.40H561.98M560.18 155.30H561.98" stroke="rgb(150,164,180)" stroke-width="0.6" fill="none"/>
<path d="M560.18 143.40H561.98" stroke="rgb(140,152,168)" stroke-width="1.0" fill="none"/>
<line x1="562.08" y1="127.40" x2="562.08" y2="155.30" stroke="rgb(176,191,209)" stroke-width="1.0"/>
<path d="M562.18 127.40H563.98M562.18 155.30H563.98" stroke="rgb(150,164,180)" stroke-width="0.6" fill="none"/>
<path d="M562.18 143.40H563.98" stroke="rgb(140,152,168)" stroke-width="1.0" fill="none"/>
<line x1="564.08" y1="127.40" x2="564.08" y2="155.30" stroke="rgb(167,182,200)" stroke-width="1.0"/>
<path d="M564.18 127.40H565.98M564.18 155.30H565.98" stroke="rgb(150,164,180)" stroke-width="0.6" fill="none"/>
<path d="M564.18 143.40H565.98" stroke="rgb(140,152,168)" stroke-width="1.0" fill="none"/>
<line x1="566.08" y1="127.40" x2="566.08" y2="155.30" stroke="rgb(154,169,187)" stroke-width="1.0"/>
<path d="M566.18 127.40H567.98M566.18 155.30H567.98" stroke="rgb(150,164,180)" stroke-width="0.6" fill="none"/>
<path d="M566.18 143.40H567.98" stroke="rgb(140,152,168)" stroke-width="1.0" fill="none"/>
<line x1="568.08" y1="127.40" x2="568.08" y2="155.30" stroke="rgb(156,171,189)" stroke-width="1.0"/>
<path d="M568.18 127.40H569.97M568.18 155.30H569.97" stroke="rgb(150,164,180)" stroke-width="0.6" fill="none"/>
<path d="M568.18 143.40H569.97" stroke="rgb(140,152,168)" stroke-width="1.0" fill="none"/>
<line x1="570.07" y1="127.40" x2="570.07" y2="155.30" stroke="rgb(171,186,204)" stroke-width="1.0"/>
<path d="M570.17 127.40H571.97M570.17 155.30H571.97" stroke="rgb(150,164,180)" stroke-width="0.6" fill="none"/>
<path d="M570.17 143.40H571.97" stroke="rgb(140,152,168)" stroke-width="1.0" fill="none"/>
<line x1="572.07" y1="127.40" x2="572.07" y2="155.30" stroke="rgb(170,185,203)" stroke-width="1.0"/>
<path d="M572.17 127.40H573.97M572.17 155.30H573.97" stroke="rgb(150,164,180)" stroke-width="0.6" fill="none"/>
<path d="M572.17 143.40H573.97" stroke="rgb(140,152,168)" stroke-width="1.0" fill="none"/>
<line x1="574.07" y1="127.40" x2="574.07" y2="155.30" stroke="rgb(176,191,209)" stroke-width="1.0"/>
<path d="M574.17 127.40H575.97M574.17 155.30H575.97" stroke="rgb(150,164,180)" stroke-width="0.6" fill="none"/>
<path d="M574.17 143.40H575.97" stroke="rgb(140,152,168)" stroke-width="1.0" fill="none"/>
<line x1="576.07" y1="127.40" x2="576.07" y2="155.30" stroke="rgb(157,172,190)" stroke-width="1.0"/>
<path d="M576.17 127.40H577.97M576.17 155.30H577.97" stroke="rgb(150,164,180)" stroke-width="0.6" fill="none"/>
<path d="M576.17 143.40H577.97" stroke="rgb(140,152,168)" stroke-width="1.0" fill="none"/>
<line x1="578.07" y1="127.40" x2="578.07" y2="155.30" stroke="rgb(167,182,200)" stroke-width="1.0"/>
<path d="M578.17 127.40H579.97M578.17 155.30H579.97" stroke="rgb(170,158,142)" stroke-width="0.6" fill="none"/>
<path d="M578.17 143.40H579.97" stroke="rgb(152,142,130)" stroke-width="1.0" fill="none"/>
<line x1="580.07" y1="127.40" x2="580.07" y2="155.30" stroke="rgb(183,174,161)" stroke-width="1.0"/>
<path d="M580.17 127.40H581.97M580.17 155.30H581.97" stroke="rgb(170,158,142)" stroke-width="0.6" fill="none"/>
<path d="M580.17 143.40H581.97" stroke="rgb(152,142,130)" stroke-width="1.0" fill="none"/>
<line x1="582.07" y1="127.40" x2="582.07" y2="155.30" stroke="rgb(196,187,174)" stroke-width="1.0"/>
<path d="M582.17 127.40H583.97M582.17 155.30H583.97" stroke="rgb(170,158,142)" stroke-width="0.6" fill="none"/>
<path d="M582.17 143.40H583.97" stroke="rgb(152,142,130)" stroke-width="1.0" fill="none"/>
<line x1="584.07" y1="127.40" x2="584.07" y2="155.30" stroke="rgb(197,188,175)" stroke-width="1.0"/>
<path d="M584.16 127.40H585.96M584.16 155.30H585.96" stroke="rgb(170,158,142)" stroke-width="0.6" fill="none"/>
<path d="M584.16 143.40H585.96" stroke="rgb(152,142,130)" stroke-width="1.0" fill="none"/>
<line x1="586.06" y1="127.40" x2="586.06" y2="155.30" stroke="rgb(186,177,164)" stroke-width="1.0"/>
<path d="M586.16 127.40H587.96M586.16 155.30H587.96" stroke="rgb(170,158,142)" stroke-width="0.6" fill="none"/>
<path d="M586.16 143.40H587.96" stroke="rgb(152,142,130)" stroke-width="1.0" fill="none"/>
<line x1="588.06" y1="127.40" x2="588.06" y2="155.30" stroke="rgb(188,179,166)" stroke-width="1.0"/>
<path d="M588.16 127.40H589.96M588.16 155.30H589.96" stroke="rgb(170,158,142)" stroke-width="0.6" fill="none"/>
<path d="M588.16 143.40H589.96" stroke="rgb(152,142,130)" stroke-width="1.0" fill="none"/>
<line x1="590.06" y1="127.40" x2="590.06" y2="155.30" stroke="rgb(192,183,170)" stroke-width="1.0"/>
<path d="M590.16 127.40H591.96M590.16 155.30H591.96" stroke="rgb(170,158,142)" stroke-width="0.6" fill="none"/>
<path d="M590.16 143.40H591.96" stroke="rgb(152,142,130)" stroke-width="1.0" fill="none"/>
<line x1="592.06" y1="127.40" x2="592.06" y2="155.30" stroke="rgb(184,175,162)" stroke-width="1.0"/>
<path d="M592.16 127.40H593.96M592.16 155.30H593.96" stroke="rgb(170,158,142)" stroke-width="0.6" fill="none"/>
<path d="M592.16 143.40H593.96" stroke="rgb(152,142,130)" stroke-width="1.0" fill="none"/>
<line x1="594.06" y1="127.40" x2="594.06" y2="155.30" stroke="rgb(191,182,169)" stroke-width="1.0"/>
<path d="M594.16 127.40H595.96M594.16 155.30H595.96" stroke="rgb(170,158,142)" stroke-width="0.6" fill="none"/>
<path d="M594.16 143.40H595.96" stroke="rgb(152,142,130)" stroke-width="1.0" fill="none"/>
<line x1="596.06" y1="127.40" x2="596.06" y2="155.30" stroke="rgb(199,190,177)" stroke-width="1.0"/>
<path d="M596.16 127.40H597.96M596.16 155.30H597.96" stroke="rgb(170,158,142)" stroke-width="0.6" fill="none"/>
<path d="M596.16 143.40H597.96" stroke="rgb(152,142,130)" stroke-width="1.0" fill="none"/>
<line x1="598.06" y1="127.40" x2="598.06" y2="155.30" stroke="rgb(185,176,163)" stroke-width="1.0"/>
<path d="M598.16 127.40H599.95M598.16 155.30H599.95" stroke="rgb(170,158,142)" stroke-width="0.6" fill="none"/>
<path d="M598.16 143.40H599.95" stroke="rgb(152,142,130)" stroke-width="1.0" fill="none"/>
<line x1="600.06" y1="127.40" x2="600.06" y2="155.30" stroke="rgb(200,191,178)" stroke-width="1.0"/>
<path d="M600.15 127.40H601.95M600.15 155.30H601.95" stroke="rgb(170,158,142)" stroke-width="0.6" fill="none"/>
<path d="M600.15 143.40H601.95" stroke="rgb(152,142,130)" stroke-width="1.0" fill="none"/>
<line x1="602.05" y1="127.40" x2="602.05" y2="155.30" stroke="rgb(177,168,155)" stroke-width="1.0"/>
<path d="M602.15 127.40H603.95M602.15 155.30H603.95" stroke="rgb(170,158,142)" stroke-width="0.6" fill="none"/>
<path d="M602.15 143.40H603.95" stroke="rgb(152,142,130)" stroke-width="1.0" fill="none"/>
<line x1="604.05" y1="127.40" x2="604.05" y2="155.30" stroke="rgb(176,167,154)" stroke-width="1.0"/>
<path d="M604.15 127.40H605.95M604.15 155.30H605.95" stroke="rgb(170,158,142)" stroke-width="0.6" fill="none"/>
<path d="M604.15 143.40H605.95" stroke="rgb(152,142,130)" stroke-width="1.0" fill="none"/>
<line x1="606.05" y1="127.40" x2="606.05" y2="155.30" stroke="rgb(177,168,155)" stroke-width="1.0"/>
<path d="M606.15 127.40H607.95M606.15 155.30H607.95" stroke="rgb(170,158,142)" stroke-width="0.6" fill="none"/>
<path d="M606.15 143.40H607.95" stroke="rgb(152,142,130)" stroke-width="1.0" fill="none"/>
<line x1="608.05" y1="127.40" x2="608.05" y2="155.30" stroke="rgb(179,170,157)" stroke-width="1.0"/>
<path d="M608.15 127.40H609.95M608.15 155.30H609.95" stroke="rgb(170,158,142)" stroke-width="0.6" fill="none"/>
<path d="M608.15 143.40H609.95" stroke="rgb(152,142,130)" stroke-width="1.0" fill="none"/>
<line x1="610.05" y1="127.40" x2="610.05" y2="155.30" stroke="rgb(181,172,159)" stroke-width="1.0"/>
<path d="M610.15 127.40H611.95M610.15 155.30H611.95" stroke="rgb(170,158,142)" stroke-width="0.6" fill="none"/>
<path d="M610.15 143.40H611.95" stroke="rgb(152,142,130)" stroke-width="1.0" fill="none"/>
<line x1="612.05" y1="127.40" x2="612.05" y2="155.30" stroke="rgb(182,173,160)" stroke-width="1.0"/>
<path d="M612.15 127.40H613.95M612.15 155.30H613.95" stroke="rgb(170,158,142)" stroke-width="0.6" fill="none"/>
<path d="M612.15 143.40H613.95" stroke="rgb(152,142,130)" stroke-width="1.0" fill="none"/>
<line x1="614.05" y1="127.40" x2="614.05" y2="155.30" stroke="rgb(195,186,173)" stroke-width="1.0"/>
<path d="M614.15 127.40H615.94M614.15 155.30H615.94" stroke="rgb(170,158,142)" stroke-width="0.6" fill="none"/>
<path d="M614.15 143.40H615.94" stroke="rgb(152,142,130)" stroke-width="1.0" fill="none"/>
<line x1="616.04" y1="127.40" x2="616.04" y2="155.30" stroke="rgb(195,186,173)" stroke-width="1.0"/>
<path d="M616.14 127.40H617.94M616.14 155.30H617.94" stroke="rgb(170,158,142)" stroke-width="0.6" fill="none"/>
<path d="M616.14 143.40H617.94" stroke="rgb(152,142,130)" stroke-width="1.0" fill="none"/>
<line x1="618.04" y1="127.40" x2="618.04" y2="155.30" stroke="rgb(183,174,161)" stroke-width="1.0"/>
<path d="M618.14 127.40H619.94M618.14 155.30H619.94" stroke="rgb(170,158,142)" stroke-width="0.6" fill="none"/>
<path d="M618.14 143.40H619.94" stroke="rgb(152,142,130)" stroke-width="1.0" fill="none"/>
<line x1="620.04" y1="127.40" x2="620.04" y2="155.30" stroke="rgb(181,172,159)" stroke-width="1.0"/>
<path d="M620.14 127.40H621.94M620.14 155.30H621.94" stroke="rgb(170,158,142)" stroke-width="0.6" fill="none"/>
<path d="M620.14 143.40H621.94" stroke="rgb(152,142,130)" stroke-width="1.0" fill="none"/>
<line x1="622.04" y1="127.40" x2="622.04" y2="155.30" stroke="rgb(188,179,166)" stroke-width="1.0"/>
<path d="M622.14 127.40H623.94M622.14 155.30H623.94" stroke="rgb(170,158,142)" stroke-width="0.6" fill="none"/>
<path d="M622.14 143.40H623.94" stroke="rgb(152,142,130)" stroke-width="1.0" fill="none"/>
<line x1="624.04" y1="127.40" x2="624.04" y2="155.30" stroke="rgb(200,191,178)" stroke-width="1.0"/>
<path d="M624.14 127.40H625.94M624.14 155.30H625.94" stroke="rgb(170,158,142)" stroke-width="0.6" fill="none"/>
<path d="M624.14 143.40H625.94" stroke="rgb(152,142,130)" stroke-width="1.0" fill="none"/>
<line x1="626.04" y1="127.40" x2="626.04" y2="155.30" stroke="rgb(196,187,174)" stroke-width="1.0"/>
<path d="M626.14 127.40H627.94M626.14 155.30H627.94" stroke="rgb(170,158,142)" stroke-width="0.6" fill="none"/>
<path d="M626.14 143.40H627.94" stroke="rgb(152,142,130)" stroke-width="1.0" fill="none"/>
<line x1="628.04" y1="127.40" x2="628.04" y2="155.30" stroke="rgb(184,175,162)" stroke-width="1.0"/>
<path d="M628.14 127.40H629.93M628.14 155.30H629.93" stroke="rgb(170,158,142)" stroke-width="0.6" fill="none"/>
<path d="M628.14 143.40H629.93" stroke="rgb(152,142,130)" stroke-width="1.0" fill="none"/>
<line x1="630.04" y1="127.40" x2="630.04" y2="155.30" stroke="rgb(188,179,166)" stroke-width="1.0"/>
<path d="M630.13 127.40H631.93M630.13 155.30H631.93" stroke="rgb(170,158,142)" stroke-width="0.6" fill="none"/>
<path d="M630.13 143.40H631.93" stroke="rgb(152,142,130)" stroke-width="1.0" fill="none"/>
<line x1="632.03" y1="127.40" x2="632.03" y2="155.30" stroke="rgb(197,188,175)" stroke-width="1.0"/>
<path d="M632.13 127.40H633.93M632.13 155.30H633.93" stroke="rgb(170,158,142)" stroke-width="0.6" fill="none"/>
<path d="M632.13 143.40H633.93" stroke="rgb(152,142,130)" stroke-width="1.0" fill="none"/>
<line x1="634.03" y1="127.40" x2="634.03" y2="155.30" stroke="rgb(191,182,169)" stroke-width="1.0"/>
<path d="M634.13 127.40H635.93M634.13 155.30H635.93" stroke="rgb(170,158,142)" stroke-width="0.6" fill="none"/>
<path d="M634.13 143.40H635.93" stroke="rgb(152,142,130)" stroke-width="1.0" fill="none"/>
<line x1="636.03" y1="127.40" x2="636.03" y2="155.30" stroke="rgb(188,179,166)" stroke-width="1.0"/>
<path d="M636.13 127.40H637.93M636.13 155.30H637.93" stroke="rgb(170,158,142)" stroke-width="0.6" fill="none"/>
<path d="M636.13 143.40H637.93" stroke="rgb(152,142,130)" stroke-width="1.0" fill="none"/>
<line x1="638.03" y1="127.40" x2="638.03" y2="155.30" stroke="rgb(182,173,160)" stroke-width="1.0"/>
<path d="M638.13 127.40H639.93M638.13 155.30H639.93" stroke="rgb(170,158,142)" stroke-width="0.6" fill="none"/>
<path d="M638.13 143.40H639.93" stroke="rgb(152,142,130)" stroke-width="1.0" fill="none"/>
<line x1="640.03" y1="127.40" x2="640.03" y2="155.30" stroke="rgb(188,179,166)" stroke-width="1.0"/>
<path d="M640.13 127.40H641.93M640.13 155.30H641.93" stroke="rgb(170,158,142)" stroke-width="0.6" fill="none"/>
<path d="M640.13 143.40H641.93" stroke="rgb(152,142,130)" stroke-width="1.0" fill="none"/>
<line x1="642.03" y1="127.40" x2="642.03" y2="155.30" stroke="rgb(177,168,155)" stroke-width="1.0"/>
<path d="M642.13 127.40H643.93M642.13 155.30H643.93" stroke="rgb(170,158,142)" stroke-width="0.6" fill="none"/>
<path d="M642.13 143.40H643.93" stroke="rgb(152,142,130)" stroke-width="1.0" fill="none"/>
<line x1="644.03" y1="127.40" x2="644.03" y2="155.30" stroke="rgb(176,167,154)" stroke-width="1.0"/>
<path d="M644.13 127.40H645.92M644.13 155.30H645.92" stroke="rgb(170,158,142)" stroke-width="0.6" fill="none"/>
<path d="M644.13 143.40H645.92" stroke="rgb(152,142,130)" stroke-width="1.0" fill="none"/>
<line x1="646.02" y1="127.40" x2="646.02" y2="155.30" stroke="rgb(187,178,165)" stroke-width="1.0"/>
<path d="M646.12 127.40H647.92M646.12 155.30H647.92" stroke="rgb(170,158,142)" stroke-width="0.6" fill="none"/>
<path d="M646.12 143.40H647.92" stroke="rgb(152,142,130)" stroke-width="1.0" fill="none"/>
<line x1="648.02" y1="127.40" x2="648.02" y2="155.30" stroke="rgb(183,174,161)" stroke-width="1.0"/>
<path d="M648.12 127.40H649.92M648.12 155.30H649.92" stroke="rgb(170,158,142)" stroke-width="0.6" fill="none"/>
<path d="M648.12 143.40H649.92" stroke="rgb(152,142,130)" stroke-width="1.0" fill="none"/>
<line x1="650.02" y1="127.40" x2="650.02" y2="155.30" stroke="rgb(195,186,173)" stroke-width="1.0"/>
<path d="M650.12 127.40H651.92M650.12 155.30H651.92" stroke="rgb(170,158,142)" stroke-width="0.6" fill="none"/>
<path d="M650.12 143.40H651.92" stroke="rgb(152,142,130)" stroke-width="1.0" fill="none"/>
<line x1="652.02" y1="127.40" x2="652.02" y2="155.30" stroke="rgb(189,180,167)" stroke-width="1.0"/>
<path d="M652.12 127.40H653.92M652.12 155.30H653.92" stroke="rgb(170,158,142)" stroke-width="0.6" fill="none"/>
<path d="M652.12 143.40H653.92" stroke="rgb(152,142,130)" stroke-width="1.0" fill="none"/>
<line x1="654.02" y1="127.40" x2="654.02" y2="155.30" stroke="rgb(200,191,178)" stroke-width="1.0"/>
<path d="M654.12 127.40H655.92M654.12 155.30H655.92" stroke="rgb(170,158,142)" stroke-width="0.6" fill="none"/>
<path d="M654.12 143.40H655.92" stroke="rgb(152,142,130)" stroke-width="1.0" fill="none"/>
<line x1="656.02" y1="127.40" x2="656.02" y2="155.30" stroke="rgb(180,171,158)" stroke-width="1.0"/>
<path d="M656.12 127.40H657.92M656.12 155.30H657.92" stroke="rgb(170,158,142)" stroke-width="0.6" fill="none"/>
<path d="M656.12 143.40H657.92" stroke="rgb(152,142,130)" stroke-width="1.0" fill="none"/>
<line x1="658.02" y1="127.40" x2="658.02" y2="155.30" stroke="rgb(192,183,170)" stroke-width="1.0"/>
<path d="M658.12 127.40H659.91M658.12 155.30H659.91" stroke="rgb(170,158,142)" stroke-width="0.6" fill="none"/>
<path d="M658.12 143.40H659.91" stroke="rgb(152,142,130)" stroke-width="1.0" fill="none"/>
<line x1="660.02" y1="127.40" x2="660.02" y2="155.30" stroke="rgb(196,187,174)" stroke-width="1.0"/>
<path d="M660.11 127.40H661.91M660.11 155.30H661.91" stroke="rgb(170,158,142)" stroke-width="0.6" fill="none"/>
<path d="M660.11 143.40H661.91" stroke="rgb(152,142,130)" stroke-width="1.0" fill="none"/>
<line x1="662.01" y1="127.40" x2="662.01" y2="155.30" stroke="rgb(192,183,170)" stroke-width="1.0"/>
<path d="M662.11 127.40H663.91M662.11 155.30H663.91" stroke="rgb(170,158,142)" stroke-width="0.6" fill="none"/>
<path d="M662.11 143.40H663.91" stroke="rgb(152,142,130)" stroke-width="1.0" fill="none"/>
<line x1="664.01" y1="127.40" x2="664.01" y2="155.30" stroke="rgb(180,171,158)" stroke-width="1.0"/>
<path d="M664.11 127.40H665.91M664.11 155.30H665.91" stroke="rgb(170,158,142)" stroke-width="0.6" fill="none"/>
<path d="M664.11 143.40H665.91" stroke="rgb(152,142,130)" stroke-width="1.0" fill="none"/>
<line x1="666.01" y1="127.40" x2="666.01" y2="155.30" stroke="rgb(176,167,154)" stroke-width="1.0"/>
<path d="M666.11 127.40H667.91M666.11 155.30H667.91" stroke="rgb(170,158,142)" stroke-width="0.6" fill="none"/>
<path d="M666.11 143.40H667.91" stroke="rgb(152,142,130)" stroke-width="1.0" fill="none"/>
<line x1="668.01" y1="127.40" x2="668.01" y2="155.30" stroke="rgb(180,171,158)" stroke-width="1.0"/>
<path d="M668.11 127.40H669.91M668.11 155.30H669.91" stroke="rgb(170,158,142)" stroke-width="0.6" fill="none"/>
<path d="M668.11 143.40H669.91" stroke="rgb(152,142,130)" stroke-width="1.0" fill="none"/>
<line x1="670.01" y1="127.40" x2="670.01" y2="155.30" stroke="rgb(178,169,156)" stroke-width="1.0"/>
<path d="M670.11 127.40H671.91M670.11 155.30H671.91" stroke="rgb(170,158,142)" stroke-width="0.6" fill="none"/>
<path d="M670.11 143.40H671.91" stroke="rgb(152,142,130)" stroke-width="1.0" fill="none"/>
<line x1="672.01" y1="127.40" x2="672.01" y2="155.30" stroke="rgb(184,175,162)" stroke-width="1.0"/>
<path d="M672.11 127.40H673.91M672.11 155.30H673.91" stroke="rgb(170,158,142)" stroke-width="0.6" fill="none"/>
<path d="M672.11 143.40H673.91" stroke="rgb(152,142,130)" stroke-width="1.0" fill="none"/>
<line x1="674.01" y1="127.40" x2="674.01" y2="155.30" stroke="rgb(191,182,169)" stroke-width="1.0"/>
<path d="M674.11 127.40H675.90M674.11 155.30H675.90" stroke="rgb(170,158,142)" stroke-width="0.6" fill="none"/>
<path d="M674.11 143.40H675.90" stroke="rgb(152,142,130)" stroke-width="1.0" fill="none"/>
<line x1="676.00" y1="127.40" x2="676.00" y2="155.30" stroke="rgb(178,169,156)" stroke-width="1.0"/>
<path d="M676.10 127.40H677.90M676.10 155.30H677.90" stroke="rgb(170,158,142)" stroke-width="0.6" fill="none"/>
<path d="M676.10 143.40H677.90" stroke="rgb(152,142,130)" stroke-width="1.0" fill="none"/>
<line x1="678.00" y1="127.40" x2="678.00" y2="155.30" stroke="rgb(185,176,163)" stroke-width="1.0"/>
<path d="M678.10 127.40H679.90M678.10 155.30H679.90" stroke="rgb(170,158,142)" stroke-width="0.6" fill="none"/>
<path d="M678.10 143.40H679.90" stroke="rgb(152,142,130)" stroke-width="1.0" fill="none"/>
<line x1="680.00" y1="127.40" x2="680.00" y2="155.30" stroke="rgb(182,173,160)" stroke-width="1.0"/>
<path d="M680.10 127.40H681.90M680.10 155.30H681.90" stroke="rgb(170,158,142)" stroke-width="0.6" fill="none"/>
<path d="M680.10 143.40H681.90" stroke="rgb(152,142,130)" stroke-width="1.0" fill="none"/>
<line x1="682.00" y1="127.40" x2="682.00" y2="155.30" stroke="rgb(182,173,160)" stroke-width="1.0"/>
<rect x="380.00" y="50.30" width="302.20" height="142.00" fill="none" stroke="#1a1a1a" stroke-width="1.4"/>
<line x1="375.90" y1="98.70" x2="380.00" y2="98.70" stroke="#1a1a1a" stroke-width="1.1"/>
<text x="373.20" y="101.90" font-size="9.1" text-anchor="end" fill="#1a1a1a" stroke="#1a1a1a" stroke-width="0.22" >10</text>
<line x1="375.90" y1="151.30" x2="380.00" y2="151.30" stroke="#1a1a1a" stroke-width="1.1"/>
<text x="373.20" y="154.50" font-size="9.1" text-anchor="end" fill="#1a1a1a" stroke="#1a1a1a" stroke-width="0.22" >5</text>
<text x="55.00" y="229.80" font-size="10.7" text-anchor="start" fill="#000" stroke="#000" stroke-width="0.1" >Before Normalization</text>
<text x="86.20" y="244.10" font-size="9.25" text-anchor="start" fill="#000" stroke="#000" stroke-width="0.1" >Combined Datasets</text>
<circle cx="178.8" cy="240.3" r="1.8" fill="#bcd5ee"/>
<polygon points="245.3,241.9 249.9,241.9 247.6,237.8" fill="#e3cdae"/>
<text x="190.60" y="244.10" font-size="9.25" text-anchor="start" fill="#000" stroke="#000" stroke-width="0.1" >GSE66360</text>
<text x="259.50" y="244.10" font-size="9.25" text-anchor="start" fill="#000" stroke="#000" stroke-width="0.1" >GSE48060</text>
<svg x="50.4" y="261.4" width="289.8" height="135.0" viewBox="50.4 261.4 289.8 135.0" overflow="hidden">
<line x1="82.65" y1="261.4" x2="82.65" y2="396.4" stroke="#ebebeb" stroke-width="1.0"/>
<line x1="130.35" y1="261.4" x2="130.35" y2="396.4" stroke="#ebebeb" stroke-width="1.0"/>
<line x1="178.05" y1="261.4" x2="178.05" y2="396.4" stroke="#ebebeb" stroke-width="1.0"/>
<line x1="225.75" y1="261.4" x2="225.75" y2="396.4" stroke="#ebebeb" stroke-width="1.0"/>
<line x1="273.45" y1="261.4" x2="273.45" y2="396.4" stroke="#ebebeb" stroke-width="1.0"/>
<line x1="321.15" y1="261.4" x2="321.15" y2="396.4" stroke="#ebebeb" stroke-width="1.0"/>
<line x1="50.4" y1="262.45" x2="340.2" y2="262.45" stroke="#ebebeb" stroke-width="1.0"/>
<line x1="50.4" y1="295.57" x2="340.2" y2="295.57" stroke="#ebebeb" stroke-width="1.0"/>
<line x1="50.4" y1="328.69" x2="340.2" y2="328.69" stroke="#ebebeb" stroke-width="1.0"/>
<line x1="50.4" y1="361.81" x2="340.2" y2="361.81" stroke="#ebebeb" stroke-width="1.0"/>
<line x1="50.4" y1="394.93" x2="340.2" y2="394.93" stroke="#ebebeb" stroke-width="1.0"/>
<line x1="58.80" y1="261.4" x2="58.80" y2="396.4" stroke="#e4e4e4" stroke-width="1.15"/>
<line x1="106.50" y1="261.4" x2="106.50" y2="396.4" stroke="#e4e4e4" stroke-width="1.15"/>
<line x1="154.20" y1="261.4" x2="154.20" y2="396.4" stroke="#e4e4e4" stroke-width="1.15"/>
<line x1="201.90" y1="261.4" x2="201.90" y2="396.4" stroke="#e4e4e4" stroke-width="1.15"/>
<line x1="249.60" y1="261.4" x2="249.60" y2="396.4" stroke="#e4e4e4" stroke-width="1.15"/>
<line x1="297.30" y1="261.4" x2="297.30" y2="396.4" stroke="#e4e4e4" stroke-width="1.15"/>
<line x1="50.4" y1="279.01" x2="340.2" y2="279.01" stroke="#e4e4e4" stroke-width="1.15"/>
<line x1="50.4" y1="312.13" x2="340.2" y2="312.13" stroke="#e4e4e4" stroke-width="1.15"/>
<line x1="50.4" y1="345.25" x2="340.2" y2="345.25" stroke="#e4e4e4" stroke-width="1.15"/>
<line x1="50.4" y1="378.37" x2="340.2" y2="378.37" stroke="#e4e4e4" stroke-width="1.15"/>
<ellipse cx="139.1" cy="344.1" rx="88" ry="10.6" transform="rotate(-31.35 139.1 344.1)" fill="#c8dcf0" fill-opacity="0.25" stroke="#b9d3ed" stroke-width="1.45"/>
<circle cx="104.5" cy="365.4" r="1.75" fill="#bcd5ee"/>
<circle cx="106.6" cy="359.7" r="1.75" fill="#bcd5ee"/>
<circle cx="109.0" cy="359.7" r="1.75" fill="#bcd5ee"/>
<circle cx="111.5" cy="357.2" r="1.75" fill="#bcd5ee"/>
<circle cx="113.6" cy="356.4" r="1.75" fill="#bcd5ee"/>
<circle cx="115.6" cy="353.9" r="1.75" fill="#bcd5ee"/>
<circle cx="117.7" cy="352.7" r="1.75" fill="#bcd5ee"/>
<circle cx="120.1" cy="351.4" r="1.75" fill="#bcd5ee"/>
<circle cx="122.2" cy="350.2" r="1.75" fill="#bcd5ee"/>
<circle cx="124.7" cy="349.4" r="1.75" fill="#bcd5ee"/>
<circle cx="127.1" cy="348.1" r="1.75" fill="#bcd5ee"/>
<circle cx="129.2" cy="347.3" r="1.75" fill="#bcd5ee"/>
<circle cx="119.7" cy="360.5" r="1.75" fill="#bcd5ee"/>
<circle cx="121.4" cy="362.9" r="1.75" fill="#bcd5ee"/>
<circle cx="123.8" cy="359.7" r="1.75" fill="#bcd5ee"/>
<circle cx="125.5" cy="356.4" r="1.75" fill="#bcd5ee"/>
<circle cx="124.7" cy="353.9" r="1.75" fill="#bcd5ee"/>
<circle cx="127.5" cy="363.8" r="1.75" fill="#bcd5ee"/>
<circle cx="128.8" cy="367.9" r="1.75" fill="#bcd5ee"/>
<circle cx="108.2" cy="361.3" r="1.75" fill="#bcd5ee"/>
<circle cx="111.5" cy="359.7" r="1.75" fill="#bcd5ee"/>
<circle cx="116.4" cy="355.5" r="1.75" fill="#bcd5ee"/>
<circle cx="118.9" cy="354.7" r="1.75" fill="#bcd5ee"/>
<circle cx="121.8" cy="353.1" r="1.75" fill="#bcd5ee"/>
<circle cx="122.2" cy="358.0" r="1.75" fill="#bcd5ee"/>
<circle cx="119.3" cy="358.0" r="1.75" fill="#bcd5ee"/>
<circle cx="104.9" cy="363.3" r="1.75" fill="#bcd5ee"/>
<circle cx="103.7" cy="366.2" r="1.75" fill="#bcd5ee"/>
<circle cx="131.0" cy="345.5" r="1.75" fill="#bcd5ee"/>
<circle cx="133.0" cy="343.0" r="1.75" fill="#bcd5ee"/>
<circle cx="134.5" cy="342.0" r="1.75" fill="#bcd5ee"/>
<circle cx="137.0" cy="340.5" r="1.75" fill="#bcd5ee"/>
<circle cx="138.0" cy="343.5" r="1.75" fill="#bcd5ee"/>
<circle cx="132.0" cy="351.0" r="1.75" fill="#bcd5ee"/>
<circle cx="126.0" cy="360.0" r="1.75" fill="#bcd5ee"/>
<circle cx="117.0" cy="358.5" r="1.75" fill="#bcd5ee"/>
<circle cx="113.0" cy="358.0" r="1.75" fill="#bcd5ee"/>
<circle cx="110.0" cy="362.0" r="1.75" fill="#bcd5ee"/>
<circle cx="104.2" cy="365.0" r="1.75" fill="#bcd5ee"/>
<circle cx="107.0" cy="359.9" r="1.75" fill="#bcd5ee"/>
<circle cx="111.7" cy="357.1" r="1.75" fill="#bcd5ee"/>
<circle cx="115.0" cy="355.2" r="1.75" fill="#bcd5ee"/>
<circle cx="116.4" cy="353.8" r="1.75" fill="#bcd5ee"/>
<circle cx="118.8" cy="352.4" r="1.75" fill="#bcd5ee"/>
<circle cx="121.6" cy="350.5" r="1.75" fill="#bcd5ee"/>
<circle cx="124.4" cy="349.6" r="1.75" fill="#bcd5ee"/>
<circle cx="126.8" cy="348.1" r="1.75" fill="#bcd5ee"/>
<circle cx="119.7" cy="359.4" r="1.75" fill="#bcd5ee"/>
<circle cx="120.2" cy="362.2" r="1.75" fill="#bcd5ee"/>
<circle cx="122.5" cy="354.7" r="1.75" fill="#bcd5ee"/>
<circle cx="124.9" cy="352.8" r="1.75" fill="#bcd5ee"/>
<circle cx="127.2" cy="363.6" r="1.75" fill="#bcd5ee"/>
<circle cx="129.1" cy="368.3" r="1.75" fill="#bcd5ee"/>
<circle cx="130.5" cy="355.7" r="1.75" fill="#bcd5ee"/>
<circle cx="131.9" cy="341.1" r="1.75" fill="#bcd5ee"/>
<circle cx="135.7" cy="341.6" r="1.75" fill="#bcd5ee"/>
<circle cx="132.9" cy="348.1" r="1.75" fill="#bcd5ee"/>
<circle cx="134.7" cy="350.0" r="1.75" fill="#bcd5ee"/>
<circle cx="134.3" cy="352.8" r="1.75" fill="#bcd5ee"/>
<circle cx="136.2" cy="366.0" r="1.75" fill="#bcd5ee"/>
<circle cx="139.0" cy="365.0" r="1.75" fill="#bcd5ee"/>
<circle cx="139.4" cy="336.0" r="1.75" fill="#bcd5ee"/>
<circle cx="105.6" cy="362.2" r="1.75" fill="#bcd5ee"/>
<circle cx="108.5" cy="360.4" r="1.75" fill="#bcd5ee"/>
<circle cx="113.1" cy="356.1" r="1.75" fill="#bcd5ee"/>
<circle cx="116.9" cy="357.5" r="1.75" fill="#bcd5ee"/>
<circle cx="118.3" cy="355.7" r="1.75" fill="#bcd5ee"/>
<circle cx="123.5" cy="357.5" r="1.75" fill="#bcd5ee"/>
<circle cx="110.0" cy="361.0" r="1.75" fill="#bcd5ee"/>
<circle cx="112.5" cy="359.0" r="1.75" fill="#bcd5ee"/>
<circle cx="114.0" cy="361.0" r="1.75" fill="#bcd5ee"/>
<circle cx="117.5" cy="351.0" r="1.75" fill="#bcd5ee"/>
<circle cx="120.0" cy="353.0" r="1.75" fill="#bcd5ee"/>
<circle cx="126.0" cy="351.0" r="1.75" fill="#bcd5ee"/>
<circle cx="128.0" cy="346.0" r="1.75" fill="#bcd5ee"/>
<circle cx="130.0" cy="344.0" r="1.75" fill="#bcd5ee"/>
<circle cx="133.0" cy="344.0" r="1.75" fill="#bcd5ee"/>
<circle cx="136.0" cy="345.0" r="1.75" fill="#bcd5ee"/>
<circle cx="135.9" cy="341.5" r="1.75" fill="#bcd5ee"/>
<circle cx="139.2" cy="335.8" r="1.75" fill="#bcd5ee"/>
<circle cx="141.6" cy="334.4" r="1.75" fill="#bcd5ee"/>
<circle cx="141.1" cy="337.7" r="1.75" fill="#bcd5ee"/>
<circle cx="145.8" cy="335.4" r="1.75" fill="#bcd5ee"/>
<circle cx="146.7" cy="337.7" r="1.75" fill="#bcd5ee"/>
<circle cx="147.2" cy="340.0" r="1.75" fill="#bcd5ee"/>
<circle cx="144.4" cy="343.8" r="1.75" fill="#bcd5ee"/>
<circle cx="141.6" cy="345.7" r="1.75" fill="#bcd5ee"/>
<circle cx="152.4" cy="331.6" r="1.75" fill="#bcd5ee"/>
<circle cx="154.7" cy="338.6" r="1.75" fill="#bcd5ee"/>
<circle cx="159.4" cy="336.3" r="1.75" fill="#bcd5ee"/>
<circle cx="159.9" cy="328.3" r="1.75" fill="#bcd5ee"/>
<circle cx="164.6" cy="338.2" r="1.75" fill="#bcd5ee"/>
<circle cx="164.6" cy="318.9" r="1.75" fill="#bcd5ee"/>
<circle cx="167.9" cy="330.2" r="1.75" fill="#bcd5ee"/>
<circle cx="169.3" cy="322.2" r="1.75" fill="#bcd5ee"/>
<circle cx="169.3" cy="325.0" r="1.75" fill="#bcd5ee"/>
<circle cx="173.5" cy="325.5" r="1.75" fill="#bcd5ee"/>
<circle cx="135.5" cy="348.5" r="1.75" fill="#bcd5ee"/>
<circle cx="140.2" cy="336.4" r="1.75" fill="#bcd5ee"/>
<circle cx="140.8" cy="334.7" r="1.75" fill="#bcd5ee"/>
<circle cx="130.2" cy="355.8" r="1.75" fill="#bcd5ee"/>
<circle cx="140.2" cy="358.1" r="1.75" fill="#bcd5ee"/>
<circle cx="136.7" cy="366.4" r="1.75" fill="#bcd5ee"/>
<circle cx="140.2" cy="364.6" r="1.75" fill="#bcd5ee"/>
<circle cx="129.0" cy="368.1" r="1.75" fill="#bcd5ee"/>
<circle cx="127.3" cy="364.0" r="1.75" fill="#bcd5ee"/>
<circle cx="120.2" cy="360.5" r="1.75" fill="#bcd5ee"/>
<circle cx="199.7" cy="297.2" r="1.75" fill="#bcd5ee"/>
<circle cx="180.5" cy="308.0" r="1.75" fill="#bcd5ee"/>
<circle cx="178.1" cy="311.3" r="1.75" fill="#bcd5ee"/>
<circle cx="188.5" cy="306.6" r="1.75" fill="#bcd5ee"/>
<circle cx="189.4" cy="309.9" r="1.75" fill="#bcd5ee"/>
<circle cx="187.5" cy="314.1" r="1.75" fill="#bcd5ee"/>
<circle cx="189.4" cy="316.9" r="1.75" fill="#bcd5ee"/>
<circle cx="195.5" cy="309.9" r="1.75" fill="#bcd5ee"/>
<circle cx="179.1" cy="317.9" r="1.75" fill="#bcd5ee"/>
<circle cx="169.2" cy="321.2" r="1.75" fill="#bcd5ee"/>
<circle cx="173.5" cy="324.4" r="1.75" fill="#bcd5ee"/>
<circle cx="191.3" cy="322.1" r="1.75" fill="#bcd5ee"/>
<circle cx="215.3" cy="291.4" r="1.75" fill="#bcd5ee"/>
<circle cx="226.3" cy="278.2" r="1.75" fill="#bcd5ee"/>
<circle cx="228.2" cy="279.0" r="1.75" fill="#bcd5ee"/>
<circle cx="236.5" cy="293.9" r="1.75" fill="#bcd5ee"/>
<circle cx="238.0" cy="294.3" r="1.75" fill="#bcd5ee"/>
<circle cx="241.2" cy="291.0" r="1.75" fill="#bcd5ee"/>
<circle cx="263.1" cy="281.2" r="1.75" fill="#bcd5ee"/>
<circle cx="283.5" cy="267.3" r="1.75" fill="#bcd5ee"/>
<circle cx="284.0" cy="268.5" r="1.75" fill="#bcd5ee"/>
<circle cx="285.4" cy="270.5" r="1.75" fill="#bcd5ee"/>
<ellipse cx="301.5" cy="359.0" rx="28.6" ry="3.4" transform="rotate(-27 301.5 359.0)" fill="#e3cdae" fill-opacity="1" stroke="#e3cdae" stroke-width="1.0"/>
<polygon points="278.5,367.0 281.9,367.0 280.2,363.9" fill="#e3cdae"/>
<polygon points="282.1,365.9 285.3,365.9 283.7,363.0" fill="#e3cdae"/>
<polygon points="284.2,362.8 288.6,362.8 286.4,358.8" fill="#e3cdae"/>
<polygon points="288.1,363.3 290.9,363.3 289.5,360.8" fill="#e3cdae"/>
<polygon points="308.2,353.5 310.8,353.5 309.5,351.2" fill="#e3cdae"/>
<polygon points="316.7,353.8 319.3,353.8 318.0,351.5" fill="#e3cdae"/>
<polygon points="314.2,358.5 316.8,358.5 315.5,356.2" fill="#e3cdae"/>
<polygon points="297.7,365.8 300.3,365.8 299.0,363.5" fill="#e3cdae"/>
<polygon points="304.7,362.8 307.3,362.8 306.0,360.5" fill="#e3cdae"/>
<polygon points="321.2,351.5 323.8,351.5 322.5,349.2" fill="#e3cdae"/>
<polygon points="290.8,368.5 293.2,368.5 292.0,366.3" fill="#e3cdae"/>
<line x1="278.5" y1="370.2" x2="283" y2="368.4" stroke="#f6efe6" stroke-width="0.7"/>
<line x1="294.8" y1="360.8" x2="295.6" y2="362.8" stroke="#f6efe6" stroke-width="0.7"/>
<line x1="296.2" y1="362" x2="297.4" y2="361.4" stroke="#f6efe6" stroke-width="0.7"/>
<line x1="303" y1="358" x2="304.2" y2="357.4" stroke="#f6efe6" stroke-width="0.7"/>
<line x1="311" y1="354.6" x2="311.8" y2="354.2" stroke="#f6efe6" stroke-width="0.7"/>
<line x1="318.5" y1="350.8" x2="319.3" y2="350.4" stroke="#f6efe6" stroke-width="0.7"/>
<line x1="288" y1="366.2" x2="289" y2="365.8" stroke="#f6efe6" stroke-width="0.7"/>
<line x1="50.4" y1="345.25" x2="340.2" y2="345.25" stroke="#1a1a1a" stroke-width="1.4" stroke-dasharray="8.15 3.4"/>
<line x1="201.90" y1="261.4" x2="201.90" y2="396.4" stroke="#1a1a1a" stroke-width="1.4" stroke-dasharray="8.15 3.4"/>
</svg>
<rect x="50.4" y="261.4" width="289.80" height="135.00" fill="none" stroke="#1a1a1a" stroke-width="1.4"/>
<line x1="58.80" y1="396.4" x2="58.80" y2="400.40" stroke="#1a1a1a" stroke-width="1.1"/>
<text x="58.80" y="410.90" font-size="9.5" text-anchor="middle" fill="#1a1a1a" stroke="#1a1a1a" stroke-width="0.22" >−150</text>
<line x1="106.50" y1="396.4" x2="106.50" y2="400.40" stroke="#1a1a1a" stroke-width="1.1"/>
<text x="106.50" y="410.90" font-size="9.5" text-anchor="middle" fill="#1a1a1a" stroke="#1a1a1a" stroke-width="0.22" >−100</text>
<line x1="154.20" y1="396.4" x2="154.20" y2="400.40" stroke="#1a1a1a" stroke-width="1.1"/>
<text x="154.20" y="410.90" font-size="9.5" text-anchor="middle" fill="#1a1a1a" stroke="#1a1a1a" stroke-width="0.22" >−50</text>
<line x1="201.90" y1="396.4" x2="201.90" y2="400.40" stroke="#1a1a1a" stroke-width="1.1"/>
<text x="201.90" y="410.90" font-size="9.5" text-anchor="middle" fill="#1a1a1a" stroke="#1a1a1a" stroke-width="0.22" >0</text>
<line x1="249.60" y1="396.4" x2="249.60" y2="400.40" stroke="#1a1a1a" stroke-width="1.1"/>
<text x="249.60" y="410.90" font-size="9.5" text-anchor="middle" fill="#1a1a1a" stroke="#1a1a1a" stroke-width="0.22" >50</text>
<line x1="297.30" y1="396.4" x2="297.30" y2="400.40" stroke="#1a1a1a" stroke-width="1.1"/>
<text x="297.30" y="410.90" font-size="9.5" text-anchor="middle" fill="#1a1a1a" stroke="#1a1a1a" stroke-width="0.22" >100</text>
<line x1="46.30" y1="279.01" x2="50.4" y2="279.01" stroke="#1a1a1a" stroke-width="1.1"/>
<text x="43.20" y="282.71" font-size="9.5" text-anchor="end" fill="#1a1a1a" stroke="#1a1a1a" stroke-width="0.22" >200</text>
<line x1="46.30" y1="312.13" x2="50.4" y2="312.13" stroke="#1a1a1a" stroke-width="1.1"/>
<text x="43.20" y="315.83" font-size="9.5" text-anchor="end" fill="#1a1a1a" stroke="#1a1a1a" stroke-width="0.22" >100</text>
<line x1="46.30" y1="345.25" x2="50.4" y2="345.25" stroke="#1a1a1a" stroke-width="1.1"/>
<text x="43.20" y="348.95" font-size="9.5" text-anchor="end" fill="#1a1a1a" stroke="#1a1a1a" stroke-width="0.22" >0</text>
<line x1="46.30" y1="378.37" x2="50.4" y2="378.37" stroke="#1a1a1a" stroke-width="1.1"/>
<text x="43.20" y="382.07" font-size="9.5" text-anchor="end" fill="#1a1a1a" stroke="#1a1a1a" stroke-width="0.22" >−100</text>
<text x="195.30" y="423.90" font-size="9.3" text-anchor="middle" fill="#1a1a1a" stroke="#1a1a1a" stroke-width="0.22" >PC1 ( 7.44%)</text>
<text x="16.00" y="328.90" font-size="9.3" text-anchor="middle" fill="#1a1a1a" stroke="#1a1a1a" stroke-width="0.22" transform="rotate(-90 16.0 328.9)">PC2 ( 6.17%)</text>
<text x="398.80" y="229.80" font-size="10.7" text-anchor="start" fill="#000" stroke="#000" stroke-width="0.1" >After Normalization</text>
<text x="430.20" y="244.10" font-size="9.25" text-anchor="start" fill="#000" stroke="#000" stroke-width="0.1" >Combined Datasets</text>
<circle cx="522.8" cy="240.3" r="1.8" fill="#bcd5ee"/>
<polygon points="589.3,241.9 593.9,241.9 591.6,237.8" fill="#e3cdae"/>
<text x="534.60" y="244.10" font-size="9.25" text-anchor="start" fill="#000" stroke="#000" stroke-width="0.1" >GSE66360</text>
<text x="603.50" y="244.10" font-size="9.25" text-anchor="start" fill="#000" stroke="#000" stroke-width="0.1" >GSE48060</text>
<svg x="394.3" y="261.4" width="289.3" height="135.0" viewBox="394.3 261.4 289.3 135.0" overflow="hidden">
<line x1="459.95" y1="261.4" x2="459.95" y2="396.4" stroke="#ebebeb" stroke-width="1.0"/>
<line x1="545.25" y1="261.4" x2="545.25" y2="396.4" stroke="#ebebeb" stroke-width="1.0"/>
<line x1="630.55" y1="261.4" x2="630.55" y2="396.4" stroke="#ebebeb" stroke-width="1.0"/>
<line x1="394.3" y1="267.55" x2="683.6" y2="267.55" stroke="#ebebeb" stroke-width="1.0"/>
<line x1="394.3" y1="301.45" x2="683.6" y2="301.45" stroke="#ebebeb" stroke-width="1.0"/>
<line x1="394.3" y1="335.35" x2="683.6" y2="335.35" stroke="#ebebeb" stroke-width="1.0"/>
<line x1="394.3" y1="369.25" x2="683.6" y2="369.25" stroke="#ebebeb" stroke-width="1.0"/>
<line x1="417.30" y1="261.4" x2="417.30" y2="396.4" stroke="#e4e4e4" stroke-width="1.15"/>
<line x1="502.60" y1="261.4" x2="502.60" y2="396.4" stroke="#e4e4e4" stroke-width="1.15"/>
<line x1="587.90" y1="261.4" x2="587.90" y2="396.4" stroke="#e4e4e4" stroke-width="1.15"/>
<line x1="673.20" y1="261.4" x2="673.20" y2="396.4" stroke="#e4e4e4" stroke-width="1.15"/>
<line x1="394.3" y1="284.50" x2="683.6" y2="284.50" stroke="#e4e4e4" stroke-width="1.15"/>
<line x1="394.3" y1="318.40" x2="683.6" y2="318.40" stroke="#e4e4e4" stroke-width="1.15"/>
<line x1="394.3" y1="352.30" x2="683.6" y2="352.30" stroke="#e4e4e4" stroke-width="1.15"/>
<line x1="394.3" y1="386.20" x2="683.6" y2="386.20" stroke="#e4e4e4" stroke-width="1.15"/>
<circle cx="452.7" cy="325.6" r="1.75" fill="#bcd5ee"/>
<circle cx="457.4" cy="324.1" r="1.75" fill="#bcd5ee"/>
<circle cx="459.6" cy="326.7" r="1.75" fill="#bcd5ee"/>
<circle cx="460.0" cy="329.2" r="1.75" fill="#bcd5ee"/>
<circle cx="461.8" cy="324.5" r="1.75" fill="#bcd5ee"/>
<circle cx="463.2" cy="327.0" r="1.75" fill="#bcd5ee"/>
<circle cx="465.4" cy="328.1" r="1.75" fill="#bcd5ee"/>
<circle cx="466.9" cy="325.2" r="1.75" fill="#bcd5ee"/>
<circle cx="469.1" cy="326.7" r="1.75" fill="#bcd5ee"/>
<circle cx="470.9" cy="326.0" r="1.75" fill="#bcd5ee"/>
<circle cx="473.1" cy="329.2" r="1.75" fill="#bcd5ee"/>
<circle cx="474.2" cy="325.2" r="1.75" fill="#bcd5ee"/>
<circle cx="477.1" cy="328.5" r="1.75" fill="#bcd5ee"/>
<circle cx="478.6" cy="325.2" r="1.75" fill="#bcd5ee"/>
<circle cx="483.0" cy="325.2" r="1.75" fill="#bcd5ee"/>
<circle cx="483.3" cy="327.4" r="1.75" fill="#bcd5ee"/>
<circle cx="489.5" cy="325.2" r="1.75" fill="#bcd5ee"/>
<circle cx="458.1" cy="322.3" r="1.75" fill="#bcd5ee"/>
<circle cx="464.7" cy="323.0" r="1.75" fill="#bcd5ee"/>
<circle cx="469.8" cy="323.0" r="1.75" fill="#bcd5ee"/>
<circle cx="475.7" cy="323.0" r="1.75" fill="#bcd5ee"/>
<circle cx="493.2" cy="334.3" r="1.75" fill="#bcd5ee"/>
<circle cx="452.7" cy="325.4" r="1.75" fill="#bcd5ee"/>
<circle cx="458.8" cy="323.5" r="1.75" fill="#bcd5ee"/>
<circle cx="460.2" cy="328.2" r="1.75" fill="#bcd5ee"/>
<circle cx="462.5" cy="325.4" r="1.75" fill="#bcd5ee"/>
<circle cx="465.4" cy="327.7" r="1.75" fill="#bcd5ee"/>
<circle cx="468.2" cy="324.9" r="1.75" fill="#bcd5ee"/>
<circle cx="471.0" cy="326.3" r="1.75" fill="#bcd5ee"/>
<circle cx="473.3" cy="329.1" r="1.75" fill="#bcd5ee"/>
<circle cx="477.1" cy="328.2" r="1.75" fill="#bcd5ee"/>
<circle cx="483.2" cy="324.9" r="1.75" fill="#bcd5ee"/>
<circle cx="483.2" cy="327.2" r="1.75" fill="#bcd5ee"/>
<circle cx="489.8" cy="325.2" r="1.75" fill="#bcd5ee"/>
<circle cx="468.2" cy="311.7" r="1.75" fill="#bcd5ee"/>
<circle cx="478.5" cy="312.7" r="1.75" fill="#bcd5ee"/>
<circle cx="483.2" cy="311.3" r="1.75" fill="#bcd5ee"/>
<circle cx="487.0" cy="312.0" r="1.75" fill="#bcd5ee"/>
<circle cx="486.5" cy="303.8" r="1.75" fill="#bcd5ee"/>
<circle cx="488.8" cy="305.2" r="1.75" fill="#bcd5ee"/>
<circle cx="491.2" cy="307.0" r="1.75" fill="#bcd5ee"/>
<circle cx="496.8" cy="304.2" r="1.75" fill="#bcd5ee"/>
<circle cx="493.0" cy="335.2" r="1.75" fill="#bcd5ee"/>
<circle cx="456.0" cy="326.0" r="1.75" fill="#bcd5ee"/>
<circle cx="464.0" cy="322.5" r="1.75" fill="#bcd5ee"/>
<circle cx="470.0" cy="322.0" r="1.75" fill="#bcd5ee"/>
<circle cx="475.0" cy="325.0" r="1.75" fill="#bcd5ee"/>
<circle cx="480.0" cy="323.0" r="1.75" fill="#bcd5ee"/>
<circle cx="466.0" cy="329.5" r="1.75" fill="#bcd5ee"/>
<circle cx="458.0" cy="322.0" r="1.75" fill="#bcd5ee"/>
<circle cx="462.0" cy="321.0" r="1.75" fill="#bcd5ee"/>
<circle cx="531.1" cy="290.3" r="1.75" fill="#bcd5ee"/>
<circle cx="548.8" cy="293.0" r="1.75" fill="#bcd5ee"/>
<circle cx="554.3" cy="295.0" r="1.75" fill="#bcd5ee"/>
<circle cx="559.7" cy="295.0" r="1.75" fill="#bcd5ee"/>
<circle cx="561.3" cy="287.9" r="1.75" fill="#bcd5ee"/>
<circle cx="569.3" cy="296.2" r="1.75" fill="#bcd5ee"/>
<circle cx="557.6" cy="303.8" r="1.75" fill="#bcd5ee"/>
<circle cx="558.5" cy="313.8" r="1.75" fill="#bcd5ee"/>
<circle cx="508.5" cy="310.3" r="1.75" fill="#bcd5ee"/>
<circle cx="517.4" cy="309.7" r="1.75" fill="#bcd5ee"/>
<circle cx="520.9" cy="312.6" r="1.75" fill="#bcd5ee"/>
<circle cx="526.4" cy="313.2" r="1.75" fill="#bcd5ee"/>
<circle cx="501.2" cy="307.9" r="1.75" fill="#bcd5ee"/>
<circle cx="507.1" cy="326.7" r="1.75" fill="#bcd5ee"/>
<circle cx="497.0" cy="304.5" r="1.75" fill="#bcd5ee"/>
<circle cx="497.9" cy="296.6" r="1.75" fill="#bcd5ee"/>
<circle cx="500.5" cy="308.0" r="1.75" fill="#bcd5ee"/>
<circle cx="490.9" cy="307.1" r="1.75" fill="#bcd5ee"/>
<circle cx="492.6" cy="335.2" r="1.75" fill="#bcd5ee"/>
<circle cx="651.7" cy="267.3" r="1.75" fill="#bcd5ee"/>
<circle cx="657.0" cy="271.4" r="1.75" fill="#bcd5ee"/>
<circle cx="594.8" cy="282.4" r="1.75" fill="#bcd5ee"/>
<circle cx="594.8" cy="292.8" r="1.75" fill="#bcd5ee"/>
<circle cx="609.9" cy="295.0" r="1.75" fill="#bcd5ee"/>
<circle cx="582.5" cy="335.0" r="1.75" fill="#bcd5ee"/>
<circle cx="608.3" cy="357.3" r="1.75" fill="#bcd5ee"/>
<circle cx="670.7" cy="372.6" r="1.75" fill="#bcd5ee"/>
<circle cx="662.8" cy="386.4" r="1.75" fill="#bcd5ee"/>
<circle cx="641.3" cy="390.4" r="1.75" fill="#bcd5ee"/>
<circle cx="558.4" cy="313.6" r="1.75" fill="#bcd5ee"/>
<circle cx="582.0" cy="334.2" r="1.75" fill="#bcd5ee"/>
<circle cx="563.2" cy="342.7" r="1.75" fill="#bcd5ee"/>
<circle cx="558.3" cy="345.1" r="1.75" fill="#bcd5ee"/>
<polygon points="515.2,321.1 518.2,321.1 516.7,318.4" fill="#e3cdae"/>
<polygon points="535.9,322.4 538.9,322.4 537.4,319.7" fill="#e3cdae"/>
<polygon points="529.3,322.3 532.3,322.3 530.8,319.6" fill="#e3cdae"/>
<polygon points="444.0,319.3 447.0,319.3 445.5,316.6" fill="#e3cdae"/>
<polygon points="553.7,320.5 556.7,320.5 555.2,317.8" fill="#e3cdae"/>
<polygon points="548.6,316.9 551.6,316.9 550.1,314.2" fill="#e3cdae"/>
<polygon points="496.8,317.8 499.8,317.8 498.3,315.1" fill="#e3cdae"/>
<polygon points="505.8,320.0 508.8,320.0 507.3,317.3" fill="#e3cdae"/>
<polygon points="442.1,317.6 445.1,317.6 443.6,314.9" fill="#e3cdae"/>
<polygon points="474.0,322.2 477.0,322.2 475.5,319.5" fill="#e3cdae"/>
<polygon points="532.4,317.3 535.4,317.3 533.9,314.6" fill="#e3cdae"/>
<polygon points="536.2,317.1 539.2,317.1 537.7,314.4" fill="#e3cdae"/>
<polygon points="514.6,317.0 517.6,317.0 516.1,314.3" fill="#e3cdae"/>
<polygon points="440.7,322.0 443.7,322.0 442.2,319.3" fill="#e3cdae"/>
<polygon points="465.6,317.6 468.6,317.6 467.1,314.9" fill="#e3cdae"/>
<polygon points="558.4,322.0 561.4,322.0 559.9,319.3" fill="#e3cdae"/>
<polygon points="475.2,322.5 478.2,322.5 476.7,319.8" fill="#e3cdae"/>
<polygon points="505.2,320.7 508.2,320.7 506.7,318.0" fill="#e3cdae"/>
<polygon points="465.1,322.4 468.1,322.4 466.6,319.7" fill="#e3cdae"/>
<polygon points="523.4,322.6 526.4,322.6 524.9,319.9" fill="#e3cdae"/>
<polygon points="547.7,318.2 550.7,318.2 549.2,315.5" fill="#e3cdae"/>
<polygon points="483.8,317.3 486.8,317.3 485.3,314.6" fill="#e3cdae"/>
<polygon points="458.0,316.6 461.0,316.6 459.5,313.9" fill="#e3cdae"/>
<polygon points="476.7,320.2 479.7,320.2 478.2,317.5" fill="#e3cdae"/>
<polygon points="440.9,320.7 443.9,320.7 442.4,318.0" fill="#e3cdae"/>
<polygon points="481.0,318.2 484.0,318.2 482.5,315.5" fill="#e3cdae"/>
<polygon points="538.7,319.4 541.7,319.4 540.2,316.7" fill="#e3cdae"/>
<polygon points="478.4,319.4 481.4,319.4 479.9,316.7" fill="#e3cdae"/>
<polygon points="525.1,316.6 528.1,316.6 526.6,313.9" fill="#e3cdae"/>
<polygon points="557.5,316.4 560.5,316.4 559.0,313.7" fill="#e3cdae"/>
<polygon points="530.5,321.8 533.5,321.8 532.0,319.1" fill="#e3cdae"/>
<polygon points="442.7,321.4 445.7,321.4 444.2,318.7" fill="#e3cdae"/>
<polygon points="484.4,320.0 487.4,320.0 485.9,317.3" fill="#e3cdae"/>
<polygon points="441.6,316.5 444.6,316.5 443.1,313.8" fill="#e3cdae"/>
<polygon points="462.2,322.5 465.2,322.5 463.7,319.8" fill="#e3cdae"/>
<polygon points="464.1,321.2 467.1,321.2 465.6,318.5" fill="#e3cdae"/>
<polygon points="552.1,322.4 555.1,322.4 553.6,319.7" fill="#e3cdae"/>
<polygon points="481.8,318.5 484.8,318.5 483.3,315.8" fill="#e3cdae"/>
<polygon points="503.5,321.3 506.5,321.3 505.0,318.6" fill="#e3cdae"/>
<polygon points="453.5,321.1 456.5,321.1 455.0,318.4" fill="#e3cdae"/>
<polygon points="572.7,316.2 577.1,316.2 574.9,312.2" fill="#e3cdae"/>
<polygon points="572.7,325.0 577.1,325.0 574.9,321.0" fill="#e3cdae"/>
<polygon points="576.3,321.9 580.7,321.9 578.5,317.9" fill="#e3cdae"/>
<polygon points="582.0,320.2 586.4,320.2 584.2,316.2" fill="#e3cdae"/>
<polygon points="593.7,319.3 598.1,319.3 595.9,315.3" fill="#e3cdae"/>
<polygon points="540.4,323.3 544.8,323.3 542.6,319.3" fill="#e3cdae"/>
<polygon points="545.7,323.3 550.1,323.3 547.9,319.3" fill="#e3cdae"/>
<polygon points="555.8,319.8 560.2,319.8 558.0,315.8" fill="#e3cdae"/>
<polygon points="536.0,314.7 540.4,314.7 538.2,310.7" fill="#e3cdae"/>
<polygon points="540.3,323.8 544.7,323.8 542.5,319.8" fill="#e3cdae"/>
<polygon points="545.6,323.8 550.0,323.8 547.8,319.8" fill="#e3cdae"/>
<polygon points="442.2,318.0 446.6,318.0 444.4,314.0" fill="#e3cdae"/>
<ellipse cx="486.0" cy="318.3" rx="76" ry="18" transform="rotate(-10.6 486.0 318.3)" fill="#c8dcf0" fill-opacity="0.25" stroke="#b9d3ed" stroke-width="1.45"/>
<ellipse cx="492.2" cy="318.35" rx="86.4" ry="4.4" transform="rotate(0.63 492.2 318.35)" fill="#e3cdae" fill-opacity="0.35" stroke="#dcc4a3" stroke-width="1.5"/>
<line x1="394.3" y1="318.40" x2="683.6" y2="318.40" stroke="#1a1a1a" stroke-width="1.4" stroke-dasharray="8.15 3.4"/>
<line x1="502.60" y1="261.4" x2="502.60" y2="396.4" stroke="#1a1a1a" stroke-width="1.4" stroke-dasharray="8.15 3.4"/>
</svg>
<rect x="394.3" y="261.4" width="289.30" height="135.00" fill="none" stroke="#1a1a1a" stroke-width="1.4"/>
<line x1="417.30" y1="396.4" x2="417.30" y2="400.40" stroke="#1a1a1a" stroke-width="1.1"/>
<text x="417.30" y="410.90" font-size="9.5" text-anchor="middle" fill="#1a1a1a" stroke="#1a1a1a" stroke-width="0.22" >−100</text>
<line x1="502.60" y1="396.4" x2="502.60" y2="400.40" stroke="#1a1a1a" stroke-width="1.1"/>
<text x="502.60" y="410.90" font-size="9.5" text-anchor="middle" fill="#1a1a1a" stroke="#1a1a1a" stroke-width="0.22" >0</text>
<line x1="587.90" y1="396.4" x2="587.90" y2="400.40" stroke="#1a1a1a" stroke-width="1.1"/>
<text x="587.90" y="410.90" font-size="9.5" text-anchor="middle" fill="#1a1a1a" stroke="#1a1a1a" stroke-width="0.22" >100</text>
<line x1="673.20" y1="396.4" x2="673.20" y2="400.40" stroke="#1a1a1a" stroke-width="1.1"/>
<text x="673.20" y="410.90" font-size="9.5" text-anchor="middle" fill="#1a1a1a" stroke="#1a1a1a" stroke-width="0.22" >200</text>
<line x1="390.20" y1="284.50" x2="394.3" y2="284.50" stroke="#1a1a1a" stroke-width="1.1"/>
<text x="387.10" y="288.20" font-size="9.5" text-anchor="end" fill="#1a1a1a" stroke="#1a1a1a" stroke-width="0.22" >100</text>
<line x1="390.20" y1="318.40" x2="394.3" y2="318.40" stroke="#1a1a1a" stroke-width="1.1"/>
<text x="387.10" y="322.10" font-size="9.5" text-anchor="end" fill="#1a1a1a" stroke="#1a1a1a" stroke-width="0.22" >0</text>
<line x1="390.20" y1="352.30" x2="394.3" y2="352.30" stroke="#1a1a1a" stroke-width="1.1"/>
<text x="387.10" y="356.00" font-size="9.5" text-anchor="end" fill="#1a1a1a" stroke="#1a1a1a" stroke-width="0.22" >−100</text>
<line x1="390.20" y1="386.20" x2="394.3" y2="386.20" stroke="#1a1a1a" stroke-width="1.1"/>
<text x="387.10" y="389.90" font-size="9.5" text-anchor="end" fill="#1a1a1a" stroke="#1a1a1a" stroke-width="0.22" >−200</text>
<text x="538.95" y="423.90" font-size="9.3" text-anchor="middle" fill="#1a1a1a" stroke="#1a1a1a" stroke-width="0.22" >PC1 ( 3.81%)</text>
<text x="360.00" y="328.90" font-size="9.3" text-anchor="middle" fill="#1a1a1a" stroke="#1a1a1a" stroke-width="0.22" transform="rotate(-90 360.0 328.9)">PC2 ( 2.9%)</text>
</g>
</svg></body></html>
